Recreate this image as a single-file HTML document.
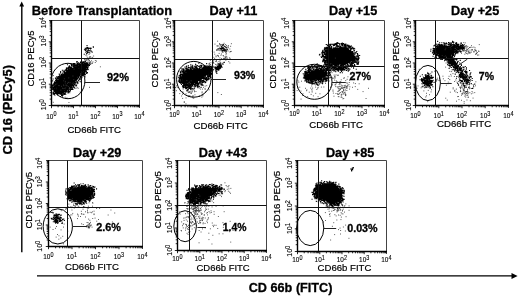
<!DOCTYPE html><html><head><meta charset="utf-8"><title>Figure</title><style>html,body{margin:0;padding:0;background:#fff}svg{display:block;filter:blur(0.3px)}</style></head><body><svg width="520" height="296" viewBox="0 0 520 296" font-family='&quot;Liberation Sans&quot;, Arial, Helvetica, sans-serif'>
<rect width="520" height="296" fill="#fff"/>
<path d="M21.8 252.3V5" stroke="#000" stroke-width="1.4" fill="none"/>
<polygon points="21.7,1.5 19.3,6.4 24.1,6.4" fill="#000"/>
<path d="M37 275.9H512" stroke="#000" stroke-width="1.4" fill="none"/>
<polygon points="517.6,276 511.5,272.9 511.5,279.1" fill="#000"/>
<text transform="translate(12 154.6) rotate(-90)" font-size="13" font-weight="bold" textLength="89.6" lengthAdjust="spacingAndGlyphs" stroke="#000" stroke-width=".3">CD 16 (PECy5)</text>
<text x="248.7" y="291.5" font-size="13" font-weight="bold" textLength="83.8" lengthAdjust="spacingAndGlyphs" stroke="#000" stroke-width=".3">CD 66b (FITC)</text>
<polygon points="55.4,89.2 54.6,88.4 54.6,87.2 55.5,86 55.5,84.8 55.9,83.6 55.7,82.2 56.6,81.1 57,79.7 59.1,79.3 59.2,76.8 61.2,76 62.4,74.5 64,73.6 65.4,72.6 66.3,71.3 67.3,70.2 68.6,69.8 69.6,69 70.4,68 71.9,68.1 73.2,67.8 74,66.3 75.6,66.3 77.1,66.3 78.4,65.4 79.6,64.8 80.9,64.9 82,64.9 82.9,64.1 83.9,63.7 84.8,64.3 85.4,64.7 86.2,64.4 86.6,64.6 86.3,65 86.8,65.2 87,66 86.1,66.8 85.5,67.7 85.6,68.9 85,70 84.8,71.1 83.2,71.2 82.7,72.2 81.8,72.9 80.6,73.3 80.1,74.9 79.3,76 77.8,76.7 77.7,78.5 76.6,79.6 75.7,80.8 74.7,82 74.1,83.5 72.3,84 72.1,85.7 71.1,86.8 69.2,87.2 68.8,89.1 67.5,89.9 66.8,91.2 65.4,91.5 64.5,92.2 63.6,92.7 62.5,92.3 61.4,93.1 60.4,92.7 59.3,92.8 58.5,92.2 57.5,92.7 57,92.2 56.7,91.6 56,91.5 55.5,91.3 54.9,90.9 56.3,89.7" fill="#000"/>
<path d="M91 60.8h.9M86.5 56h.9M87.8 59.3h.9M85 52.3h.9M88.1 59.3h.9M88 52.6h.9M85.4 58.6h.9M85.9 49h.9M86.9 57.8h.9M88.5 60.5h.9M84.1 59.7h.9M89.3 62.2h.9M86.2 54.2h.9M91.8 63.5h.9M90.7 63.7h.9M86 53.7h.9M85.4 55.2h.9M93.2 56h.9M88.6 57.9h.9M88.5 58.6h.9M85.9 49.3h.9M86.7 60.1h.9M89.1 57.1h.9M88.6 54.4h.9M84.9 61.3h.9M90.2 56.8h.9M87.8 62h.9M84.6 59.9h.9M89.5 56.9h.9M86.6 62.1h.9M74 88.2h.9M63.4 85.7h.9M54.5 95.6h.9M63.1 94.2h.9M72.5 76h.9M65.6 84.9h.9M81.7 91h.9M69.6 82.8h.9M69.1 91.7h.9M70.7 88.4h.9M60.4 90.2h.9M66.5 85.6h.9M62.1 88.2h.9M53.1 75.6h.9M73.4 79.6h.9M63.9 78.8h.9M66.5 97.9h.9M55.6 88.2h.9M62.7 88.6h.9M73.8 87.2h.9M68.3 82.4h.9M63.3 80.8h.9M79.8 92h.9M67 83.4h.9M64.7 97.2h.9M76.7 87.4h.9M53.5 86.7h.9M71.9 84.5h.9M58.5 85.5h.9M61.1 86.3h.9M62 96.7h.9M68.5 102.5h.9M68.3 77.9h.9M69.9 87.8h.9M69.2 91h.9M78.8 79.7h.9M81.1 81.6h.9M73.2 82.8h.9M73.6 69.1h.9M64.5 90.6h.9M58.6 85.7h.9M72.3 85.4h.9M67.8 86.6h.9M74.4 87.8h.9M52.8 102.3h.9M89.1 87.3h.9M57.2 91.9h.9M67.8 82.4h.9M75.5 88.5h.9M56.3 83.9h.9M63 85h.9M56 80.3h.9M51.9 89.3h.9M68.3 91.3h.9M69.9 89.3h.9M64.9 81.4h.9M77.7 88.3h.9M78.7 68.3h.9M67.4 92.7h.9M65.7 85.8h.9M65.3 88h.9M63.9 94.3h.9M78 83.1h.9M69.4 92.8h.9M64.8 83h.9M65.7 89.9h.9M71.9 83.3h.9M64.3 88.3h.9M96 61.1h.9M89.6 62.2h.9M89.7 64h.9M90.6 57.9h.9M92.5 61.9h.9M99.9 66.8h.9M89.9 61.9h.9M85.5 62.6h.9M89.6 62.1h.9M86.8 59.1h.9M89.9 64.5h.9M91.7 62.8h.9M88.7 62.5h.9M89.6 63.9h.9M86 64.1h.9M92.2 57.4h.9M89.4 63.3h.9M94.9 60.6h.9M94.8 62.5h.9M89 60.3h.9" stroke="#3a3a3a" stroke-width=".9" fill="none" opacity="1"/>
<path d="M56.5 91.7h1.1M67 71.8h1.1M68.5 68.3h1.1M76.5 66.3h1.1M86.3 65.8h1.1M69.6 67.3h1.1M85 65h1.1M55.8 90.4h1.1M80.8 63.8h1.1M56.3 91.5h1.1M85.6 66h1.1M79.1 64.3h1.1M55.9 91.9h1.1M85.2 65.3h1.1M68.5 89.3h1.1M76.1 65.9h1.1M54 89.1h1.1M70.8 86.7h1.1M60.3 92.8h1.1M55 86.1h1.1M57.1 80h1.1M53.4 84.2h1.1M84.1 68.7h1.1M84.6 64.5h1.1M54.8 91.2h1.1M69.9 69.4h1.1M64.9 72.9h1.1M62 92h1.1M74.4 65.4h1.1M71.2 86.4h1.1M73 66.4h1.1M84 71.8h1.1M56 82.4h1.1M76.6 78.3h1.1M56.9 91.9h1.1M74.2 81.9h1.1M59.7 92.9h1.1M67.6 90h1.1M83.8 71.5h1.1M56 92h1.1M86.7 65.1h1.1M60.1 76h1.1M83.5 70h1.1M78.7 75.9h1.1M63.8 73.2h1.1M60.5 76.3h1.1M75.3 78.6h1.1M86.1 64.3h1.1M85.7 66.2h1.1M66.8 89.1h1.1M75.7 80.8h1.1M59.1 92.6h1.1M61.7 74.7h1.1M69.6 88.5h1.1M84.3 68.3h1.1M53.9 87.4h1.1M54.6 83.6h1.1M81.6 65.2h1.1M78.4 77.5h1.1M61.7 75.5h1.1M85.1 69.9h1.1M55.6 90.1h1.1M59.4 77.7h1.1M60.8 76.5h1.1M55.7 90.9h1.1M67.7 68.2h1.1M58.9 93.3h1.1M80.5 63.7h1.1M69.5 88.1h1.1M54.7 84.1h1.1M79.6 75.7h1.1M59.5 93.9h1.1M78.8 65.2h1.1M79.2 75.5h1.1M67 70.4h1.1M60.9 74.4h1.1M54.7 89.9h1.1M85 67.6h1.1M84.9 70h1.1M55.6 82.4h1.1M67.9 69.4h1.1M80.6 76.2h1.1M81.2 62.9h1.1M66.4 69.1h1.1M54.8 89.5h1.1M54.7 87h1.1M77.6 77.1h1.1M56.6 78.8h1.1M62.3 91.7h1.1M84.7 71.2h1.1M69.3 66.8h1.1M77.8 77.5h1.1M61.8 76.3h1.1M77.5 64.7h1.1M85.3 66.2h1.1M75.9 76.4h1.1M58.9 76.1h1.1M80.4 64.2h1.1M55.5 81h1.1M59.3 77.4h1.1M67.8 70.3h1.1M76.2 65.9h1.1M58.1 92.8h1.1M82.7 64.2h1.1M55.4 78.8h1.1M56.4 93.1h1.1M82.7 70.1h1.1M57.5 81.2h1.1M56.3 82h1.1M55.8 82.6h1.1M57.8 91.8h1.1M83 72.3h1.1M74.7 79.7h1.1M55.1 91.2h1.1M83.4 63.6h1.1M58.3 92.8h1.1M84.2 63.5h1.1M74.2 82.5h1.1M64.9 92.1h1.1M54 83.9h1.1M72 85.6h1.1M65 90.9h1.1M55.8 90.5h1.1M74.3 80.3h1.1M85.8 64.9h1.1M60.4 76.4h1.1M68.7 89.3h1.1M85.8 65.4h1.1M65.5 91.5h1.1M55.1 85.9h1.1M78.5 63.4h1.1M65.9 90.4h1.1M81.4 73.7h1.1M72 84.1h1.1M82.5 72.7h1.1M65.6 90.1h1.1M64.3 93h1.1M70.5 87.7h1.1M75.8 80.2h1.1M71.2 68h1.1M54.8 82.2h1.1M67.4 90.9h1.1M79.9 62.5h1.1M70.1 68.1h1.1M55.2 89.7h1.1M58.9 77.4h1.1M53.8 87.8h1.1M83.5 64.1h1.1M74.2 66.7h1.1M86.1 66.5h1.1M82 73h1.1M73.5 65.6h1.1M84.2 69.7h1.1M81.3 74.2h1.1M75.3 80h1.1M80.6 73.6h1.1M54.1 87.1h1.1M69.2 69h1.1M65.6 92.1h1.1M78.5 74.4h1.1M73.1 66h1.1M79.4 64.2h1.1M57 92.1h1.1M71.6 84.7h1.1M79.9 64.9h1.1M74.3 67.3h1.1M58 78.9h1.1M65.8 89.5h1.1M78.3 75.6h1.1M85.2 63.1h1.1M74.5 81.7h1.1M83.2 72.1h1.1M84.8 69.4h1.1M76.7 79.2h1.1M69.5 89.1h1.1M86.4 67.6h1.1M83.8 63.5h1.1M70.6 68.2h1.1M75.3 67h1.1M56.3 91h1.1M65.6 71.9h1.1M57.1 81.5h1.1M79.5 74.3h1.1M77 64.6h1.1M56 80.5h1.1M84.2 71.1h1.1M71.4 87.2h1.1M54.9 87.9h1.1M86.5 66.3h1.1M60.3 76.4h1.1M82.6 72.6h1.1M66.5 91.3h1.1M65.9 90.7h1.1M67.8 90.6h1.1M72.6 65.9h1.1M77.8 77.5h1.1M77.7 76.5h1.1M58.3 93h1.1M73.3 80.9h1.1M69.6 87.7h1.1M55.6 81.3h1.1M75.6 65.8h1.1M82.1 65.3h1.1M78 76.7h1.1M61.4 94.1h1.1M80.1 64.6h1.1M86.7 67.8h1.1M70.4 87.3h1.1M64 72.5h1.1M82.7 61.9h1.1M66.2 70.5h1.1M60.9 75.6h1.1M74.1 82.2h1.1M59.9 92.7h1.1M60.8 75.6h1.1M74.8 82.8h1.1M74.3 83.2h1.1M71 87.3h1.1M73.5 82.9h1.1M82.3 71.5h1.1M57.1 80.7h1.1M67.8 90h1.1M65.5 71h1.1M87.1 64.3h1.1M55 92.1h1.1M83.1 72.2h1.1M72.8 67h1.1M53.5 85.2h1.1M70.7 68.4h1.1M83.1 70.3h1.1M61.6 93.1h1.1M65.2 91.9h1.1M67.4 71.2h1.1M74.2 84.6h1.1M77.2 78.6h1.1M65.1 90.3h1.1M85.4 66.2h1.1M85.3 67.2h1.1M84.6 64.7h1.1M59.6 92.8h1.1M84.4 69h1.1M57.1 80.2h1.1M86.9 67.1h1.1M59.9 93.6h1.1M63.1 93.4h1.1M81.4 63.6h1.1M59.6 93.1h1.1M55 80.2h1.1M69.9 87h1.1M79.4 75.3h1.1M55.2 89.6h1.1M86.2 64.8h1.1M83.7 64.2h1.1M85.7 63.8h1.1M70.5 67.7h1.1M61.5 92.6h1.1M64.3 91.7h1.1M59.5 77.5h1.1M69.6 87.6h1.1M78.8 74.7h1.1M63.3 71.3h1.1M83.9 63.6h1.1M72 66h1.1M84.9 68.4h1.1M58.7 77.5h1.1M86.3 66.7h1.1M57.8 78.4h1.1M59.4 78.2h1.1M61.8 93.1h1.1M85.8 67.8h1.1M72.6 66h1.1M61 93.3h1.1M77.8 65.3h1.1M63.4 74.1h1.1M56.9 92.7h1.1M54.5 89h1.1M56.7 91.1h1.1M54.2 83.6h1.1M65.1 91.9h1.1M85.6 65.7h1.1M57.8 78.5h1.1M55.1 90.6h1.1M84.4 64.2h1.1M54.3 87h1.1M71.3 84.9h1.1M54.7 89.2h1.1M60.7 77h1.1M85.3 69.3h1.1M55.9 92.1h1.1M56.6 77.6h1.1M68.1 90.2h1.1M84.8 64.2h1.1M54.6 85h1.1M65.7 72.4h1.1M60.3 93.2h1.1M73.1 83.8h1.1M58.5 93.8h1.1M85.5 70.5h1.1M59.2 77.2h1.1M73.5 66.6h1.1M75.2 65.5h1.1M70.7 67h1.1M55.3 83.1h1.1M61.1 92.5h1.1M56.2 81.6h1.1M68.1 89.5h1.1M72 84.1h1.1M85.6 65h1.1M77.8 75.5h1.1M84.5 64.1h1.1M84 69.1h1.1M71.5 85.6h1.1M86.5 64.2h1.1M57.3 90.2h1.1M62.7 91.6h1.1M55.5 83.1h1.1M57.7 93.3h1.1M61.6 75.4h1.1M67.3 70.2h1.1M80.6 63.5h1.1M65.1 91.4h1.1M85.5 67.9h1.1M69.3 87.5h1.1M55.2 83.3h1.1M71.2 87h1.1M53.9 84.1h1.1M70.9 68h1.1M66.1 68.9h1.1M62.9 92.8h1.1M82.3 64.3h1.1M68.3 89.1h1.1M71.4 85.7h1.1M73.7 82.6h1.1M80.7 74.1h1.1M60.6 94.1h1.1M54.6 86.4h1.1M75 79.5h1.1M54.1 86.6h1.1M78.8 75.4h1.1M85.7 65.6h1.1M54.7 90.5h1.1M60 94.2h1.1M54.5 84.4h1.1M56.9 93.3h1.1M63.5 74h1.1M81.2 64.2h1.1M84.1 70.1h1.1M58.3 92.2h1.1M79.2 64.1h1.1M57.2 91.3h1.1M73.2 65.6h1.1M84.1 63.9h1.1M56.7 94.3h1.1M70 87h1.1M75.6 80.7h1.1M81.4 62.7h1.1M53.9 89.9h1.1M59.3 75.8h1.1M76.6 65.2h1.1M83 72.9h1.1M59.7 93.1h1.1M54.2 82.3h1.1M54.2 84.1h1.1M75.8 79.3h1.1M68.9 67.4h1.1M65 91.6h1.1M83.2 71.8h1.1M57.8 90.9h1.1M86.7 64h1.1M85.8 64.6h1.1M66.1 89.2h1.1M58.5 78.7h1.1M65.9 70.1h1.1M57.6 91.6h1.1M58.2 77.5h1.1M60.8 92.3h1.1M74.2 82.4h1.1M56.9 89.5h1.1M71.2 67.9h1.1M80.4 72.9h1.1M54.1 86.3h1.1M75.3 79.5h1.1M54.4 85h1.1M81.4 63.8h1.1M77 65.8h1.1M65.2 72.7h1.1M84.3 69.9h1.1M74.4 66.9h1.1M54.1 81.9h1.1M72.5 84.4h1.1M64.1 72.8h1.1M77.8 64.2h1.1M75.5 65h1.1M73.9 82.3h1.1M72.7 85.4h1.1M86.2 66.5h1.1M52.1 80.9h1.1M86.7 63h1.1M76 85.7h1.1M53.3 91.7h1.1M55.2 93.1h1.1M60.1 72.5h1.1M68.6 67.3h1.1M88 67h1.1M68.8 65.8h1.1M60.1 71.6h1.1M66.5 68h1.1M54 93.6h1.1M75.1 85h1.1M88.3 65.4h1.1M85.8 72.9h1.1M76 61.9h1.1M85.7 71.4h1.1M60.1 72.9h1.1M52.6 84.7h1.1M83.1 74.1h1.1M84.1 72.9h1.1M83.4 61.8h1.1M88.8 63.8h1.1M57.2 77.7h1.1M61.8 95.7h1.1M88.9 65.4h1.1M84.2 62h1.1M68.6 91.6h1.1M83.7 74.1h1.1M62.3 70.3h1.1M86.7 68.1h1.1M82.3 76h1.1M57.4 95.2h1.1M86.1 69.4h1.1M56.8 93.9h1.1M78.7 64.1h1.1M55.5 93.2h1.1M55.6 93.5h1.1M67.6 91.8h1.1M62.3 94.7h1.1M88.4 64.3h1.1M55.4 93.6h1.1M87.3 69.7h1.1M84.4 76.9h1.1M83.5 62.9h1.1M84.9 74.8h1.1M83.4 62.2h1.1M84.2 73.2h1.1M52 85.1h1.1M53.4 83.9h1.1M67.6 92.9h1.1M61.6 94.2h1.1M68.4 66.6h1.1M53 88.7h1.1M52 86.2h1.1M68.1 91.9h1.1M87.8 65.7h1.1M70.8 64.9h1.1M72.7 85.7h1.1M87 68.8h1.1M86.1 62.8h1.1M52.6 79h1.1M81.5 63.3h1.1M69.9 91h1.1M80.3 79.6h1.1M86.8 65.5h1.1M62 73.7h1.1M79.9 78.3h1.1M52.3 89.4h1.1M54.2 91.4h1.1M82.8 75.1h1.1M73.9 84.9h1.1M87.6 69.2h1.1M79 63.7h1.1M61.2 94.6h1.1M85.2 63.5h1.1M73.6 87.4h1.1M68.8 91.7h1.1M68.6 68.4h1.1M52.7 87.7h1.1M53.6 91.5h1.1M52.1 87.7h1.1M65.4 91.5h1.1M81.8 75.6h1.1M52.6 89.3h1.1M66.6 68.2h1.1M63.7 71.2h1.1M54 82.7h1.1M83.2 73.7h1.1M56.2 76.9h1.1M76.9 63.5h1.1M81.8 63.2h1.1M53.8 87.1h1.1M77.8 62.9h1.1M80.7 76.3h1.1M86.2 73.4h1.1M85.3 71.7h1.1M58.4 93.3h1.1M64.4 70.3h1.1M81.8 62.4h1.1M77.8 80.5h1.1M63.9 71.7h1.1M73.9 64h1.1M84.3 74.2h1.1M74.6 83.5h1.1M52.4 89.3h1.1M83.5 62.4h1.1M82.9 61.7h1.1M75.7 64.2h1.1M74.5 63.7h1.1M62.4 95.2h1.1M82.6 62.6h1.1M81.8 74.8h1.1M52.9 86h1.1M69.7 90h1.1M86.9 72.6h1.1M81 62.7h1.1M79.7 76.5h1.1M71.8 89.1h1.1M72.5 89.2h1.1M61 95.5h1.1M52.7 94.1h1.1M71.2 89h1.1M80.3 61.8h1.1M70.4 89.3h1.1M79.8 81.8h1.1M76.7 63.4h1.1M87.1 64.3h1.1M53.4 88.7h1.1M65.9 68h1.1M57.9 76.5h1.1M58.3 93.7h1.1M56.1 93.2h1.1M71.7 87.3h1.1M71.2 64.4h1.1M53.8 94.7h1.1M68 67.6h1.1M64.4 94.2h1.1M71.3 89.1h1.1M56.9 93.3h1.1M72.8 86.1h1.1M57.5 78.2h1.1M53.2 89.1h1.1M53.3 92.4h1.1M65.2 69.9h1.1M64.3 93.4h1.1M84.8 61.4h1.1M60.1 96.5h1.1M76.9 81.9h1.1M53.3 83.4h1.1M87 63.1h1.1M78.3 81h1.1M87.7 69.3h1.1M58.7 74.1h1.1M71 89.5h1.1M76.6 83.7h1.1M53.9 83.3h1.1M63.7 71.2h1.1M77 82.6h1.1M56.1 77h1.1M53.5 85.7h1.1M81.1 61.4h1.1M68.8 65.8h1.1M80.1 62.5h1.1M73.1 86.9h1.1M66.6 67.8h1.1M75.7 82.1h1.1M83.5 75h1.1M84.7 63.3h1.1M54.9 78.1h1.1M73.5 64.8h1.1M81.2 64.2h1.1M64.8 93.7h1.1M52.3 89.5h1.1M71.3 64.9h1.1M71.7 88.1h1.1M53.5 87.5h1.1M84.3 74.5h1.1M69.3 67.1h1.1M87.1 64.4h1.1M52.6 87.6h1.1M68.3 69.2h1.1M65.2 94.2h1.1M53.1 93.4h1.1M57.7 78.4h1.1M58.1 93.8h1.1M52.4 92.9h1.1M78.3 77.7h1.1M65.8 69h1.1M78.7 79.5h1.1M72.9 63.6h1.1M76.9 61.8h1.1M82.2 74.1h1.1M59.4 74.8h1.1M74 63.6h1.1M54.8 93.2h1.1M82.1 63h1.1M80.4 77.4h1.1M55.9 79.5h1.1M73.2 85.3h1.1M83.1 61.9h1.1M81.1 75.2h1.1M61.8 70.2h1.1M67 68.2h1.1M56.6 76.7h1.1M57 94.3h1.1M87 67.8h1.1M70.6 64.1h1.1M66.9 64.8h1.1M71 65.6h1.1M68.1 67.5h1.1M76.7 81.9h1.1M85.8 71.4h1.1M59.9 93.9h1.1M63.6 94.4h1.1M72.6 64.1h1.1M75.5 64.5h1.1M81.8 63.9h1.1M63.9 93.4h1.1M75.4 86h1.1M87.3 64h1.1M67.7 90.9h1.1M80.1 77.2h1.1M81.3 77.6h1.1M73.1 87.2h1.1M62.4 72h1.1M78.9 78.8h1.1M62.6 72.2h1.1M55.2 80.5h1.1M72 89.4h1.1M75.7 85h1.1M66.4 69.1h1.1M58.2 92.5h1.1M68.2 92.1h1.1M56.9 94h1.1M85.7 60h1.1M53.7 90.5h1.1M58.8 76.1h1.1M87 52.6h1.1M86.6 51.7h1.1M92.9 47.1h1.1M92.7 46.9h1.1M86.7 50.7h1.1M88.5 48.4h1.1M90.5 51.2h1.1M85.1 50.6h1.1M86.5 47.5h1.1M90.7 48.2h1.1M86.2 48h1.1M86.8 48.5h1.1M84.8 49.9h1.1M86.1 51.7h1.1M89.3 53h1.1M85.9 48.3h1.1M84.8 49.2h1.1M86.3 53.4h1.1M91.6 52.1h1.1M88.1 50.8h1.1M86.5 45.6h1.1M88.1 48.3h1.1M88.7 50.6h1.1M88 49.1h1.1M83.7 54.3h1.1M88.4 50.5h1.1M87.2 50.9h1.1M89.6 48.1h1.1M84.7 48.2h1.1M90 48.9h1.1M86.6 49h1.1M83.9 49.8h1.1M90.6 51h1.1M86.6 50.8h1.1M88.5 52.3h1.1M87.3 47.6h1.1M90.1 50.7h1.1M90.1 50.8h1.1" stroke="#000" stroke-width="1.1" fill="none" opacity="1"/>
<path d="M51.5 20.5H139.5V105.5" stroke="#444" stroke-width="1" fill="none"/>
<path d="M51.5 20V105.5H140" stroke="#000" stroke-width="1.4" fill="none"/>
<path d="M81.5 20.5V105.5M51.5 58.5H139.5" stroke="#111" stroke-width="1" fill="none"/>
<path d="M51.5 105.5v2.7M51.5 105.5h-2.7M58.1 105.5v1.8M51.5 99.1h-1.8M62 105.5v1.8M51.5 95.4h-1.8M64.7 105.5v1.8M51.5 92.7h-1.8M66.9 105.5v1.8M51.5 90.6h-1.8M68.6 105.5v1.8M51.5 89h-1.8M70.1 105.5v1.8M51.5 87.5h-1.8M71.4 105.5v1.8M51.5 86.3h-1.8M72.5 105.5v1.8M51.5 85.2h-1.8M73.5 105.5v2.7M51.5 84.2h-2.7M80.1 105.5v1.8M51.5 77.9h-1.8M84 105.5v1.8M51.5 74.1h-1.8M86.7 105.5v1.8M51.5 71.5h-1.8M88.9 105.5v1.8M51.5 69.4h-1.8M90.6 105.5v1.8M51.5 67.7h-1.8M92.1 105.5v1.8M51.5 66.3h-1.8M93.4 105.5v1.8M51.5 65.1h-1.8M94.5 105.5v1.8M51.5 64h-1.8M95.5 105.5v2.7M51.5 63h-2.7M102.1 105.5v1.8M51.5 56.6h-1.8M106 105.5v1.8M51.5 52.9h-1.8M108.7 105.5v1.8M51.5 50.2h-1.8M110.9 105.5v1.8M51.5 48.1h-1.8M112.6 105.5v1.8M51.5 46.5h-1.8M114.1 105.5v1.8M51.5 45h-1.8M115.4 105.5v1.8M51.5 43.8h-1.8M116.5 105.5v1.8M51.5 42.7h-1.8M117.5 105.5v2.7M51.5 41.8h-2.7M124.1 105.5v1.8M51.5 35.4h-1.8M128 105.5v1.8M51.5 31.6h-1.8M130.7 105.5v1.8M51.5 29h-1.8M132.9 105.5v1.8M51.5 26.9h-1.8M134.6 105.5v1.8M51.5 25.2h-1.8M136.1 105.5v1.8M51.5 23.8h-1.8M137.4 105.5v1.8M51.5 22.6h-1.8M138.5 105.5v1.8M51.5 21.5h-1.8M139.5 105.5v2.4M51.5 20.5h-2.4" stroke="#000" stroke-width="0.85" fill="none"/>
<text x="46.3" y="118.6" font-size="8.1" textLength="10.2" lengthAdjust="spacingAndGlyphs" fill="#000" stroke="#000" stroke-width=".12">10<tspan dy="-2.3" font-size="6.9">0</tspan></text>
<text transform="translate(46.4 110.2) rotate(-90)" font-size="8.1" textLength="11" lengthAdjust="spacingAndGlyphs" fill="#000" stroke="#000" stroke-width=".12">10<tspan dy="-2.3" font-size="6.9">0</tspan></text>
<text x="68.3" y="118.6" font-size="8.1" textLength="10.2" lengthAdjust="spacingAndGlyphs" fill="#000" stroke="#000" stroke-width=".12">10<tspan dy="-2.3" font-size="6.9">1</tspan></text>
<text transform="translate(46.4 89) rotate(-90)" font-size="8.1" textLength="11" lengthAdjust="spacingAndGlyphs" fill="#000" stroke="#000" stroke-width=".12">10<tspan dy="-2.3" font-size="6.9">1</tspan></text>
<text x="90.3" y="118.6" font-size="8.1" textLength="10.2" lengthAdjust="spacingAndGlyphs" fill="#000" stroke="#000" stroke-width=".12">10<tspan dy="-2.3" font-size="6.9">2</tspan></text>
<text transform="translate(46.4 67.7) rotate(-90)" font-size="8.1" textLength="11" lengthAdjust="spacingAndGlyphs" fill="#000" stroke="#000" stroke-width=".12">10<tspan dy="-2.3" font-size="6.9">2</tspan></text>
<text x="112.3" y="118.6" font-size="8.1" textLength="10.2" lengthAdjust="spacingAndGlyphs" fill="#000" stroke="#000" stroke-width=".12">10<tspan dy="-2.3" font-size="6.9">3</tspan></text>
<text transform="translate(46.4 46.4) rotate(-90)" font-size="8.1" textLength="11" lengthAdjust="spacingAndGlyphs" fill="#000" stroke="#000" stroke-width=".12">10<tspan dy="-2.3" font-size="6.9">3</tspan></text>
<text x="134.3" y="118.6" font-size="8.1" textLength="10.2" lengthAdjust="spacingAndGlyphs" fill="#000" stroke="#000" stroke-width=".12">10<tspan dy="-2.3" font-size="6.9">4</tspan></text>
<text transform="translate(46.4 28.2) rotate(-90)" font-size="8.1" textLength="11" lengthAdjust="spacingAndGlyphs" fill="#000" stroke="#000" stroke-width=".12">10<tspan dy="-2.3" font-size="6.9">4</tspan></text>
<text x="67.4" y="133" font-size="9.8" textLength="53.6" lengthAdjust="spacingAndGlyphs" fill="#000" stroke="#000" stroke-width=".2">CD66b FITC</text>
<text transform="translate(34 86.6) rotate(-90)" font-size="9.8" textLength="56" lengthAdjust="spacingAndGlyphs" fill="#000" stroke="#000" stroke-width=".2">CD16 PECy5</text>
<text x="31.8" y="14.9" font-size="12.3" font-weight="bold" textLength="140.2" lengthAdjust="spacingAndGlyphs" fill="#000" stroke="#000" stroke-width=".3">Before Transplantation</text>
<ellipse cx="68" cy="81" rx="16.9" ry="17.7" fill="none" stroke="#000" stroke-width="1"/>
<path d="M84.8 82.5H100" stroke="#222" stroke-width="1"/>
<text x="107" y="81.1" font-size="11" font-weight="bold" textLength="22" lengthAdjust="spacingAndGlyphs" fill="#000" stroke="#000" stroke-width=".3">92%</text>
<polygon points="182.5,77.2 181.8,76.1 182.5,75.3 183,74.5 183.5,73.7 183.9,72.8 184.6,72.1 186.1,72.5 186.7,71.3 187.8,70.5 189.2,69.6 190.8,68.9 192.8,69.7 194.2,67.9 196,68.6 197.7,68.2 199.4,68.5 201.2,68.5 202.9,67.4 204.5,68.3 205.8,68.3 207.1,67.9 208.1,67.8 208.2,69.6 209,69.3 209.4,69.6 210.4,69.4 210.9,69.8 209.8,70.6 210,71.1 210.1,71.9 209.9,72.8 208.8,73.5 208.8,74.8 207.5,75.4 206,75.6 205.8,76.8 205.4,78.3 204.4,79.5 202.3,79.1 201.2,80.2 200.4,81.7 198.3,81 197.9,83.4 196.5,84.4 194.2,83.2 193.4,85.6 191.8,85.6 190.6,86.7 189.4,86.3 188.4,86 187.4,86.1 186.3,86.2 185.6,85.5 184.8,85 184.7,83.9 183.5,84.1 183.2,83.2 181.9,82.7 182.4,81.3 182.2,80.2 182.3,79.1 181.6,78.1" fill="#000"/>
<path d="M227.9 47.7h.9M220.3 50.1h.9M222.6 46.1h.9M216.5 45.9h.9M219.3 48.6h.9M221.5 50.2h.9M224.6 50.3h.9M223.2 49.6h.9M225.4 56.7h.9M214.5 44.1h.9M223.6 43.3h.9M221.7 50.4h.9M218.3 48.6h.9M223.1 44.5h.9M218.7 53.4h.9M224.6 47h.9M221.9 44.4h.9M224.3 50.4h.9M218.6 50.1h.9M226.3 56.7h.9M224.9 44.5h.9M230.2 46.3h.9M222.1 47.9h.9M220.8 47.2h.9M223.1 48.7h.9M221.1 46.4h.9M219.2 43.5h.9M222.8 47.5h.9M221.9 50.9h.9M219.5 50.7h.9M221.4 46.6h.9M218.4 49.7h.9M222.9 50.2h.9M217.5 46.4h.9M229.4 49h.9M222.6 49h.9M224.8 57.8h.9M217.7 48.5h.9M224.3 46.4h.9M222.1 48.3h.9M226.7 47.8h.9M225.4 52.8h.9M217.2 41.2h.9M227.6 46.4h.9M216.2 50.3h.9M227.6 51h.9M222.3 48.9h.9M217.4 50.1h.9M226 45.4h.9M222.5 49.9h.9M219.2 44.7h.9M220.3 44.5h.9M224.1 50.6h.9M217.5 45.5h.9M219.3 47.2h.9M229.5 52h.9M220 45.2h.9M223.7 50.9h.9M223.1 55.9h.9M226.4 48.9h.9M225.5 52.3h.9M212.1 49.4h.9M221.3 44.7h.9M227.9 45.6h.9M219.4 48.3h.9M230.9 43.7h.9M223.5 49.1h.9M217.6 48.8h.9M224.5 50.6h.9M230 51.5h.9M228.3 61.6h.9M222.8 62.6h.9M217.9 55.7h.9M212.6 57.3h.9M225.4 60.2h.9M225 57.8h.9M214.1 58.3h.9M219.5 57.9h.9M227.2 58.2h.9M217.9 56.6h.9M223.6 58.9h.9M211.8 51.2h.9M217 55.4h.9M225.3 51.7h.9M215.6 56.8h.9M214.3 54.2h.9M214.6 59.3h.9M219.7 62.2h.9M213.7 52.1h.9M221.1 54h.9M224.5 58.5h.9M229.4 63h.9M219.6 60.3h.9M229.8 58.9h.9M224.5 56.9h.9M220.5 55.3h.9M224.3 58.7h.9M229.3 59.1h.9M229.2 57.8h.9M225.5 54.8h.9M221.2 50.6h.9M225.9 53.7h.9M222.7 55.6h.9M222.5 52.4h.9M223 58.4h.9M230.8 51.4h.9M215.6 55.9h.9M221.2 58.5h.9M216.1 60.4h.9M226 58.1h.9M202.8 85.2h.9M186.4 80.6h.9M184.7 87.3h.9M201.7 91.9h.9M183.8 101.6h.9M190.4 89.8h.9M176 85.9h.9M202 89.1h.9M198.3 86.3h.9M184.9 86.3h.9M175.9 90.7h.9M194.1 91.7h.9M194.2 86.9h.9M202.4 95.8h.9M208.6 89.8h.9M193.9 90.8h.9M189.8 87.6h.9M189.6 92.1h.9M189 92.3h.9M179.3 93.6h.9M183.6 86.1h.9M190.9 93.4h.9M176.8 87.4h.9M179.8 90.7h.9M202.8 94h.9M185.6 97.9h.9M199 88h.9M201.7 84.7h.9M191.8 91h.9M199.3 96.4h.9M190.1 88.6h.9M183.8 102.5h.9M190.7 80.8h.9M192.4 97.8h.9M192.8 96.1h.9M192.4 95.9h.9M188.2 86.1h.9M201.4 97.1h.9M190 96.2h.9M188 96.6h.9M200.2 89.1h.9M182.7 89.1h.9M191.7 96.8h.9M205.2 92h.9M192.4 88.5h.9M204.7 86.1h.9M189.5 91.6h.9M187.2 83.5h.9M190.4 93.2h.9M186.8 91.1h.9M188.6 82.5h.9M187.9 92.6h.9M199.1 96.3h.9M195.5 91.5h.9M190 83.6h.9M185.1 87.2h.9M220.9 94.5h.9M190.1 83.7h.9M204.6 88.4h.9M181.2 96h.9M185.2 88.8h.9M203 87.3h.9M182 94.3h.9M182.2 98.4h.9M191.4 92.3h.9M185.3 83.6h.9M189.2 82.1h.9M193.3 89h.9M199.7 81.2h.9M193.5 89.8h.9M194.5 94.8h.9M203.9 76.9h.9M204.7 89.4h.9M188.7 91.9h.9M175.1 87.5h.9M182.8 92.2h.9M201.6 92.8h.9M187.6 95.5h.9M185.5 103.9h.9M187.8 91.9h.9M206.3 85.7h.9M192.4 85.1h.9M188.5 84h.9M185.6 93.8h.9M182 92h.9M217.4 92.6h.9M191.6 91.2h.9M193.3 98.3h.9M189.1 95.8h.9M201.6 95.4h.9M211.6 66.4h.9M212.7 66.2h.9M209.7 62.8h.9M211.7 69.5h.9M213.9 67h.9M210 64.5h.9M211.7 62.7h.9M219.8 62.9h.9M213.1 62.7h.9M209.1 63.9h.9M209.9 60.3h.9M213.4 63.3h.9M216.2 61.6h.9M213.4 67.4h.9M216.3 65.1h.9M214.6 67.4h.9M210.3 69.2h.9M216.8 64.4h.9M212.3 68.3h.9M219.4 64.1h.9M211.9 64.8h.9M213.2 60.8h.9M212 63.4h.9M212.9 66.8h.9M215.1 64.4h.9M213.1 62.2h.9M217.3 63.2h.9M215 61.3h.9M218.5 61.5h.9M213.9 59.6h.9" stroke="#3a3a3a" stroke-width=".9" fill="none" opacity="1"/>
<path d="M209.7 74.8h1.1M199.1 68.8h1.1M204.7 67.9h1.1M180.9 79.3h1.1M210.4 71h1.1M186.4 86.7h1.1M197.7 84.4h1.1M195.9 84h1.1M183.4 70.2h1.1M200.2 82.7h1.1M190 85.6h1.1M182.7 82h1.1M206.6 79.8h1.1M181.9 74.2h1.1M181.5 82.6h1.1M209.6 69h1.1M182.7 80.4h1.1M203.5 81h1.1M209.1 67.8h1.1M186.7 70.8h1.1M182.7 73.1h1.1M182 77.9h1.1M208.5 76h1.1M197.2 84.8h1.1M207.3 67.8h1.1M191.4 86.2h1.1M196.3 68.3h1.1M180.9 80.7h1.1M186.8 70.7h1.1M206.4 78.4h1.1M183.8 72.3h1.1M182.6 83.5h1.1M195 85.7h1.1M207.7 69.5h1.1M207.3 75.9h1.1M182.3 82.2h1.1M198.9 68.5h1.1M207.8 72.7h1.1M194.5 67.4h1.1M189.6 85.3h1.1M210.6 71h1.1M200.4 67.4h1.1M200.9 81.2h1.1M208.3 71.9h1.1M190.6 69.3h1.1M207.2 76.6h1.1M206.2 78.1h1.1M209.8 73.7h1.1M195.5 83.4h1.1M181.7 81.7h1.1M182.3 74.1h1.1M210 70.4h1.1M181 78.3h1.1M182.4 85.9h1.1M181.1 82.5h1.1M184.8 71.9h1.1M204.3 68.6h1.1M193.3 68.4h1.1M204.1 68.9h1.1M190.9 70.2h1.1M181 80.4h1.1M190.1 68.2h1.1M209.8 74.2h1.1M206.2 77.2h1.1M202.7 81.3h1.1M183.1 70.8h1.1M191.9 69h1.1M199 83h1.1M209.5 72h1.1M183.9 84.7h1.1M187.8 71.1h1.1M181.9 82.8h1.1M206.5 68.5h1.1M182.8 72.9h1.1M207.6 76.4h1.1M197.1 68.3h1.1M179.9 76h1.1M210 69.8h1.1M188.6 70.4h1.1M180.8 77.2h1.1M203.1 67.7h1.1M198.8 82.8h1.1M188.4 69h1.1M209.4 71h1.1M204.3 81.3h1.1M209.7 70.3h1.1M195.2 68.1h1.1M186.6 70.3h1.1M209.2 72.3h1.1M183.7 74.3h1.1M182 83h1.1M184.7 84.1h1.1M196.4 82.2h1.1M205.2 78.5h1.1M185.3 71.8h1.1M206.4 69.6h1.1M186.1 69.8h1.1M183.4 84.4h1.1M190.1 69.8h1.1M185.3 72.3h1.1M203.5 68.8h1.1M209 69.4h1.1M208 67.9h1.1M183.7 73.6h1.1M206.1 68.1h1.1M188.2 85.8h1.1M209.3 74.1h1.1M183.1 83.9h1.1M196.8 83.9h1.1M200.9 66.3h1.1M187 69.2h1.1M187.5 85.2h1.1M193.3 84.5h1.1M181.5 82.1h1.1M185.2 86.3h1.1M195.7 69.2h1.1M209.7 71.9h1.1M180.5 80.8h1.1M181.6 79.7h1.1M206.8 67.1h1.1M205.4 69.3h1.1M196 82.9h1.1M201.9 81.7h1.1M208.9 75.2h1.1M183.9 71.9h1.1M207.8 68.3h1.1M208.5 69.1h1.1M205 79.4h1.1M185.4 85h1.1M180 77.3h1.1M180.4 78.1h1.1M209 72.9h1.1M207.5 75.9h1.1M209.9 73.4h1.1M209.4 70.4h1.1M202.6 81.2h1.1M209.3 69.1h1.1M190.2 85.9h1.1M182.5 71.4h1.1M184.1 84.1h1.1M203.6 68.3h1.1M187.2 87.3h1.1M207.8 73.7h1.1M184.1 85.5h1.1M182.8 72.4h1.1M207.6 68.9h1.1M193.3 69.3h1.1M183.2 72.7h1.1M183.1 73.2h1.1M202.1 82.5h1.1M208.5 73.8h1.1M182.1 75.2h1.1M205.7 69.3h1.1M181.2 80.1h1.1M196.5 85.2h1.1M209.6 72.4h1.1M208.3 74.7h1.1M199.2 68.8h1.1M186.1 70.3h1.1M179.9 76.4h1.1M205.1 66h1.1M185.1 85.6h1.1M203.8 67.4h1.1M185.1 86.6h1.1M181.3 79h1.1M185.7 70.2h1.1M210.7 69h1.1M189.4 85.4h1.1M200.7 67.3h1.1M182.2 71.5h1.1M207.6 66.9h1.1M197 83.4h1.1M181 74.8h1.1M208.4 74.4h1.1M182.5 85.5h1.1M200.7 80.9h1.1M183.2 84.5h1.1M185.9 71h1.1M199.4 82.4h1.1M188.9 86.6h1.1M187.4 69.5h1.1M189.2 87.3h1.1M182.8 85.7h1.1M185 86.4h1.1M181.3 79.7h1.1M209.3 69.8h1.1M187 69.3h1.1M199.2 67.5h1.1M184.3 84.6h1.1M207 76h1.1M180.5 78.3h1.1M196.8 83.6h1.1M181.1 74.8h1.1M189.8 84.8h1.1M180.5 75.1h1.1M210.5 69.8h1.1M197.8 83.6h1.1M203.4 79h1.1M208.5 69.5h1.1M202.4 80.9h1.1M194.8 84.4h1.1M204.7 78.5h1.1M204.9 68.3h1.1M193.5 84.1h1.1M190.8 86.3h1.1M204.8 67.4h1.1M189.2 87.1h1.1M196.2 68.1h1.1M180.5 79.2h1.1M202.2 68.3h1.1M204.7 79.2h1.1M189 88.2h1.1M186.3 71.6h1.1M180.9 79.4h1.1M208.5 67.5h1.1M205.6 67.4h1.1M203.8 78.8h1.1M199.7 81.3h1.1M184.1 83.1h1.1M205.4 77.4h1.1M208.7 70.8h1.1M183.5 85.4h1.1M181.9 74.5h1.1M181.6 76.9h1.1M209.7 69.8h1.1M204.1 81.3h1.1M198.3 82.7h1.1M184.5 85.4h1.1M196.3 67.4h1.1M180.8 80.4h1.1M208.5 74.3h1.1M208.2 70h1.1M199.6 83.6h1.1M210 72.3h1.1M183.6 83.4h1.1M186 87.7h1.1M181.8 80h1.1M183.1 82.4h1.1M184.3 86.8h1.1M195.3 66.8h1.1M194 85.1h1.1M183.3 84h1.1M187.8 70h1.1M184.9 71h1.1M187.9 86.8h1.1M181.8 74.3h1.1M187.8 86.7h1.1M182 75.6h1.1M181.4 83.6h1.1M181.5 72.3h1.1M182.3 75.5h1.1M183.8 72.5h1.1M187.4 87.9h1.1M195.7 66.9h1.1M188.5 86.1h1.1M202.6 67.2h1.1M191.9 85.6h1.1M180 78.8h1.1M194 69.4h1.1M187.9 85.7h1.1M195.2 68h1.1M183 71.3h1.1M201.6 80.5h1.1M192.6 67.9h1.1M184.1 72.5h1.1M198.1 84.1h1.1M205 66.7h1.1M206.3 78.9h1.1M188.2 85.9h1.1M208.9 70.8h1.1M187.2 85.3h1.1M209.8 69.6h1.1M185.2 87.4h1.1M192.1 85h1.1M191.3 86.7h1.1M209.3 72.2h1.1M187.6 86.3h1.1M195 83.9h1.1M181.8 76.7h1.1M179.6 77.5h1.1M193.4 86.7h1.1M183.2 72.2h1.1M202.7 80.2h1.1M190.2 69.4h1.1M179.3 79.1h1.1M204.7 78.5h1.1M196.9 68.7h1.1M205.9 78.3h1.1M201.9 68.3h1.1M184 84.9h1.1M184 84.9h1.1M181.9 86.1h1.1M190.3 86.3h1.1M187.4 87.7h1.1M207.7 77.7h1.1M205.5 66.5h1.1M183.8 72.3h1.1M182.3 74.3h1.1M199.5 81.5h1.1M183 84.2h1.1M202.2 81.9h1.1M181.3 82.5h1.1M186.9 71.4h1.1M179.8 74.8h1.1M182.9 86.5h1.1M180.5 76.3h1.1M181.8 81.3h1.1M190 68.9h1.1M198.7 69.1h1.1M206.6 69h1.1M202.8 80.4h1.1M195.7 85.8h1.1M209.8 68.4h1.1M210.5 69.8h1.1M184.8 84.2h1.1M199.2 82.4h1.1M186.8 87.1h1.1M186.7 87.5h1.1M195.3 67.4h1.1M190.7 69.4h1.1M203 80.7h1.1M203.8 66.9h1.1M208.9 73.4h1.1M182.7 78.6h1.1M189.8 86h1.1M207.2 75.4h1.1M201.4 82.3h1.1M209.2 72.9h1.1M193.9 84.2h1.1M208.2 76.1h1.1M191.4 68.6h1.1M209 75.8h1.1M208.8 75.7h1.1M194.5 85.5h1.1M188.6 86.8h1.1M183.7 85.2h1.1M183 82.2h1.1M204.1 81.2h1.1M185.6 88.3h1.1M204.6 82.7h1.1M187.9 65.8h1.1M207.7 79.7h1.1M211.1 68.7h1.1M196.8 65.6h1.1M179.7 75.4h1.1M190.2 88.8h1.1M190.1 67.8h1.1M191.7 65.2h1.1M179.7 76.3h1.1M198.7 66.4h1.1M198.8 86.2h1.1M208.5 64h1.1M200.5 65.3h1.1M210 76h1.1M203 82.3h1.1M186.6 89.8h1.1M187.9 67.3h1.1M208 67h1.1M180.5 73.9h1.1M205.8 80h1.1M187.7 89.4h1.1M211.4 69.5h1.1M210.8 67.1h1.1M211.5 69.9h1.1M198.3 63.2h1.1M179.1 80.1h1.1M180.3 79.2h1.1M202.6 81.8h1.1M182.8 70.9h1.1M179.5 75.5h1.1M191.7 67.4h1.1M183.7 87.1h1.1M188.3 87h1.1M210.9 73.5h1.1M212 71.8h1.1M178.5 81.8h1.1M186.2 66.1h1.1M184.3 70h1.1M195.3 85.9h1.1M178.4 80.9h1.1M210.4 68.4h1.1M202.2 85.2h1.1M180.8 74.6h1.1M204.9 82.4h1.1M186.3 90.8h1.1M210.2 72.3h1.1M205.6 66.1h1.1M179.3 81.1h1.1M190 89.1h1.1M185.5 87.6h1.1M190.2 87.6h1.1M209.2 75.8h1.1M209.2 68h1.1M209.2 67.1h1.1M186.6 68.1h1.1M210.2 68.1h1.1M197.2 86.6h1.1M211.8 72.2h1.1M182.5 87.8h1.1M190.4 67.4h1.1M211.9 67.3h1.1M195 64.3h1.1M179.9 72.5h1.1M201.6 83.8h1.1M208.5 78.7h1.1M190.8 89h1.1M182.9 85.8h1.1M180.9 84.5h1.1M181.3 70.6h1.1M185.8 68.6h1.1M209.1 65.7h1.1M204.4 66h1.1M194.1 66.3h1.1M190.3 66.7h1.1M207.2 66.2h1.1M204 81.8h1.1M178.2 81.3h1.1M203.5 66h1.1M179.3 81.9h1.1M206.1 63.6h1.1M181.6 69.8h1.1M179.7 71.2h1.1M208.8 76.1h1.1M190.5 87.8h1.1M207.1 79.2h1.1M180.5 81.7h1.1M187.4 90.1h1.1M184.5 67.1h1.1M205.3 82h1.1M211.3 71.2h1.1M205.7 79.8h1.1M187.7 88.1h1.1M180 78.8h1.1M182.6 87.1h1.1M183.1 87.5h1.1M208.6 66.7h1.1M185.9 87.6h1.1M180.5 74.4h1.1M208 78h1.1M191.7 88.9h1.1M200.1 65.9h1.1M196.9 86.7h1.1M178.7 78.1h1.1M208.9 67.9h1.1M182.9 87.8h1.1M178.9 78.6h1.1M178.4 81.7h1.1M194.7 86.7h1.1M180 74.4h1.1M208 77.9h1.1M201.1 83.9h1.1M206.3 80.8h1.1M212.3 70.5h1.1M181.3 71.9h1.1M195.6 66.3h1.1M178.4 80h1.1M210.5 74.1h1.1M178.8 78.5h1.1M182.2 71.7h1.1M188.7 67.6h1.1M197.5 85.4h1.1M190.4 88.1h1.1M200.6 84.9h1.1M207.8 78.7h1.1M181.3 68.7h1.1M210 66.2h1.1M201.5 84.3h1.1M206.7 79.6h1.1M209.4 76.5h1.1M183 69.9h1.1M208.5 67.3h1.1M207.4 65.8h1.1M178.6 75.8h1.1M207.7 66.9h1.1M209.4 67h1.1M199.6 84h1.1M197.5 87.7h1.1M209.3 76.1h1.1M190.2 64.9h1.1M179.4 76.3h1.1M205.8 66.1h1.1M202.5 65.8h1.1M197.2 85.8h1.1M210.6 66.4h1.1M178.2 77.4h1.1M207.5 66.1h1.1M192.3 66.1h1.1M189.1 88.5h1.1M205.1 82.1h1.1M184.9 88.1h1.1M185.9 66.9h1.1M179 82.5h1.1M201 65.3h1.1M180.1 82.8h1.1M179.7 74.2h1.1M211.4 72.2h1.1M201.7 82.5h1.1M208.8 78.9h1.1M209.8 75.5h1.1M206 79.5h1.1M179.9 74h1.1M211.1 74.8h1.1M196.9 85.6h1.1M179.7 75.1h1.1M191.4 66.8h1.1M181.6 69.1h1.1M210.3 77.4h1.1M187.3 87.4h1.1M211.4 68.3h1.1M192.3 88.9h1.1M198.6 86.4h1.1M204.4 66h1.1M184.4 87.1h1.1M192 67.3h1.1M211.3 70.3h1.1M208.1 78h1.1M197.9 66.2h1.1M183.9 87.2h1.1M183.4 70.9h1.1M180 72.3h1.1M208.3 66.6h1.1M201.6 85.2h1.1M183 86.5h1.1M195.4 65h1.1M205.3 66.7h1.1M199.2 66h1.1M204 65.9h1.1M212.7 69.5h1.1M209.8 77.3h1.1M188.1 67.7h1.1M194.9 66.7h1.1M194 88.2h1.1M201.6 85.3h1.1M182.8 68.8h1.1M205.8 80.4h1.1M211.9 73.8h1.1M179.4 78.1h1.1M200.5 87.4h1.1M179.9 83.1h1.1M185.9 88.5h1.1M179.4 80.7h1.1M208.8 76.6h1.1M196.8 86.9h1.1M184.6 68.7h1.1M197.3 86.9h1.1M187.6 88.7h1.1M185 68.7h1.1M218 68.7h1.1M215.6 72.3h1.1M219.5 65.8h1.1M219.3 65.6h1.1M218 68.8h1.1M216.8 66.5h1.1M218.9 66.8h1.1M215.7 68.3h1.1M218.5 64.9h1.1M218.2 64.6h1.1M218.4 64.3h1.1M220.5 66h1.1M215.6 71.4h1.1M219.2 66.2h1.1M218.3 68.8h1.1M220.2 65h1.1M219.7 64.8h1.1M218.8 64.8h1.1M218.7 67.9h1.1M223.7 62.4h1.1M219.2 68.2h1.1M215.8 68.6h1.1M219.7 65.1h1.1M214.6 68.9h1.1M222.5 64.3h1.1M220.6 65.7h1.1M221 65h1.1M220 65.1h1.1M218.8 66.3h1.1M215.7 69.4h1.1M218.1 69.1h1.1M218.7 65.6h1.1M218.6 68.2h1.1M219.1 66.6h1.1M216.3 67.7h1.1M215.7 67.6h1.1M218.1 66h1.1M219.5 65.7h1.1M217.2 66.2h1.1M217.1 69.5h1.1M216.3 71.1h1.1M222.2 63.7h1.1M214.9 68.1h1.1M214.9 67.1h1.1M217.7 69.2h1.1M221 66.5h1.1M216.6 68.3h1.1M219.6 66.5h1.1M218.5 66.4h1.1M215.8 68.9h1.1M219.3 67.6h1.1M215.7 69.1h1.1M218.7 68.1h1.1M220.9 67h1.1M217.7 67.5h1.1M218.2 70.3h1.1M216.4 67h1.1M218.7 68.2h1.1M218.8 66.5h1.1M216.3 73.4h1.1M215.1 70.7h1.1M218.4 65.7h1.1M219.3 68.6h1.1M217 66.1h1.1M218.9 67.1h1.1M217.3 67h1.1M218.5 69.1h1.1M218.3 66.9h1.1M220 66.6h1.1M218.7 66.5h1.1M217.3 66.4h1.1M214.6 67.6h1.1M220 68.1h1.1M216.4 69.6h1.1M216.1 67.7h1.1M218.2 66.7h1.1M219.2 67.7h1.1M218.8 64h1.1M221.5 67.2h1.1M218.8 66.1h1.1M217.3 67.6h1.1M219.2 68.2h1.1M217.9 67.8h1.1M220.3 63.2h1.1M219.7 67h1.1M217.4 68.8h1.1M217.6 69.7h1.1M219.6 64.2h1.1M215.8 68.1h1.1M219.3 67h1.1M218.1 66.6h1.1M218.3 63.6h1.1M216.2 68.5h1.1M219.5 66.8h1.1M217.9 66.3h1.1M225.3 49.9h1.1M221.8 48.5h1.1M225.8 47.7h1.1M223.7 49.1h1.1M223.5 49.8h1.1M221.7 51.7h1.1M224.3 50.9h1.1M220.7 49.5h1.1M224.1 49h1.1M225.3 47.1h1.1M221.2 47.8h1.1M220.8 46.3h1.1M220.9 48.4h1.1M222.1 50.5h1.1M223 50.7h1.1M224.2 50.6h1.1M226.7 49.6h1.1M225.8 51.1h1.1M223.2 48.5h1.1M222.2 45.6h1.1M219.8 48.6h1.1M224.3 49.2h1.1M224.1 46.3h1.1M222.1 47.9h1.1M222.8 44.9h1.1M222.4 48h1.1M216.5 49.8h1.1M222.6 47.8h1.1" stroke="#000" stroke-width="1.1" fill="none" opacity="1"/>
<path d="M174.5 20.5H263.5V105.5" stroke="#444" stroke-width="1" fill="none"/>
<path d="M174.5 20V105.5H264" stroke="#000" stroke-width="1.4" fill="none"/>
<path d="M212.5 20.5V105.5M174.5 59.5H263.5" stroke="#111" stroke-width="1" fill="none"/>
<path d="M174.5 105.5v2.7M174.5 105.5h-2.7M181.2 105.5v1.8M174.5 99.1h-1.8M185.1 105.5v1.8M174.5 95.4h-1.8M187.9 105.5v1.8M174.5 92.7h-1.8M190.1 105.5v1.8M174.5 90.6h-1.8M191.8 105.5v1.8M174.5 89h-1.8M193.3 105.5v1.8M174.5 87.5h-1.8M194.6 105.5v1.8M174.5 86.3h-1.8M195.7 105.5v1.8M174.5 85.2h-1.8M196.8 105.5v2.7M174.5 84.2h-2.7M203.4 105.5v1.8M174.5 77.9h-1.8M207.4 105.5v1.8M174.5 74.1h-1.8M210.1 105.5v1.8M174.5 71.5h-1.8M212.3 105.5v1.8M174.5 69.4h-1.8M214.1 105.5v1.8M174.5 67.7h-1.8M215.6 105.5v1.8M174.5 66.3h-1.8M216.8 105.5v1.8M174.5 65.1h-1.8M218 105.5v1.8M174.5 64h-1.8M219 105.5v2.7M174.5 63h-2.7M225.7 105.5v1.8M174.5 56.6h-1.8M229.6 105.5v1.8M174.5 52.9h-1.8M232.4 105.5v1.8M174.5 50.2h-1.8M234.6 105.5v1.8M174.5 48.1h-1.8M236.3 105.5v1.8M174.5 46.5h-1.8M237.8 105.5v1.8M174.5 45h-1.8M239.1 105.5v1.8M174.5 43.8h-1.8M240.2 105.5v1.8M174.5 42.7h-1.8M241.2 105.5v2.7M174.5 41.8h-2.7M247.9 105.5v1.8M174.5 35.4h-1.8M251.9 105.5v1.8M174.5 31.6h-1.8M254.6 105.5v1.8M174.5 29h-1.8M256.8 105.5v1.8M174.5 26.9h-1.8M258.6 105.5v1.8M174.5 25.2h-1.8M260.1 105.5v1.8M174.5 23.8h-1.8M261.3 105.5v1.8M174.5 22.6h-1.8M262.5 105.5v1.8M174.5 21.5h-1.8M263.5 105.5v2.4M174.5 20.5h-2.4" stroke="#000" stroke-width="0.85" fill="none"/>
<text x="169.3" y="117.3" font-size="8.1" textLength="10.2" lengthAdjust="spacingAndGlyphs" fill="#000" stroke="#000" stroke-width=".12">10<tspan dy="-2.3" font-size="6.9">0</tspan></text>
<text transform="translate(171 110.7) rotate(-90)" font-size="8.1" textLength="11" lengthAdjust="spacingAndGlyphs" fill="#000" stroke="#000" stroke-width=".12">10<tspan dy="-2.3" font-size="6.9">0</tspan></text>
<text x="191.6" y="117.3" font-size="8.1" textLength="10.2" lengthAdjust="spacingAndGlyphs" fill="#000" stroke="#000" stroke-width=".12">10<tspan dy="-2.3" font-size="6.9">1</tspan></text>
<text transform="translate(171 89.5) rotate(-90)" font-size="8.1" textLength="11" lengthAdjust="spacingAndGlyphs" fill="#000" stroke="#000" stroke-width=".12">10<tspan dy="-2.3" font-size="6.9">1</tspan></text>
<text x="213.8" y="117.3" font-size="8.1" textLength="10.2" lengthAdjust="spacingAndGlyphs" fill="#000" stroke="#000" stroke-width=".12">10<tspan dy="-2.3" font-size="6.9">2</tspan></text>
<text transform="translate(171 68.2) rotate(-90)" font-size="8.1" textLength="11" lengthAdjust="spacingAndGlyphs" fill="#000" stroke="#000" stroke-width=".12">10<tspan dy="-2.3" font-size="6.9">2</tspan></text>
<text x="236.1" y="117.3" font-size="8.1" textLength="10.2" lengthAdjust="spacingAndGlyphs" fill="#000" stroke="#000" stroke-width=".12">10<tspan dy="-2.3" font-size="6.9">3</tspan></text>
<text transform="translate(171 46.9) rotate(-90)" font-size="8.1" textLength="11" lengthAdjust="spacingAndGlyphs" fill="#000" stroke="#000" stroke-width=".12">10<tspan dy="-2.3" font-size="6.9">3</tspan></text>
<text x="258.3" y="117.3" font-size="8.1" textLength="10.2" lengthAdjust="spacingAndGlyphs" fill="#000" stroke="#000" stroke-width=".12">10<tspan dy="-2.3" font-size="6.9">4</tspan></text>
<text transform="translate(171 28.7) rotate(-90)" font-size="8.1" textLength="11" lengthAdjust="spacingAndGlyphs" fill="#000" stroke="#000" stroke-width=".12">10<tspan dy="-2.3" font-size="6.9">4</tspan></text>
<text x="193.5" y="129.3" font-size="9.8" textLength="54.1" lengthAdjust="spacingAndGlyphs" fill="#000" stroke="#000" stroke-width=".2">CD66b FITC</text>
<text transform="translate(157.5 87.4) rotate(-90)" font-size="9.8" textLength="56.4" lengthAdjust="spacingAndGlyphs" fill="#000" stroke="#000" stroke-width=".2">CD16 PECy5</text>
<text x="209.5" y="15.1" font-size="12.1" font-weight="bold" textLength="47.8" lengthAdjust="spacingAndGlyphs" fill="#000" stroke="#000" stroke-width=".3">Day +11</text>
<ellipse cx="193.8" cy="79.3" rx="17.2" ry="17.9" fill="none" stroke="#000" stroke-width="1"/>
<path d="M211 79.5H226" stroke="#222" stroke-width="1"/>
<text x="234" y="79.4" font-size="11" font-weight="bold" textLength="21.3" lengthAdjust="spacingAndGlyphs" fill="#000" stroke="#000" stroke-width=".3">93%</text>
<polygon points="325.2,53.8 325.4,53 326.2,52.4 327.1,52 327.1,51.1 326.8,49.6 328.6,50.3 329.1,49.5 330,49 331,47.9 332.7,48.5 333.9,47.4 335.6,47.7 337,47.3 338.5,47.7 340,46.8 341.6,47.5 343.1,47.8 344.9,47.3 346.3,48.1 348.1,47.7 348.9,49.2 349.9,50.2 351.1,51.2 353.2,51.6 353.7,53.4 354,55.2 354.9,56.2 354.9,57.3 355.7,58 355.2,58.7 355.2,59.2 355.5,59.8 355.7,60.5 355,60.9 354.2,61.4 353,61.8 351,61.3 349.6,63 347.6,63.6 345.6,64.5 343.7,65.5 341.7,65.3 339.8,64.3 338.1,65.4 336.3,65.3 334.6,65.8 333.1,65.3 332,64.2 330.9,64.5 330.2,64.4 330.2,63.3 329,63.5 328.6,62.7 327.5,62.2 327.6,61 327.3,59.9 326.7,59.1 326.3,58.2 325.5,57.4 326.3,56.2 326.8,55.3 324.3,54.6" fill="#000"/>
<polygon points="307.4,75.3 308.2,74.8 307.7,73.9 309.2,73.8 308.9,72.9 309.5,72.4 310,72.1 310.6,71.9 310.5,70.1 312,70.5 313.2,70.2 314.6,70.4 315.6,68.7 316.9,68.5 318.2,69 319.4,69.6 320.8,68.7 322.2,69.1 323.3,70 325,68.6 325.6,69.6 325.6,70.5 325.7,70.5 326.6,70.5 326.9,71.1 326.7,72 326.7,72.8 326.1,73.6 327.2,74.7 325.8,75.1 325.8,75.9 325.6,76.6 324.9,77.1 324.8,78 324.5,78.8 322.8,77.6 322.4,79 321.4,80.1 319.9,80.6 318.1,80.1 316.7,80.9 315.2,80.8 314.1,80.8 313.3,80.3 312.2,80.9 311.2,80.6 310.3,80.3 309.8,79.3 309.2,78.7 308.4,78.6 307.1,78.9 308.3,77.5 308.1,77.2 307.1,77 308.5,76.3 309.2,76" fill="#000"/>
<path d="M331.7 77.4h.9M337.2 75.3h.9M334.2 80.1h.9M329.6 66.1h.9M337.4 64.9h.9M326.9 70h.9M324.1 71.4h.9M328.8 81h.9M325.1 83.4h.9M331.9 78.6h.9M332.8 82.6h.9M331.6 72.7h.9M330.4 71.9h.9M328.5 65.9h.9M336.4 82.1h.9M324.8 78.3h.9M335.6 74.9h.9M333.7 67h.9M332.4 69h.9M334.4 78h.9M326.4 75.1h.9M336.6 81.7h.9M334.7 76.2h.9M337.1 70.9h.9M324.4 68h.9M333.7 75.1h.9M332.1 84.9h.9M323.4 87h.9M331.3 70.7h.9M332.9 78.2h.9M329.5 70.7h.9M334.2 76.6h.9M334.9 58.1h.9M330.8 71.3h.9M331.2 64.2h.9M335.7 83.8h.9M328.7 72.7h.9M334.6 77.8h.9M337.9 75.2h.9M332.5 67h.9M344.5 94h.9M346.4 90.5h.9M343 89.1h.9M344.3 87.1h.9M346.5 88.6h.9M344.4 85.8h.9M341.6 87.8h.9M335.5 93.5h.9M338.7 84.5h.9M339 83.4h.9M345.1 95.6h.9M347.4 85.1h.9M342.2 88.3h.9M346.1 86.5h.9M332.5 90h.9M343.2 90.2h.9M337.4 87.8h.9M345.9 82.9h.9M347.2 83.1h.9M346.6 87.6h.9M345.3 95.5h.9M346.7 79.3h.9M349.4 86.8h.9M340.1 89.4h.9M348.5 84.7h.9M340.9 88.3h.9M336.8 86.8h.9M344.7 90.8h.9M345.3 94.7h.9M343.6 85.8h.9M339.7 88.6h.9M344.8 89.2h.9M341.4 88h.9M352.1 87.3h.9M343.8 77.7h.9M344 87.6h.9M340.3 82.4h.9M344.8 85.3h.9M349 89.1h.9M339.5 89.7h.9M340.9 85.2h.9M334.7 85.1h.9M342 85.9h.9M348.8 82.5h.9M337.5 94.1h.9M340.7 94.9h.9M339.3 86.3h.9M341.1 94.3h.9M339.1 90.6h.9M340.8 82.3h.9M337.8 91.2h.9M343 90.1h.9M346.1 87.8h.9M345.3 80.6h.9M334.8 84.4h.9M347.5 76.8h.9M345.1 87h.9M346.7 85.8h.9M338.7 82.1h.9M339.8 81.5h.9M344.9 93h.9M349.2 80.3h.9M338.4 90.3h.9M343.3 87.6h.9M344 92.6h.9M340.8 79.8h.9M343.6 87.6h.9M340.2 92.6h.9M347.3 86.3h.9M335.8 80.8h.9M343.4 78.4h.9M340.2 83.9h.9M341.9 91.6h.9M338.6 93.9h.9M330.2 87.3h.9M342 92.7h.9M342.6 94.3h.9M340.6 97.2h.9M333.5 96.2h.9M341.2 96h.9M332.6 91.2h.9M338.2 86.8h.9M341.6 91.6h.9M343 93.1h.9M337.1 93.9h.9M343.3 98.5h.9M345.2 94.4h.9M342.5 98.8h.9M337.5 91.6h.9M339.3 88.9h.9M337.8 96.6h.9M338 88.7h.9M341.3 87h.9M343.2 91h.9M337.8 94.5h.9M341.5 97.5h.9M339 93.2h.9M338.5 96.7h.9M332.9 93.1h.9M339.7 86.7h.9M305.1 88.3h.9M300.6 99.1h.9M312.2 88.1h.9M297.3 87.9h.9M302.5 93.7h.9M307.2 96.7h.9M320.8 83.3h.9M317.9 82.9h.9M310.7 94.4h.9M315.3 93.3h.9M311.7 92h.9M335.3 86.6h.9M300.5 91.1h.9M297.6 80.9h.9M298.4 82.2h.9M302.3 95.4h.9M310.8 81.7h.9M320.9 87.1h.9M311.6 90.9h.9M311.4 89.4h.9M312.2 82.5h.9M314.9 84.9h.9M306.2 90.7h.9M318.3 85.7h.9M312.9 95.9h.9M315.2 87.1h.9M317.6 96.7h.9M317.8 87.7h.9M319.5 93.8h.9M306.4 89.9h.9M317 88.1h.9M301 81.2h.9M296.7 90.6h.9M310.3 88.1h.9M316.4 89.5h.9M316.9 85.1h.9M316 83.2h.9M319.8 83h.9M299.3 87.2h.9M308.8 92.2h.9M311.3 86h.9M306.8 82.3h.9M315.7 83.6h.9M317.7 82h.9M315.5 79.7h.9M354.8 86.6h.9M353.2 82.9h.9M354.9 83.6h.9M368.1 88.3h.9M362.6 91.6h.9M365.6 98.5h.9M357.3 89.4h.9M358.7 83.8h.9" stroke="#3a3a3a" stroke-width=".9" fill="none" opacity="1"/>
<path d="M327 57.5h1.1M327.3 63.4h1.1M350.8 48.6h1.1M347.2 48.1h1.1M324.5 53.8h1.1M328.1 50.3h1.1M336.6 45.1h1.1M330.3 67h1.1M349.8 64.8h1.1M326.6 53.8h1.1M344.4 46.1h1.1M326.2 61.9h1.1M356.2 61h1.1M337.6 65.4h1.1M325.4 51.6h1.1M345.5 48h1.1M354.7 61h1.1M345.8 65.8h1.1M355.5 58h1.1M334.6 66.6h1.1M325.4 52.3h1.1M328.6 47.2h1.1M327.3 65.6h1.1M326.6 49.8h1.1M330 67.2h1.1M330.9 47.7h1.1M327.3 49.1h1.1M354.6 56.4h1.1M347.8 65.4h1.1M337.6 45.8h1.1M326.3 62.4h1.1M347.3 64.2h1.1M355.6 59.2h1.1M326.3 62h1.1M332 67.4h1.1M354.3 59.4h1.1M327.3 47.4h1.1M324 52.5h1.1M326.7 51h1.1M356.5 56.5h1.1M337.3 46.8h1.1M344.2 47.9h1.1M329.5 66.7h1.1M326.9 64.8h1.1M344.9 45.8h1.1M347.4 65h1.1M327.4 63.8h1.1M353.6 62.8h1.1M326.2 50.1h1.1M341.4 47.6h1.1M357.1 58.7h1.1M350 50.8h1.1M354.4 56.4h1.1M338.2 64.4h1.1M327.9 64.1h1.1M351.9 51.6h1.1M342.5 66h1.1M350.2 61.8h1.1M334.3 66h1.1M354.1 59.7h1.1M349.4 65.7h1.1M333.2 66.3h1.1M330.9 47.8h1.1M327.7 47.8h1.1M332.5 67h1.1M356 58.3h1.1M336 67.7h1.1M353.3 61.1h1.1M334 65.9h1.1M329.9 48.9h1.1M354.5 57.2h1.1M328.2 49.2h1.1M354.2 54.4h1.1M335.1 47.7h1.1M330.8 46.4h1.1M343.7 45.9h1.1M327.9 65.6h1.1M324.6 58.9h1.1M353.7 56.1h1.1M326.9 61.1h1.1M324.6 56.5h1.1M333.4 67.2h1.1M342.9 48.2h1.1M356.4 59.1h1.1M354 58.1h1.1M327.8 63.3h1.1M349.6 50.6h1.1M329.4 64h1.1M350.2 63.9h1.1M324.2 54.5h1.1M325.7 55.5h1.1M349.2 62.9h1.1M337.9 46.8h1.1M328.6 60.3h1.1M353.4 51h1.1M356.8 60.7h1.1M343.5 47.3h1.1M329.6 48.6h1.1M326.3 49.5h1.1M327.6 48.5h1.1M326.2 52.5h1.1M327.6 60.9h1.1M325.6 55.3h1.1M335.2 67.2h1.1M347.2 48.2h1.1M341.7 66.1h1.1M338 66.4h1.1M327.1 59.8h1.1M330.4 66h1.1M336.9 46.1h1.1M345.2 63.5h1.1M329.2 64.3h1.1M341.6 47.6h1.1M353.9 59.7h1.1M341.3 64.9h1.1M335.4 47h1.1M325.6 57.6h1.1M350 49.3h1.1M355.2 58.2h1.1M350.6 65.6h1.1M325.1 60.9h1.1M339.7 46.2h1.1M326.7 61.6h1.1M341.7 47.3h1.1M330.6 65h1.1M327.2 62.8h1.1M340.4 65.6h1.1M351 51.7h1.1M323.5 56.5h1.1M326.5 58.8h1.1M357.4 59.6h1.1M345.2 47.4h1.1M323.7 59.8h1.1M325.1 51h1.1M327.7 50.5h1.1M344.6 64.4h1.1M338 66.1h1.1M334.1 66.6h1.1M327.9 47.8h1.1M347.9 49.7h1.1M350.5 49.8h1.1M329.4 48.5h1.1M351.9 63.1h1.1M323.9 59h1.1M339.6 65.6h1.1M355.3 61.8h1.1M340.4 65.2h1.1M324.9 55.7h1.1M333 49h1.1M326.2 57.4h1.1M325.9 50.2h1.1M324.4 56.7h1.1M329.7 49.5h1.1M326.2 60.6h1.1M349 63h1.1M321.9 54.8h1.1M332.8 45.2h1.1M337.1 64.9h1.1M326.9 57.9h1.1M341.2 67.4h1.1M341.5 66.2h1.1M331.3 47.2h1.1M346 47.3h1.1M342.3 67.2h1.1M346.8 62.8h1.1M327 51.3h1.1M326.3 51h1.1M324.6 51.4h1.1M348.9 63.3h1.1M343.6 64.3h1.1M331.3 49h1.1M348.3 47.7h1.1M347.7 65.5h1.1M326.4 60.1h1.1M342.8 49.1h1.1M337.8 46.2h1.1M355.2 61h1.1M342.3 44.8h1.1M337.7 66.2h1.1M342 45.6h1.1M335.8 46.1h1.1M324 57.1h1.1M324.4 51.8h1.1M356.2 56.5h1.1M329.3 49h1.1M324.4 50h1.1M328 64.2h1.1M339.5 47.1h1.1M325.5 56.6h1.1M349.5 65h1.1M352.2 62.1h1.1M352.4 53.9h1.1M326.5 49.8h1.1M329.6 65.8h1.1M351.1 63.3h1.1M330.2 65.4h1.1M349 47.9h1.1M355.2 59h1.1M331.2 47h1.1M351 52.6h1.1M334.8 65.6h1.1M329.4 49.7h1.1M328.2 61.4h1.1M327.6 62.7h1.1M355.5 61.6h1.1M324.4 56.5h1.1M352.9 63.2h1.1M327.8 49h1.1M324.5 57.5h1.1M331.1 65.7h1.1M323.7 53.4h1.1M353.2 56.8h1.1M328.6 62.1h1.1M325.4 60.5h1.1M325.3 58.7h1.1M324.2 54.4h1.1M327.2 63.6h1.1M342.8 63.2h1.1M354.1 60.4h1.1M324.7 50.1h1.1M326.6 59.8h1.1M355.6 60.9h1.1M353.6 59.1h1.1M352.4 63.4h1.1M350.1 50.5h1.1M326 51.5h1.1M357.6 59.5h1.1M325.1 50h1.1M325.3 51.7h1.1M326.3 50.4h1.1M325.5 52.3h1.1M349.6 48.3h1.1M356.6 59.5h1.1M330.9 64.5h1.1M351.6 62.7h1.1M325.6 60.6h1.1M325.5 50h1.1M350.8 62.4h1.1M331.6 66.4h1.1M324.2 57.7h1.1M330.7 48.6h1.1M325.9 59.1h1.1M336.3 45.7h1.1M328.6 49.1h1.1M355.6 57.9h1.1M327.8 47.1h1.1M330.7 65.4h1.1M346.4 48.6h1.1M355.2 58.9h1.1M326.5 60h1.1M326.6 60.1h1.1M327.9 64h1.1M333 66.4h1.1M351.5 52.4h1.1M353.6 61.3h1.1M356.1 59.3h1.1M326.9 62.5h1.1M325.3 52h1.1M347.6 49.9h1.1M335.4 67.1h1.1M353.6 62.1h1.1M343.2 65.2h1.1M344.8 65.9h1.1M335.9 65.5h1.1M327 50.5h1.1M337.3 65.7h1.1M340.5 47.5h1.1M324.9 54.5h1.1M325.5 56.3h1.1M333.9 67h1.1M345.6 48.6h1.1M339.1 46h1.1M326 58.8h1.1M355.4 61.6h1.1M326.6 51.8h1.1M328.9 48.4h1.1M339.5 46.8h1.1M325.8 55.5h1.1M337.8 46.4h1.1M355.4 58.5h1.1M323.7 54.2h1.1M357.4 60.2h1.1M335.4 67.3h1.1M347 64.6h1.1M337.2 46.9h1.1M329.2 66h1.1M351.6 63h1.1M325.7 58.1h1.1M326.8 48.5h1.1M326.4 51.6h1.1M351.7 61.5h1.1M340.4 46.3h1.1M354.9 58.8h1.1M344.4 48.8h1.1M354.4 58.5h1.1M356.7 60.7h1.1M330.1 66.1h1.1M329.5 65.2h1.1M349.7 51.2h1.1M324.3 60.5h1.1M335.9 66.3h1.1M327 61.3h1.1M328.4 65.3h1.1M328.8 47.2h1.1M339.7 47.1h1.1M331.6 65.2h1.1M344.5 46.9h1.1M357.3 58.7h1.1M350.5 63.3h1.1M345.4 47h1.1M333.6 45.4h1.1M324.4 52.2h1.1M324.2 53.7h1.1M331.8 64.3h1.1M350.5 64.4h1.1M340 47.4h1.1M337.6 67.5h1.1M325.2 50.2h1.1M326.4 48.7h1.1M327.3 62.4h1.1M353.4 62.3h1.1M356.1 58h1.1M355 58.5h1.1M328.3 63.9h1.1M355.6 59.3h1.1M324.5 51.8h1.1M325.8 58.2h1.1M330 64.9h1.1M324.7 51.9h1.1M338.1 46.7h1.1M333.3 47.8h1.1M339.8 64.9h1.1M325.5 48.5h1.1M335.5 65.9h1.1M346.6 64.4h1.1M325.1 57.5h1.1M326.4 62.5h1.1M355 62.3h1.1M356.3 59.1h1.1M326.8 51.1h1.1M325.4 52.1h1.1M355.3 58.6h1.1M356.2 59.4h1.1M324.5 57.2h1.1M328.1 48.3h1.1M323.5 53h1.1M326.4 50.5h1.1M328.3 64.4h1.1M345.2 48.1h1.1M346.7 63.7h1.1M326.7 63h1.1M329.3 47.8h1.1M340.2 66.2h1.1M325.4 60.8h1.1M326.6 54.9h1.1M347.5 48.6h1.1M354.9 58.7h1.1M329.1 62.9h1.1M333.7 49.4h1.1M330.3 47.9h1.1M349.1 50.2h1.1M349.9 50.8h1.1M326.7 49.1h1.1M342.8 47h1.1M353.5 53.1h1.1M329.5 66.7h1.1M350.6 62.2h1.1M345.2 46.9h1.1M343 66.2h1.1M334.6 66.6h1.1M322 55.8h1.1M357.8 64.1h1.1M354.1 48.9h1.1M346.8 45.6h1.1M324.3 48.6h1.1M358 55.9h1.1M324 63.9h1.1M321.8 56.8h1.1M333.4 45.4h1.1M357.6 57.1h1.1M348.6 45.6h1.1M324.5 49.4h1.1M329.2 44.8h1.1M324.2 48h1.1M337.9 70.2h1.1M357.9 56.1h1.1M324.9 61.9h1.1M323.5 52.1h1.1M335.9 44.2h1.1M332.7 69.9h1.1M354 65.9h1.1M356.2 51.5h1.1M323.1 52h1.1M346.3 66.1h1.1M339.7 68.8h1.1M339.2 44.6h1.1M329.9 44.8h1.1M356.6 64.4h1.1M346.9 45.1h1.1M320.6 56.2h1.1M356.2 62.9h1.1M355.3 53.1h1.1M357.6 57.1h1.1M323 52.7h1.1M330.6 67.7h1.1M323.6 61.3h1.1M322.3 51.1h1.1M355.4 62.5h1.1M335.4 44.4h1.1M323.2 56.1h1.1M335 43.8h1.1M325.9 48.3h1.1M353.7 50.9h1.1M325.7 65.5h1.1M325.5 63.3h1.1M326.6 66.9h1.1M322.7 57h1.1M350.5 65.4h1.1M320.9 57.5h1.1M323.5 59.2h1.1M333.5 44.1h1.1M324.7 62.6h1.1M334.2 45.2h1.1M324.5 60.7h1.1M345.1 45.3h1.1M321.7 54.1h1.1M352.5 65.5h1.1M358.4 57.8h1.1M326.6 64.9h1.1M349.7 46.6h1.1M358.2 61.9h1.1M335.9 68.6h1.1M322.4 50.4h1.1M322.7 58.9h1.1M341.5 67.6h1.1M342 43.7h1.1M347.3 66.4h1.1M340.8 43.6h1.1M352.6 49h1.1M337.8 43.4h1.1M357.2 62h1.1M357.7 58h1.1M339.2 43.6h1.1M333.7 44.6h1.1M344.1 44.4h1.1M357.1 56.7h1.1M353.9 64.6h1.1M350.9 66.9h1.1M353.3 48.3h1.1M347.6 46.7h1.1M350.6 46.5h1.1M326.5 66.9h1.1M329.5 45.3h1.1M331.7 44.3h1.1M323.9 62.4h1.1M348.5 45.9h1.1M357.9 59.8h1.1M343.6 67.5h1.1M325.2 63.3h1.1M322 51.1h1.1M351.6 64.2h1.1M347.9 46.2h1.1M324.1 49.4h1.1M343.6 67h1.1M322.5 50.2h1.1M348.4 66.3h1.1M332 44.3h1.1M337.9 68.2h1.1M352.8 49.1h1.1M332.4 68.9h1.1M330.7 44.2h1.1M324.7 64.5h1.1M351.6 48.3h1.1M357.9 58.6h1.1M322.2 60.7h1.1M354.6 62.3h1.1M322.4 52.8h1.1M335.8 68.3h1.1M323.8 49h1.1M326 63h1.1M338 68.2h1.1M343.5 45h1.1M334.3 68.2h1.1M352.4 48.3h1.1M341.7 44.9h1.1M345.3 44h1.1M324.4 50.1h1.1M332.9 45.6h1.1M350.4 47.1h1.1M341 44.1h1.1M339.3 68.1h1.1M345.5 44.8h1.1M342.5 44.7h1.1M356.9 53.6h1.1M358 59.9h1.1M326.3 47.5h1.1M356.7 55.5h1.1M336.1 43.6h1.1M322.2 61.6h1.1M318.9 54.9h1.1M350.4 65.1h1.1M328.4 46.2h1.1M349.1 46.6h1.1M329.8 45.8h1.1M353.3 50.8h1.1M356.6 63.4h1.1M327.4 46.8h1.1M323.2 60h1.1M327.7 67h1.1M343 43.5h1.1M334.6 44.3h1.1M356.3 56h1.1M326.8 45.1h1.1M323.2 65h1.1M348.1 45.2h1.1M325.4 65.2h1.1M343.9 67.4h1.1M350 65.6h1.1M357.8 63.1h1.1M347.7 65.9h1.1M321.3 53h1.1M328.4 46.3h1.1M354.4 65.2h1.1M352.1 47.4h1.1M333.4 70h1.1M324.4 47.5h1.1M334.5 69.5h1.1M348 46.4h1.1M335.4 43.5h1.1M336.3 45.1h1.1M324.4 49.7h1.1M328.4 44.3h1.1M353 48.4h1.1M328.9 66.8h1.1M336.5 42.6h1.1M327.5 65h1.1M322.9 56.6h1.1M350 65.1h1.1M341.3 68.6h1.1M333.1 44.7h1.1M346.3 45.9h1.1M358.4 58.5h1.1M327.1 66.9h1.1M322.7 57.3h1.1M351.7 65.2h1.1M323.2 60.9h1.1M322.1 51.1h1.1M322.3 52.1h1.1M336.6 43.7h1.1M350.6 45.8h1.1M341.7 43h1.1M329.1 46.1h1.1M322.7 59.6h1.1M325.3 63.7h1.1M346.2 68h1.1M354.5 52.7h1.1M333 45.2h1.1M326.1 64.5h1.1M325 64.5h1.1M355 52.8h1.1M353.8 50.5h1.1M335.8 44.8h1.1M322.3 55.4h1.1M341.3 45.3h1.1M357 63.5h1.1M329.9 44.3h1.1M321.4 52.5h1.1M319.4 54.2h1.1M355.6 52.2h1.1M359.1 55.5h1.1M341.7 67.1h1.1M350.3 47.5h1.1M357.1 54.4h1.1M325.7 44.5h1.1M343.1 69.5h1.1M324.6 48.9h1.1M324.9 48.4h1.1M337.1 68.9h1.1M321.7 53.6h1.1M352.1 65.7h1.1M325.8 47.3h1.1M321.8 52h1.1M345 67.1h1.1M357.3 54.2h1.1M337.1 42.9h1.1M325.2 66.1h1.1M327.3 65.7h1.1M344.4 44.6h1.1M328.9 67.7h1.1M322.8 55h1.1M327.4 45.5h1.1M343.7 44.7h1.1M323.9 49.9h1.1M334.7 43.7h1.1M342 68.6h1.1M349.4 66.3h1.1M338.3 68.2h1.1M306.1 74.2h1.1M325.9 70.2h1.1M316.9 67.7h1.1M306.1 76.4h1.1M308.2 72.6h1.1M312.8 81.4h1.1M306.9 75.9h1.1M307.3 70.5h1.1M324.3 79h1.1M326.7 73h1.1M323.6 78.8h1.1M315.9 82.9h1.1M318.8 67.9h1.1M307.5 77.3h1.1M311.3 80.1h1.1M322.7 69.2h1.1M307.8 80.4h1.1M310.5 82.4h1.1M306.6 72.9h1.1M315.6 82.8h1.1M306.2 77.8h1.1M308.2 70.3h1.1M307.9 75.9h1.1M305.5 73.4h1.1M310.9 83.3h1.1M306.6 72.2h1.1M327.6 70.9h1.1M307.9 70.9h1.1M326.5 68.4h1.1M320 81.6h1.1M320.8 69.2h1.1M306.5 74.5h1.1M305.8 77.5h1.1M313.5 83.4h1.1M315.5 69.4h1.1M325.5 76.8h1.1M305.7 79.8h1.1M308.2 77.8h1.1M325.6 75.3h1.1M319.9 68.8h1.1M326.4 72.6h1.1M307.8 79h1.1M325.5 74.3h1.1M306 78h1.1M308.7 72.7h1.1M328.6 74.2h1.1M313.3 69h1.1M325.4 70.2h1.1M307.5 78.2h1.1M325.5 74.9h1.1M308 74.8h1.1M310.8 79.7h1.1M323.6 78.2h1.1M307.1 79.1h1.1M319 81.6h1.1M322.5 80.1h1.1M326 69.9h1.1M314.1 70.2h1.1M325.4 71.7h1.1M306.8 75.4h1.1M327.3 70.3h1.1M310.3 79.5h1.1M325.8 70.4h1.1M311.7 81.7h1.1M305.3 74.2h1.1M322.7 68.9h1.1M328.7 71h1.1M318.8 68.2h1.1M320.7 82h1.1M309.3 79.6h1.1M314.2 81.3h1.1M325.8 68.2h1.1M324.3 78.3h1.1M310.4 70.7h1.1M328 70.5h1.1M323.3 81h1.1M309.1 70.3h1.1M305 75.8h1.1M325.6 73.4h1.1M325.2 79.9h1.1M320.1 79.8h1.1M307.3 72.6h1.1M321.5 67.6h1.1M314.7 70.2h1.1M319.9 82.1h1.1M324 67.8h1.1M323.9 78.2h1.1M307 75.2h1.1M313.6 67.7h1.1M314 70.1h1.1M305.9 75.6h1.1M320.8 68.8h1.1M325.5 70h1.1M307.1 74.4h1.1M317.9 80.7h1.1M322.4 68h1.1M308 69.9h1.1M308.4 80.7h1.1M307.4 74.6h1.1M320.2 68.3h1.1M306.9 74.3h1.1M314.6 80.4h1.1M307.3 75.2h1.1M306.9 75.7h1.1M320.5 68.7h1.1M308.3 70.2h1.1M320.9 67.9h1.1M317.3 66.4h1.1M325.3 69.6h1.1M326.8 67.7h1.1M325.7 69.7h1.1M307.2 74.4h1.1M323.6 79.7h1.1M307 75.2h1.1M323.9 76.7h1.1M307.9 77.2h1.1M324.8 79.6h1.1M307.7 76.1h1.1M307.1 74h1.1M325.5 71.4h1.1M311 81.1h1.1M306.4 77.6h1.1M322.5 69.9h1.1M313 69.5h1.1M308.2 71.2h1.1M326.2 69.9h1.1M320.2 80.7h1.1M318.4 80.9h1.1M321.5 67.9h1.1M320.5 69.8h1.1M315.7 69.1h1.1M321.2 79.9h1.1M325.4 68.2h1.1M325.3 78.5h1.1M308 71.1h1.1M306.9 76.1h1.1M320.7 80.6h1.1M310.2 81.1h1.1M307.5 74.1h1.1M325.3 68.5h1.1M309.9 78.8h1.1M325.6 77.8h1.1M324.8 77.9h1.1M325.9 73.4h1.1M307.3 72.7h1.1M326.4 74.9h1.1M322.5 79.2h1.1M326.1 75.5h1.1M319.6 81.6h1.1M325.3 71.5h1.1M306.7 73.8h1.1M304.5 74.8h1.1M305.5 77.2h1.1M309.7 69h1.1M323.1 68.7h1.1M317.6 69.5h1.1M326.5 69.8h1.1M305.9 77.4h1.1M322.4 81.1h1.1M307.4 77.3h1.1M306.8 78.5h1.1M321.8 80.3h1.1M309.2 78.8h1.1M308.1 78.5h1.1M307.7 74.4h1.1M311.8 79.8h1.1M305.8 77.6h1.1M323.1 78.5h1.1M313.2 68.7h1.1M318.5 68h1.1M327.4 73.7h1.1M311.9 67.3h1.1M318.7 68h1.1M305.8 74.3h1.1M318.9 68.4h1.1M307.6 77.4h1.1M325.2 76.3h1.1M322.7 69.9h1.1M305.9 78.6h1.1M305.2 76.8h1.1M311.9 81.5h1.1M306.3 73.4h1.1M307.2 75.1h1.1M326.4 75.4h1.1M326.1 72.8h1.1M306.7 76.3h1.1M308.7 78.7h1.1M307.3 74h1.1M317.9 80.1h1.1M307.7 77.1h1.1M308.7 71.9h1.1M313.3 83h1.1M323.2 68.9h1.1M318.9 68.4h1.1M308 71.9h1.1M308.1 76.7h1.1M325.4 71.4h1.1M312.8 79.9h1.1M309 69.2h1.1M318.1 68.8h1.1M307.5 71.1h1.1M306.9 77.4h1.1M322.2 77.7h1.1M315.9 66.2h1.1M312.8 69.9h1.1M308 80h1.1M311.7 68.3h1.1M308.2 79h1.1M309.2 79.4h1.1M320.9 79.1h1.1M314.2 83h1.1M327.4 76.1h1.1M315.9 66.5h1.1M321.8 66.4h1.1M307.6 71.4h1.1M311.7 70.9h1.1M316 69.1h1.1M327.4 69.1h1.1M306.4 74.9h1.1M309.7 70.9h1.1M308.5 76.6h1.1M327 75.5h1.1M309.8 80.6h1.1M325.2 78.6h1.1M316.6 82.1h1.1M315.4 80.7h1.1M320.4 79.8h1.1M326.5 70.2h1.1M306.3 78.4h1.1M325.8 70.8h1.1M325.5 70h1.1M314.9 82.2h1.1M325.9 69.5h1.1M326 69h1.1M305.3 76h1.1M308.9 72.8h1.1M316.8 68.2h1.1M306.8 79.7h1.1M309.2 71.6h1.1M309.9 69.1h1.1M308.3 74.1h1.1M308 72.6h1.1M323.4 79.2h1.1M316 67.6h1.1M316.3 82.2h1.1M309.4 77.8h1.1M325.4 70.3h1.1M314.5 80.3h1.1M309.9 78.6h1.1M309.6 72.6h1.1M314.9 81h1.1M322 80h1.1M310.4 70.1h1.1M308.2 78.3h1.1M322 67.5h1.1M307.6 78.1h1.1M325.1 75.3h1.1M327.3 76.7h1.1M326.9 78.5h1.1M308 78.3h1.1M308.3 72.2h1.1M326 66.8h1.1M307.8 82h1.1M304.3 73.5h1.1M325.6 65.9h1.1M308.3 67.3h1.1M308 69.8h1.1M318 66h1.1M303.9 75.2h1.1M305.1 73.9h1.1M304.3 71.5h1.1M306.5 76.9h1.1M305.3 72.7h1.1M303.7 75.1h1.1M329.6 77.6h1.1M304.7 79.2h1.1M323 81.2h1.1M329.2 75.2h1.1M316.6 65.4h1.1M328.6 70.7h1.1M312 64.9h1.1M323.2 65.6h1.1M311.5 84.1h1.1M327.4 77.8h1.1M327.8 76.5h1.1M308.6 69.9h1.1M315.6 66.8h1.1M312.2 83.2h1.1M308.6 82.7h1.1M324.7 66h1.1M326.4 79.3h1.1M311.1 83h1.1M330.5 68.6h1.1M305.3 69.4h1.1M322 81.5h1.1M319.1 65.7h1.1M329.2 69h1.1M309 82h1.1M305.7 71.3h1.1M311.7 82.2h1.1M314.6 83h1.1M322.8 81.1h1.1M302.7 73.8h1.1M327.8 79.3h1.1M303.6 74.9h1.1M303.8 75.4h1.1M305.4 78.2h1.1M321.9 83.8h1.1M304.9 71.9h1.1M322.6 66.7h1.1M305.5 80.8h1.1M311.2 65.6h1.1M319.9 65.7h1.1M330 70.5h1.1M329.3 70.1h1.1M304 78.3h1.1M304.7 77.6h1.1M309.6 67.6h1.1M306 71.2h1.1M306.1 82.3h1.1M318.2 65.6h1.1M313.6 83.9h1.1M307.3 70.5h1.1M311.3 68.9h1.1M313 67h1.1M304 75.6h1.1M325.6 80h1.1M304.8 71.9h1.1M316.6 63.9h1.1M328.6 75.7h1.1M303.5 77.1h1.1M317.9 66.7h1.1M304.8 78.4h1.1M317 84.1h1.1M322.8 66.4h1.1M328.1 77.7h1.1M305.7 79.8h1.1M327.8 67.5h1.1M321 65.8h1.1M328.1 78.8h1.1M304.3 74.9h1.1M317.3 84.3h1.1M315.6 66.4h1.1M319 84h1.1M305.5 72.6h1.1M307.4 68.7h1.1M325.3 80.5h1.1M317.1 66.6h1.1M306.3 81h1.1M312.6 66.7h1.1M312.2 83.7h1.1M325.8 80h1.1M303.6 77.8h1.1M305.6 77.4h1.1M309.6 83.4h1.1M328.2 72.8h1.1M328.9 70.8h1.1M304.2 72.8h1.1M321.5 82h1.1M327.4 67.6h1.1M314.9 66.8h1.1M320.1 65.7h1.1M327.7 67.1h1.1M329.7 72.7h1.1M328.4 70.5h1.1M305.1 75.3h1.1M328.9 70.2h1.1M304.3 75.9h1.1M322.2 82.9h1.1M327.7 78h1.1M309.4 82.9h1.1M317.3 85h1.1M317.5 85.1h1.1M304.7 74.2h1.1M327.5 78h1.1M326.3 78.4h1.1M325.7 81.1h1.1M325.4 80.5h1.1M310.1 66.8h1.1M307.8 82.7h1.1M305.7 78.6h1.1M329.1 70.2h1.1M304.3 77.4h1.1M329.4 69.6h1.1M305.4 71.3h1.1M307.5 81.2h1.1M305.4 71.1h1.1M308 69.5h1.1M329.2 75.6h1.1M302.9 78h1.1M326.5 80.6h1.1M318.2 82.3h1.1M308.9 68.1h1.1M306.1 81.5h1.1M306.3 81.3h1.1M305.8 79.6h1.1M314.9 67.1h1.1M328.3 68h1.1M310.3 67.4h1.1M305.3 78.8h1.1M313.6 66h1.1M316 84.3h1.1M304.4 80.9h1.1M324.7 81.7h1.1M322.2 66.2h1.1M307.3 68.4h1.1M314.2 65.6h1.1M328.8 73.3h1.1M322.4 66.2h1.1M327.6 78.1h1.1M304.5 76h1.1M307.4 67.4h1.1M329.2 75.4h1.1M323.4 66.4h1.1M303.7 75.7h1.1M328.8 72.5h1.1M304.4 76.2h1.1M314.9 66.1h1.1M307.8 68.2h1.1M316.6 65.2h1.1M303.9 77.4h1.1M328.3 68.4h1.1M335.4 70h1.1M341.5 68.6h1.1M330.1 69h1.1M334.7 68.1h1.1M341.5 65.2h1.1M338.8 69.3h1.1M341 69.4h1.1M338.5 69.6h1.1M338 71.1h1.1M347.5 70h1.1M344.3 69.4h1.1M339.9 67.9h1.1M341.8 72.7h1.1M337.8 67h1.1M337.9 68.3h1.1M341 68.1h1.1M339.7 70.2h1.1M355.7 69.3h1.1M340 69.5h1.1M341.2 66.4h1.1M353 68.1h1.1M332.1 70.2h1.1M339.2 68.1h1.1M347.1 67.1h1.1M340 69.1h1.1M338.2 68h1.1M332.8 68.8h1.1M338.7 69.3h1.1M333.7 67.5h1.1M345.7 68.7h1.1M342.4 70.6h1.1M336.6 68.5h1.1M346.4 68.5h1.1M331.6 68h1.1M332.7 69.3h1.1M343.6 69.5h1.1M340.5 67.6h1.1M330.8 69h1.1M333.5 71.1h1.1M337 66.6h1.1M334.2 70.2h1.1M340 70h1.1M337.8 66.8h1.1M341.9 66.6h1.1M338.1 68.1h1.1M340.9 70.7h1.1M335.6 67.9h1.1M341.1 68.9h1.1M340.9 69h1.1M343.3 68.7h1.1M340.9 71.5h1.1M335.9 69.2h1.1M338.1 67.2h1.1M347.3 69.2h1.1M336.7 69.7h1.1M339 67.3h1.1M349.3 69.1h1.1M342.9 68h1.1M343.2 67h1.1M332.5 67.6h1.1M332.4 69.9h1.1M340.4 68.6h1.1M352.9 66.6h1.1M326.3 69.8h1.1M327.1 68.4h1.1M342.3 64.8h1.1M340.2 67.3h1.1M331.8 65.6h1.1M344.6 67.9h1.1M339.7 72.6h1.1M335.2 71.6h1.1M337.9 69.2h1.1M334.8 67.6h1.1M340.5 67.2h1.1M333.7 67.8h1.1M330.7 69.1h1.1M333.5 70.5h1.1M340.9 68.9h1.1M346 70.5h1.1M334.1 68.6h1.1M331.5 65.9h1.1M340.4 69.2h1.1M345.9 70.2h1.1M335.8 69.6h1.1M348.6 70.3h1.1M333.1 67.5h1.1M348.1 68.4h1.1M343.1 68.9h1.1M327 69.3h1.1M342 69.6h1.1M336.9 70.2h1.1M337.2 68.3h1.1M333.5 67.4h1.1M338.5 68.2h1.1M334 68.5h1.1M339.3 68.2h1.1M345.6 67.5h1.1M347.7 70h1.1M345.9 70.2h1.1M344.3 70.2h1.1M341.4 69.9h1.1M337.1 69.6h1.1M330.9 68.2h1.1M345.2 68.3h1.1M335.5 69.2h1.1M339.7 66.3h1.1M329.2 69.2h1.1M341.4 66.1h1.1M347.7 71.3h1.1M337.8 69.7h1.1" stroke="#000" stroke-width="1.1" fill="none" opacity="1"/>
<path d="M294.5 20.5H384.5V105.5" stroke="#444" stroke-width="1" fill="none"/>
<path d="M294.5 20V105.5H385" stroke="#000" stroke-width="1.4" fill="none"/>
<path d="M328.5 20.5V105.5M294.5 66.5H384.5" stroke="#111" stroke-width="1" fill="none"/>
<path d="M294.5 105.5v2.7M294.5 105.5h-2.7M301.3 105.5v1.8M294.5 99.1h-1.8M305.2 105.5v1.8M294.5 95.4h-1.8M308 105.5v1.8M294.5 92.7h-1.8M310.2 105.5v1.8M294.5 90.6h-1.8M312 105.5v1.8M294.5 89h-1.8M313.5 105.5v1.8M294.5 87.5h-1.8M314.8 105.5v1.8M294.5 86.3h-1.8M316 105.5v1.8M294.5 85.2h-1.8M317 105.5v2.7M294.5 84.2h-2.7M323.8 105.5v1.8M294.5 77.9h-1.8M327.7 105.5v1.8M294.5 74.1h-1.8M330.5 105.5v1.8M294.5 71.5h-1.8M332.7 105.5v1.8M294.5 69.4h-1.8M334.5 105.5v1.8M294.5 67.7h-1.8M336 105.5v1.8M294.5 66.3h-1.8M337.3 105.5v1.8M294.5 65.1h-1.8M338.5 105.5v1.8M294.5 64h-1.8M339.5 105.5v2.7M294.5 63h-2.7M346.3 105.5v1.8M294.5 56.6h-1.8M350.2 105.5v1.8M294.5 52.9h-1.8M353 105.5v1.8M294.5 50.2h-1.8M355.2 105.5v1.8M294.5 48.1h-1.8M357 105.5v1.8M294.5 46.5h-1.8M358.5 105.5v1.8M294.5 45h-1.8M359.8 105.5v1.8M294.5 43.8h-1.8M361 105.5v1.8M294.5 42.7h-1.8M362 105.5v2.7M294.5 41.8h-2.7M368.8 105.5v1.8M294.5 35.4h-1.8M372.7 105.5v1.8M294.5 31.6h-1.8M375.5 105.5v1.8M294.5 29h-1.8M377.7 105.5v1.8M294.5 26.9h-1.8M379.5 105.5v1.8M294.5 25.2h-1.8M381 105.5v1.8M294.5 23.8h-1.8M382.3 105.5v1.8M294.5 22.6h-1.8M383.5 105.5v1.8M294.5 21.5h-1.8M384.5 105.5v2.4M294.5 20.5h-2.4" stroke="#000" stroke-width="0.85" fill="none"/>
<text x="289.3" y="116.2" font-size="8.1" textLength="10.2" lengthAdjust="spacingAndGlyphs" fill="#000" stroke="#000" stroke-width=".12">10<tspan dy="-2.3" font-size="6.9">0</tspan></text>
<text transform="translate(288.5 110.7) rotate(-90)" font-size="8.1" textLength="11" lengthAdjust="spacingAndGlyphs" fill="#000" stroke="#000" stroke-width=".12">10<tspan dy="-2.3" font-size="6.9">0</tspan></text>
<text x="311.8" y="116.2" font-size="8.1" textLength="10.2" lengthAdjust="spacingAndGlyphs" fill="#000" stroke="#000" stroke-width=".12">10<tspan dy="-2.3" font-size="6.9">1</tspan></text>
<text transform="translate(288.5 89.5) rotate(-90)" font-size="8.1" textLength="11" lengthAdjust="spacingAndGlyphs" fill="#000" stroke="#000" stroke-width=".12">10<tspan dy="-2.3" font-size="6.9">1</tspan></text>
<text x="334.3" y="116.2" font-size="8.1" textLength="10.2" lengthAdjust="spacingAndGlyphs" fill="#000" stroke="#000" stroke-width=".12">10<tspan dy="-2.3" font-size="6.9">2</tspan></text>
<text transform="translate(288.5 68.2) rotate(-90)" font-size="8.1" textLength="11" lengthAdjust="spacingAndGlyphs" fill="#000" stroke="#000" stroke-width=".12">10<tspan dy="-2.3" font-size="6.9">2</tspan></text>
<text x="356.8" y="116.2" font-size="8.1" textLength="10.2" lengthAdjust="spacingAndGlyphs" fill="#000" stroke="#000" stroke-width=".12">10<tspan dy="-2.3" font-size="6.9">3</tspan></text>
<text transform="translate(288.5 46.9) rotate(-90)" font-size="8.1" textLength="11" lengthAdjust="spacingAndGlyphs" fill="#000" stroke="#000" stroke-width=".12">10<tspan dy="-2.3" font-size="6.9">3</tspan></text>
<text x="379.3" y="116.2" font-size="8.1" textLength="10.2" lengthAdjust="spacingAndGlyphs" fill="#000" stroke="#000" stroke-width=".12">10<tspan dy="-2.3" font-size="6.9">4</tspan></text>
<text transform="translate(288.5 28.7) rotate(-90)" font-size="8.1" textLength="11" lengthAdjust="spacingAndGlyphs" fill="#000" stroke="#000" stroke-width=".12">10<tspan dy="-2.3" font-size="6.9">4</tspan></text>
<text x="309.3" y="127.8" font-size="9.8" textLength="53.7" lengthAdjust="spacingAndGlyphs" fill="#000" stroke="#000" stroke-width=".2">CD66b FITC</text>
<text transform="translate(275.8 88.5) rotate(-90)" font-size="9.8" textLength="56.6" lengthAdjust="spacingAndGlyphs" fill="#000" stroke="#000" stroke-width=".2">CD16 PECy5</text>
<text x="329" y="15.2" font-size="12.1" font-weight="bold" textLength="48.2" lengthAdjust="spacingAndGlyphs" fill="#000" stroke="#000" stroke-width=".3">Day +15</text>
<ellipse cx="314.4" cy="81.8" rx="17.6" ry="17.5" fill="none" stroke="#000" stroke-width="1"/>
<path d="M332 82.5H345.8" stroke="#222" stroke-width="1"/>
<text x="349.5" y="79.5" font-size="11" font-weight="bold" textLength="21.5" lengthAdjust="spacingAndGlyphs" fill="#000" stroke="#000" stroke-width=".3">27%</text>
<polygon points="435,51.5 434.8,50.9 435.3,50.3 435,48.9 436,48 437.3,47.6 438.5,47.1 439.3,46 440.8,45.7 442.5,45.6 444.5,45.5 446.5,45.9 448.5,45.7 450.4,45.3 452,45.8 453.3,45.5 454.6,44.3 455.6,45.3 456.6,45.2 457.4,46.1 458.5,45.5 459.1,46.3 460,46.3 460.8,46.5 461.3,47.2 462.2,46.9 461.5,48.2 461.7,47.9 462.1,47.6 461.9,47.5 461.5,48 461,49.2 459.4,48.5 458.4,49.3 457.1,49.5 456.1,50 454.9,50.3 454.8,51.9 454.3,53 453,53.3 452.7,54.6 451.1,54.9 451.2,56.3 451.3,57.6 452.1,58.7 454.4,58.8 454.8,59.8 454.1,61.4 453.3,62.5 453.8,62.3 454.1,62.1 453.9,61.6 453.7,62.1 453.4,61.1 452.8,61.4 452.1,61.5 452,60.7 450.4,62 449.9,61.2 449.5,60.3 448.9,59.4 448.1,58.6 447.6,57.4 446.5,56.8 445.6,55.6 444.2,56.9 443.1,56.3 442.1,55.4 441.1,55.9 440.2,56.4 439.8,55.2 438.8,55.2 438.3,53.9 436.9,53.9 435.9,53.3 436.1,51.8 435.2,51.8" fill="#000"/>
<polygon points="425.1,80.2 425.5,79.8 426.3,79.6 426.3,79.1 426.8,78.9 426.6,78.3 427.2,78.3 425.9,76.9 426.7,77.1 427.4,77.4 427.6,77.1 427.7,76.4 428.1,76.7 428.2,76 428.4,76.6 428.8,75.4 428.8,76.4 428.5,77.4 428.7,77.6 429.1,77.6 430.4,77 429.6,77.9 430.4,77.9 429.2,78.7 430.4,78.8 429.5,79.5 429.9,79.9 430.2,80.4 429.3,80.7 431.4,81.5 429.3,81.4 429.5,82 430.5,82.9 429.9,83.1 428.1,82.2 429.3,83.4 429.3,83.9 428.5,82.9 428.5,83.5 428.1,83.2 427.9,83.2 427.5,84.6 427.3,84.1 427.5,83.1 427.5,82.8 426.6,83.6 426.5,83.1 426.5,82.6 426,82.5 426.6,81.8 426.2,81.8 426.2,81.6 425,81.6 425.6,81.2 426.2,80.9 426.1,80.6" fill="#000"/>
<path d="M464.1 44.5h.9M475.4 50.4h.9M474.3 49.7h.9M478.8 44.6h.9M461 53.3h.9M466.7 49.4h.9M474.9 50.1h.9M469.5 50.1h.9M467.3 49.9h.9M465.9 53.5h.9M471.9 49.6h.9M462.3 46.9h.9M467.8 51.1h.9M459.9 49.4h.9M470.9 52.1h.9M470.2 47.3h.9M465.4 50.7h.9M456.1 49.7h.9M465.3 46.1h.9M476.9 52.5h.9M461.7 48.7h.9M467.3 54h.9M452.4 52.6h.9M457.8 49.2h.9M465.7 45.8h.9M471.8 50.1h.9M471.6 47.4h.9M461.5 46.2h.9M478.3 55h.9M445.4 48.2h.9M454.8 46.8h.9M473.4 47.1h.9M474.4 51.2h.9M477.1 55.1h.9M458.9 50.2h.9M455.2 48.5h.9M454.7 48.5h.9M457.8 52.4h.9M468 52.3h.9M462.3 49.4h.9M463.3 42.6h.9M469.4 52.1h.9M463.6 49.7h.9M466.5 49.4h.9M475.2 54.3h.9M460.5 46.3h.9M465.8 50.4h.9M459.6 49h.9M471.1 45.7h.9M456.9 47.6h.9M458.5 48.8h.9M469.4 53.3h.9M450.5 49h.9M478.2 51.1h.9M469.3 52.3h.9M464.8 42.9h.9M462.8 47.7h.9M469.2 47.5h.9M467.9 51.3h.9M457.4 53.6h.9M465.9 51.7h.9M458.7 51.5h.9M461.2 51.4h.9M464.4 54.2h.9M466.3 46.1h.9M462.9 50.5h.9M464.9 46.8h.9M462.5 47.5h.9M462.7 51.2h.9M476 53.5h.9M475.5 50.5h.9M458.5 51.8h.9M449.8 47.2h.9M471.1 49.9h.9M478.5 51.4h.9M463.7 49.4h.9M467.6 53.3h.9M465.2 52.7h.9M468 48.6h.9M461.9 48.4h.9M465.6 48h.9M463.6 50.8h.9M463.4 50.2h.9M466.5 51.1h.9M456.1 44.8h.9M473.3 51.4h.9M466.5 47.8h.9M467.4 46.6h.9M460.5 48.9h.9M451.3 46.5h.9M464.5 50.8h.9M462 50.4h.9M448.3 47h.9M473.5 52.2h.9M476.1 51.9h.9M463.4 49h.9M469.2 47.6h.9M475.6 53.9h.9M469.5 52.8h.9M444.7 49.7h.9M474.6 47.8h.9M452.7 44.7h.9M462 49.6h.9M476.2 53.6h.9M459.5 48.8h.9M469.2 78.5h.9M475 85.8h.9M464.1 87h.9M458 81.4h.9M472.7 84.5h.9M467.6 91.9h.9M471.6 91.5h.9M462.9 89.4h.9M463.9 90.7h.9M470.9 93.8h.9M462.5 86.2h.9M465.2 83.4h.9M465.4 87.6h.9M468.7 87.9h.9M469.2 83.7h.9M462.6 88.3h.9M468.9 88.7h.9M464.7 92.5h.9M465.1 82.2h.9M466.1 93.5h.9M468.9 86.1h.9M465.2 79.8h.9M467.3 92.7h.9M462.8 89.8h.9M460.4 87.7h.9M461.5 81.2h.9M466.5 91.5h.9M465.9 81.7h.9M466.2 81.5h.9M460.7 86.7h.9M462.8 92h.9M465.7 87.2h.9M468.1 87.6h.9M467.4 82.3h.9M464.4 91.8h.9M463 85.2h.9M460.1 90.2h.9M463.7 101.6h.9M469.7 88.2h.9M464.8 81.7h.9M463.5 79.6h.9M466.5 82h.9M475.4 81.8h.9M463.9 88.4h.9M462 93.9h.9M459.4 87.1h.9M458.2 85.5h.9M467 90.2h.9M466.7 82.7h.9M463.3 85.8h.9M466.9 91.7h.9M467.6 93.3h.9M462.7 85.1h.9M466.5 85.1h.9M468.6 84.5h.9M460.1 88.5h.9M465 94.9h.9M465.8 87.4h.9M459 81h.9M474.3 92.6h.9M469.4 92.7h.9M472.4 93h.9M460.3 91.4h.9M465.3 85.2h.9M469.8 81.7h.9M463.8 89.9h.9M473.1 85.6h.9M461.6 87.7h.9M465.4 93.8h.9M464.2 77.7h.9M452.7 87.8h.9M454 91.1h.9M457.9 96.5h.9M461 81.7h.9M463.1 84.8h.9M457.3 96.6h.9M467.4 94h.9M459.9 91.6h.9M465.3 91.9h.9M469.9 100.7h.9M467.3 95.4h.9M460 91.2h.9M461.2 85.4h.9M464.1 93.7h.9M465.8 87.1h.9M455.5 92h.9M455.9 89.1h.9M458.5 99.6h.9M467.1 89.3h.9M462.6 92.9h.9M461 100.3h.9M454.2 81.5h.9M454.4 90.3h.9M463.4 84.8h.9M456 101.2h.9M466.4 95.3h.9M457.1 92.6h.9M462.4 93.9h.9M465.3 97.1h.9M464.4 96.1h.9M461.4 93.7h.9M472.6 98.1h.9M461.1 95.2h.9M463.7 103.3h.9M459.8 87.5h.9M466.8 91.4h.9M467.8 97.1h.9M467.7 97.4h.9M463.1 90.5h.9M466.5 100h.9M456.6 82.2h.9M462.2 70.4h.9M447.9 78.5h.9M458.6 67.2h.9M449.3 79.6h.9M452.5 73.6h.9M455.4 80h.9M446.8 100.1h.9M447.6 83.7h.9M462.6 75.1h.9M442.9 78.8h.9M453.9 76.5h.9M459.6 75.8h.9M460.8 76.8h.9M448.6 76.3h.9M442.5 76.2h.9M457.9 85.4h.9M445.9 85.2h.9M449.8 92.2h.9M444.5 80.7h.9M439.6 80.3h.9M445.3 98.2h.9M447.8 63.1h.9M436.8 78.2h.9M459.9 80.7h.9M447.8 82.1h.9M461.4 70.4h.9M457.9 72.7h.9M445.6 63h.9M449.4 71.4h.9M446.3 58.8h.9M449.4 83.3h.9M450.3 74.4h.9M452.4 66.8h.9M452.7 88.9h.9M450.8 76h.9M445.2 67.1h.9M438.4 80.3h.9M451.2 71.6h.9M448.1 58.4h.9M427.9 74.3h.9M435.3 71.6h.9M418.8 69.3h.9M425.3 97h.9M431.1 89.8h.9M429 94.7h.9M432.1 81.4h.9M426.3 77.9h.9M434.2 71.2h.9M427.6 86.8h.9M427.1 72.4h.9M429.6 77.4h.9M426.1 93.3h.9M426 95.8h.9M425.2 81.9h.9M423.4 90.9h.9M423.9 85.1h.9M420.7 87.8h.9M430.3 73.4h.9M429.1 86.2h.9M417.6 85.9h.9M425.3 87.1h.9M427.7 87h.9M422.4 85h.9M429.6 88.4h.9M424.5 77.8h.9M427.6 86.8h.9M422.7 76.8h.9M428.5 84.9h.9M428.3 80.4h.9M439.1 78.3h.9M435.4 79.3h.9M428.3 79.5h.9M427.8 90.4h.9M427.9 78.2h.9M428.8 87h.9M416.6 88.3h.9M427.3 101.7h.9M430.6 91.9h.9M427.6 76.6h.9" stroke="#3a3a3a" stroke-width=".9" fill="none" opacity="1"/>
<path d="M453.4 52.3h1.1M452.7 61.7h1.1M461.5 48h1.1M437 46.2h1.1M433.3 50.8h1.1M440.1 46.5h1.1M453.7 52.1h1.1M461.3 48.1h1.1M438.2 55.7h1.1M451.2 62.1h1.1M460.4 47.5h1.1M455.9 50.3h1.1M442 45.9h1.1M436.8 48.2h1.1M451.6 44.5h1.1M439.7 55.3h1.1M461.6 46.7h1.1M461 48.7h1.1M451.1 58.8h1.1M439.1 45.5h1.1M457.9 49.6h1.1M461.3 48.9h1.1M435.2 48.2h1.1M442.3 56h1.1M453.3 52.9h1.1M452 55.1h1.1M439.3 47.3h1.1M443.7 57h1.1M433.5 50.1h1.1M443.3 56.2h1.1M432.8 52.3h1.1M451.5 62.7h1.1M444.7 55.8h1.1M440.1 45.7h1.1M450.6 57.5h1.1M457.4 44.8h1.1M454.8 45.3h1.1M450.6 43.3h1.1M452.5 63.3h1.1M452.3 55.1h1.1M459.7 48.7h1.1M454.5 45.8h1.1M461.7 47.3h1.1M452.6 45.1h1.1M445 56.7h1.1M451.7 56.4h1.1M439.6 55.9h1.1M455.5 50.6h1.1M459.4 47.3h1.1M451 53.6h1.1M446.7 58.9h1.1M453.3 61.8h1.1M451 62h1.1M446.7 55.9h1.1M454.3 62.3h1.1M441.8 45.6h1.1M435 51.8h1.1M455 51.8h1.1M453.3 61.6h1.1M456.2 46.3h1.1M454.6 45.6h1.1M436 54.3h1.1M452.9 44.1h1.1M439.1 57.2h1.1M434.7 51.5h1.1M461.8 47h1.1M435.3 53h1.1M433.3 53.8h1.1M450.1 59.5h1.1M441.2 57.8h1.1M456.8 45.9h1.1M447.5 57.9h1.1M451.8 61.5h1.1M439.6 46.1h1.1M458.5 48.4h1.1M457.3 45.6h1.1M435.3 50.3h1.1M453.7 62.6h1.1M453.7 62h1.1M459.9 46.1h1.1M450 61.3h1.1M457.7 45.9h1.1M435.4 53.4h1.1M433.7 51.1h1.1M435.4 49.2h1.1M440.4 46h1.1M444.8 56.8h1.1M438.2 55.9h1.1M433.4 51.8h1.1M458.4 46.8h1.1M434.2 48.8h1.1M453.2 46.3h1.1M433.8 52.6h1.1M454.4 51.5h1.1M437.2 54.3h1.1M453.8 61.5h1.1M460.4 48.1h1.1M452.6 62.3h1.1M434 52.7h1.1M448.9 59h1.1M456.7 45h1.1M461.8 46.9h1.1M433.6 50.3h1.1M434.7 52.5h1.1M461 47.2h1.1M452 62.3h1.1M446.8 56.8h1.1M450.1 44.5h1.1M434.6 51.8h1.1M451.1 62h1.1M461.5 48.1h1.1M452.6 61.8h1.1M443.9 45.1h1.1M452.9 62.8h1.1M458.1 44.5h1.1M460.8 47h1.1M460.6 45.6h1.1M461 48.7h1.1M440.4 56.1h1.1M451.9 54.6h1.1M452.8 62.2h1.1M461.5 47.6h1.1M455 59.1h1.1M443.5 57.1h1.1M460.5 47.2h1.1M437 46.1h1.1M434.9 52.7h1.1M441.6 44.6h1.1M450.6 62.1h1.1M441.4 56.9h1.1M436.6 47.8h1.1M437.2 55h1.1M453.9 63.1h1.1M434.4 51h1.1M453.1 53.1h1.1M458.7 47.4h1.1M440.6 57.1h1.1M451.1 63.2h1.1M441.6 56.1h1.1M452.9 61.9h1.1M444.3 57.1h1.1M450 45.8h1.1M459 49.2h1.1M453.1 62.8h1.1M439.6 44.8h1.1M454 58.6h1.1M452.8 53h1.1M447.6 46.7h1.1M455.5 46.6h1.1M450.5 61.1h1.1M441 58.1h1.1M440.4 56.5h1.1M449.8 59.8h1.1M440.7 56.9h1.1M457.5 44.4h1.1M452.4 61.1h1.1M450.4 61h1.1M453.9 58.7h1.1M452 52.1h1.1M434.8 51.4h1.1M452.6 62.2h1.1M451.1 45.5h1.1M438.5 46.1h1.1M455.9 59.6h1.1M461.5 48.2h1.1M457 49.8h1.1M439.8 55.2h1.1M433.3 51h1.1M441.3 56.3h1.1M449.1 43.9h1.1M433.7 52.7h1.1M454.7 59.2h1.1M441.8 57.1h1.1M443.9 45.4h1.1M447.6 46h1.1M453.5 60.9h1.1M456.6 46.7h1.1M434.1 50.7h1.1M449.3 44.9h1.1M443.9 57.1h1.1M453.5 62.5h1.1M458.4 47.2h1.1M440 55.9h1.1M447.3 59.6h1.1M434.8 49.7h1.1M452.9 62.1h1.1M453.6 63.1h1.1M461 47h1.1M451.5 57.4h1.1M456.9 45.4h1.1M437 55.1h1.1M440.5 56.8h1.1M450.4 61.9h1.1M444.8 44.9h1.1M449.7 44.6h1.1M453.9 62.2h1.1M460.1 47.1h1.1M443.5 44.5h1.1M434.1 51.2h1.1M454.4 62.8h1.1M448 44.5h1.1M452.6 53.7h1.1M437.7 55.5h1.1M456.3 51.7h1.1M433.9 51.3h1.1M434.5 51.7h1.1M452.7 52.3h1.1M443.4 45.7h1.1M442.6 57.5h1.1M438.5 55.5h1.1M452.2 53h1.1M435.2 48.7h1.1M455.9 51h1.1M435.8 50.8h1.1M434.4 49.7h1.1M441.7 56h1.1M445.9 58.1h1.1M461.7 48.7h1.1M446.7 56.5h1.1M454.6 51.4h1.1M442.2 56.4h1.1M439 45h1.1M439.6 55.8h1.1M453 61.8h1.1M439.9 46.5h1.1M436.6 46h1.1M439.6 56.8h1.1M457.2 48.8h1.1M451 62.1h1.1M454.4 45.6h1.1M453.5 52h1.1M435.1 52.5h1.1M455.7 44.9h1.1M437.7 54.2h1.1M449 59h1.1M451.4 57.7h1.1M450.2 57.6h1.1M457.9 49.3h1.1M441.3 44.6h1.1M434.5 52.9h1.1M435.2 49.4h1.1M439.3 55.6h1.1M436.1 55.9h1.1M451.5 57.2h1.1M453.1 54.2h1.1M434.4 49.6h1.1M446.6 58.8h1.1M456.8 45.5h1.1M460.5 47h1.1M452 62.6h1.1M460.6 48.3h1.1M447.6 56.9h1.1M460.9 47.5h1.1M445.6 56.7h1.1M434.9 54h1.1M436 54.4h1.1M452.9 60.5h1.1M453.7 46h1.1M450.7 61h1.1M439.3 56.7h1.1M453.3 59h1.1M460.2 48.4h1.1M436.7 46.5h1.1M453.6 52.8h1.1M437.5 46.3h1.1M435.5 47.9h1.1M457.6 45.1h1.1M455.1 50.3h1.1M453 52.4h1.1M451.2 55.7h1.1M450.4 62.6h1.1M453.5 62.4h1.1M453.1 63.6h1.1M456 52.4h1.1M462.3 48.1h1.1M445.8 45.7h1.1M454.3 62.3h1.1M439.6 55.8h1.1M434.1 50.6h1.1M448.4 46.4h1.1M439.1 46.8h1.1M435.8 54.2h1.1M452.6 61.1h1.1M460.6 47.3h1.1M460.9 48h1.1M449.1 60h1.1M444.4 45.1h1.1M457 46.9h1.1M453.1 61.7h1.1M449.6 60.5h1.1M453.1 53.3h1.1M459.4 48h1.1M433.7 53.1h1.1M440.8 45.7h1.1M453.8 62.7h1.1M451.9 56.4h1.1M453.4 58.8h1.1M436.9 47.6h1.1M454.4 45.8h1.1M449.9 60.9h1.1M461.2 47.6h1.1M451.3 44.9h1.1M444.2 43.5h1.1M440.5 55.4h1.1M448.4 59.4h1.1M456.3 46.4h1.1M451.4 62.9h1.1M438.2 46.9h1.1M448.6 60.8h1.1M452.5 61.9h1.1M450.5 56.2h1.1M458.5 46.2h1.1M452.3 62.6h1.1M451.4 58.7h1.1M435.1 47.7h1.1M439.2 55.9h1.1M451.8 61.2h1.1M457.8 49h1.1M433.9 51.2h1.1M433.6 52.9h1.1M451.4 62.1h1.1M453.3 61.4h1.1M453.7 46.6h1.1M453.6 62.7h1.1M452.5 62.9h1.1M434.5 50h1.1M445 57.5h1.1M440.5 59.2h1.1M452.8 63.5h1.1M441.3 59.2h1.1M432.6 48.5h1.1M432.8 48.3h1.1M449 62.6h1.1M455 63.8h1.1M438.9 56.7h1.1M437.7 44.8h1.1M447.6 62.1h1.1M439 56.9h1.1M445.9 43.1h1.1M447.2 62.1h1.1M430.2 51.1h1.1M432.7 49.9h1.1M453.3 42.3h1.1M444.7 60h1.1M441.4 58.3h1.1M452.4 58h1.1M463.5 48.1h1.1M454.8 62.5h1.1M461.6 46.5h1.1M445.3 43.3h1.1M443.2 42.9h1.1M432.5 56.3h1.1M438.7 44.2h1.1M451.9 58.3h1.1M454.9 43.8h1.1M447 64.3h1.1M435.2 45.3h1.1M456.4 52.9h1.1M452.7 42.4h1.1M451.6 56.7h1.1M446.9 57.9h1.1M460.2 51.2h1.1M462.3 45.6h1.1M432.7 52.1h1.1M451.8 58.5h1.1M462.2 44.5h1.1M448.6 60.5h1.1M432.4 52h1.1M457.2 51.9h1.1M457 62.4h1.1M433.7 48.6h1.1M430.4 49.3h1.1M433.4 45.9h1.1M433.9 53.9h1.1M440.8 58.6h1.1M450 64h1.1M455.6 42.6h1.1M454.1 63.3h1.1M448.2 62.6h1.1M448 42.6h1.1M463.1 48.5h1.1M439.4 56.8h1.1M464 48.2h1.1M450.2 44.2h1.1M463.3 45.9h1.1M433.3 54.4h1.1M436 57.2h1.1M432.5 50.7h1.1M445.8 58.5h1.1M452.9 63.5h1.1M444.8 58.2h1.1M457.6 45.1h1.1M452.6 57.8h1.1M454.7 64.9h1.1M443.7 43.1h1.1M442.4 57.6h1.1M457.1 52.4h1.1M453 55.4h1.1M460.7 45.7h1.1M451.6 63.9h1.1M454.3 62.6h1.1M456.1 43h1.1M455.4 53.2h1.1M444.6 59.2h1.1M461.8 49.1h1.1M435.7 46.5h1.1M456.2 65.2h1.1M455 53.7h1.1M454.4 52.7h1.1M452 41.4h1.1M454.6 63.7h1.1M449.4 42.8h1.1M459.8 45.4h1.1M438.5 44.3h1.1M441.2 44.6h1.1M458.2 44.4h1.1M447.8 60.4h1.1M447.4 44h1.1M452.9 54.5h1.1M439.1 42.8h1.1M452.1 60.9h1.1M444.3 57.3h1.1M447.4 60.2h1.1M455.4 52h1.1M454.9 62.7h1.1M441.7 59.5h1.1M439.9 57.2h1.1M448 61.3h1.1M460 51.2h1.1M452.5 41.8h1.1M445 57.6h1.1M448.7 61.1h1.1M450.1 63.4h1.1M445.1 58.1h1.1M459.3 50.9h1.1M437.1 41.4h1.1M451.9 42.3h1.1M435.8 55.6h1.1M443.7 58.1h1.1M439 45.3h1.1M434.4 57.3h1.1M448.6 60.6h1.1M435.6 44.6h1.1M445.8 60.1h1.1M453.6 55.9h1.1M454.4 61.4h1.1M438.8 58.2h1.1M457.6 61.4h1.1M448.2 60.8h1.1M454.7 63.8h1.1M452.2 63.5h1.1M441.5 58.2h1.1M433 54.4h1.1M456.6 52h1.1M461.5 46.1h1.1M458.3 46h1.1M451.2 62.5h1.1M463.1 45.8h1.1M437.3 45.3h1.1M437.5 44.4h1.1M441.3 42.8h1.1M434 45.2h1.1M451.1 64h1.1M457.3 44.2h1.1M448.1 61.1h1.1M455.6 53.2h1.1M463.7 46.9h1.1M435.5 55.4h1.1M435.4 57.6h1.1M455.3 62.4h1.1M460.5 44h1.1M447.1 60.3h1.1M441.6 59.3h1.1M450.3 63.3h1.1M454 44.7h1.1M452.4 54.9h1.1M456.7 51.4h1.1M463 47.3h1.1M462.5 45.2h1.1M446.1 44h1.1M462 44.8h1.1M450.9 43.1h1.1M460.3 52.1h1.1M460 51.5h1.1M450.3 63.4h1.1M455 64h1.1M454.4 54.9h1.1M431.9 52.9h1.1M441.9 59.1h1.1M451.9 60h1.1M448.3 61.1h1.1M435.5 44h1.1M456.8 44.4h1.1M439.9 59.1h1.1M445.1 59.6h1.1M461.7 47.7h1.1M444.6 58.5h1.1M455.8 43.7h1.1M439.8 45.1h1.1M435.5 46.5h1.1M462.4 47.4h1.1M441.8 57.7h1.1M460.9 43h1.1M456.6 50.7h1.1M454 56.7h1.1M456.1 43.8h1.1M452.9 55.4h1.1M460.4 43.1h1.1M446.3 59.6h1.1M447.9 59.5h1.1M454.9 62.9h1.1M444.4 59.3h1.1M449.7 62.2h1.1M438.3 56.9h1.1M440 58.9h1.1M462 48.7h1.1M454.6 55h1.1M458.2 51.1h1.1M459.7 51h1.1M440.5 44.8h1.1M444 60.7h1.1M460.5 44.3h1.1M452.9 64.8h1.1M439.9 58.2h1.1M460.9 45.5h1.1M442.3 58.6h1.1M425 81.5h1.1M425.8 84.3h1.1M426 84h1.1M426.5 76h1.1M430.2 81.5h1.1M429.3 78.7h1.1M427.3 84.7h1.1M428.2 77h1.1M427.9 76.9h1.1M426.9 78.8h1.1M427.8 77.6h1.1M428.3 75.1h1.1M426 77.3h1.1M429.1 78.5h1.1M426.4 82.2h1.1M425.2 83.5h1.1M427 84.5h1.1M427.9 84.7h1.1M423.8 77.9h1.1M429.2 79.7h1.1M423.2 79.8h1.1M424.3 78.6h1.1M429.6 78.1h1.1M423.6 80.7h1.1M425.9 83.6h1.1M427.6 83.4h1.1M429.3 83.8h1.1M425.6 83.5h1.1M424.5 81h1.1M427.5 85.3h1.1M427.3 77.6h1.1M429.1 81.2h1.1M424 82.7h1.1M427.2 83.6h1.1M427.6 83.4h1.1M428 83.6h1.1M426.1 85.1h1.1M427.5 84.2h1.1M428.4 85.1h1.1M424.5 83.7h1.1M425.2 82.6h1.1M427.2 83.7h1.1M426.4 83h1.1M425.7 80.3h1.1M423.9 83.6h1.1M430 82.6h1.1M427 83.8h1.1M426.7 79.7h1.1M427.5 83.4h1.1M428.7 76.5h1.1M425 83.6h1.1M424.7 82.2h1.1M428.5 82h1.1M428 84.3h1.1M428.3 82.8h1.1M426.8 75.5h1.1M426.1 77.9h1.1M428.1 83.7h1.1M430.2 82.4h1.1M430.7 80.6h1.1M430.6 80.3h1.1M429.8 83.2h1.1M430.6 82.9h1.1M428.5 76h1.1M425.3 78.5h1.1M426.7 77.6h1.1M430.1 81.3h1.1M424.9 77.9h1.1M423.6 81.3h1.1M426.6 78.8h1.1M426.9 76.5h1.1M425.8 81.3h1.1M426.4 84.3h1.1M428.6 78.2h1.1M427 83.3h1.1M429.6 77.1h1.1M427.4 84.2h1.1M427.6 84.3h1.1M427.3 84.4h1.1M426.4 76.6h1.1M430 80.6h1.1M430.1 82.6h1.1M430.6 81.5h1.1M428 76.4h1.1M429.6 80.5h1.1M428.4 78.2h1.1M425.7 82.9h1.1M426.3 84h1.1M425.3 82.6h1.1M428.8 82.9h1.1M425.1 82.4h1.1M425.3 76.4h1.1M428.8 79h1.1M426.4 79h1.1M425.9 84.1h1.1M424.9 80.7h1.1M426.7 75.3h1.1M428 76.9h1.1M427.5 78.3h1.1M426.2 83h1.1M425 77.4h1.1M424.5 79.4h1.1M425 77.1h1.1M427.6 84.3h1.1M429.1 83.7h1.1M428.9 83.7h1.1M427.6 82.8h1.1M429.6 77.7h1.1M424.8 80.5h1.1M425.9 82.6h1.1M425 77.4h1.1M429.3 81.5h1.1M428.7 83.3h1.1M425.7 82.6h1.1M430.6 78.2h1.1M427.7 75.5h1.1M427.8 77.8h1.1M426.3 76.8h1.1M430.4 81.7h1.1M424.4 79.9h1.1M424.2 81.8h1.1M426.8 83h1.1M425.1 82.4h1.1M424.3 78.2h1.1M428 77.8h1.1M430.3 77.2h1.1M430.3 83.4h1.1M423.8 81.4h1.1M425.2 77.4h1.1M425.2 77.4h1.1M427 78.9h1.1M429.5 77.1h1.1M431 75.8h1.1M429.1 86.1h1.1M425.1 76.4h1.1M422.5 86.7h1.1M429.8 87.6h1.1M425.6 85.2h1.1M427.8 73.3h1.1M426.9 85.8h1.1M423.8 85.8h1.1M424.2 82.1h1.1M421.6 86.7h1.1M424.7 75.1h1.1M427.2 85.5h1.1M427.2 73.5h1.1M421.4 81.1h1.1M423.2 77.5h1.1M423.5 81.6h1.1M430.4 75.2h1.1M422.1 79.4h1.1M426.4 75.4h1.1M425.3 74.7h1.1M425.4 86.9h1.1M422.6 78.8h1.1M431 77.3h1.1M430 85h1.1M419.5 79.8h1.1M425.5 86.9h1.1M421.8 81.8h1.1M432.6 80.2h1.1M426.1 87.2h1.1M424.4 84.8h1.1M424.9 74.9h1.1M429.3 85.1h1.1M421.7 79.4h1.1M421.4 83.8h1.1M424.2 87.8h1.1M431.4 82.5h1.1M424.4 78.1h1.1M424 83.2h1.1M421.1 78.5h1.1M430.9 75.9h1.1M422.3 82.6h1.1M431 84.8h1.1M428.2 85.5h1.1M423.4 82.6h1.1M435.7 81h1.1M432.7 77.4h1.1M419.7 76.2h1.1M436.4 79.7h1.1M431.5 80.7h1.1M430.4 84.1h1.1M431.4 72h1.1M424.5 78.1h1.1M431.4 80.6h1.1M431.3 78.5h1.1M423 80.2h1.1M421.8 74.7h1.1M430.5 83.3h1.1M431.6 77.4h1.1M429.7 87.2h1.1M431.6 81.5h1.1M431.3 85.4h1.1M432.1 77.9h1.1M432.3 86.7h1.1M423.2 79h1.1M428.9 83h1.1M420.9 79.5h1.1M424.1 85.7h1.1M422.9 83.5h1.1M423.8 83.7h1.1M428.1 85.6h1.1M428.5 74.1h1.1M429.2 85.9h1.1M422 80.9h1.1M424.5 84.3h1.1M428.8 85h1.1M422.8 82.8h1.1M421.8 79.6h1.1M433.5 82.4h1.1M430.7 78.2h1.1M420.9 80.6h1.1M431.7 84.5h1.1M458.8 69.1h1.1M447.6 65.1h1.1M453.7 70.1h1.1M448.3 58.2h1.1M450.3 63.9h1.1M452.8 59.8h1.1M456.2 68h1.1M456 60h1.1M456.6 63.6h1.1M457.6 68.5h1.1M451.3 64.3h1.1M456 70.3h1.1M449.2 64h1.1M457.1 72h1.1M452.1 61.1h1.1M450.7 61h1.1M457.1 65.9h1.1M459.2 70.6h1.1M451.8 55.9h1.1M459.4 67.7h1.1M455.9 72.2h1.1M455.4 67.1h1.1M451.1 59.3h1.1M449.8 62.9h1.1M455.6 67.7h1.1M447.1 57.3h1.1M458.9 68.8h1.1M462.4 70.1h1.1M450.1 60.6h1.1M450.3 61.4h1.1M456.9 68.1h1.1M449.3 65.5h1.1M456.8 67.9h1.1M452.4 64.3h1.1M450.4 65.8h1.1M452.5 66.5h1.1M460.6 64.4h1.1M456.7 67.6h1.1M456.2 63.5h1.1M460.7 69.2h1.1M458 72.8h1.1M454.2 71.2h1.1M448.9 61.1h1.1M456.6 59h1.1M454.7 63.9h1.1M456.9 66.8h1.1M460 69.5h1.1M449.4 66h1.1M457.9 70.9h1.1M449.2 62.3h1.1M455.5 66.8h1.1M451.4 65.4h1.1M453.9 64.2h1.1M461.2 67.7h1.1M453.2 64.1h1.1M456.2 64.6h1.1M463.3 69.2h1.1M459.1 63h1.1M450.9 59.4h1.1M451.3 61h1.1M449.5 66.8h1.1M456.5 65.2h1.1M456.8 65.2h1.1M448.8 59h1.1M449.1 62.7h1.1M452.5 58.5h1.1M454.9 64.9h1.1M453.5 69h1.1M450.8 67.5h1.1M457.7 65.9h1.1M457.1 61.8h1.1M455.1 65.5h1.1M460 70.4h1.1M455.2 70.2h1.1M451.1 65h1.1M453.3 64.3h1.1M460 68.2h1.1M453.8 65.9h1.1M453.8 61.4h1.1M457.9 65.5h1.1M450.3 60.7h1.1M451.7 69.7h1.1M449.5 66.7h1.1M453 69.3h1.1M465.2 70.8h1.1M454.3 67.5h1.1M452.4 60.3h1.1M447.8 60.1h1.1M453.4 67.5h1.1M452.3 65.7h1.1M451.2 59.4h1.1M454.5 61.7h1.1M453.2 66.7h1.1M448.3 63.5h1.1M455.4 63.5h1.1M457.8 65.7h1.1M452.3 62.6h1.1M460.1 69.4h1.1M449.7 63.9h1.1M448.7 63.2h1.1M456.7 70.9h1.1M454.2 62.8h1.1M453.7 61.3h1.1M451.9 61.5h1.1M455.7 67.3h1.1M450.7 64.5h1.1M452 64.4h1.1M448.9 58.2h1.1M448.6 61.3h1.1M451.6 65.3h1.1M449.8 60h1.1M454.6 61.9h1.1M457.2 70.2h1.1M453 67.5h1.1M456.8 70.6h1.1M452.9 60h1.1M455.6 68.4h1.1M452.7 64h1.1M457.4 67.8h1.1M450.8 61.1h1.1M455.8 64.9h1.1M458.9 67.8h1.1M454.5 66.7h1.1M455.3 66.5h1.1M453.1 64.6h1.1M448.3 54.7h1.1M451 62.7h1.1M448.8 65.4h1.1M459.5 67h1.1M454.6 66.1h1.1M450.9 61.7h1.1M457.1 69.4h1.1M454.4 68.2h1.1M449.9 58.5h1.1M457.3 71.8h1.1M454.5 68.1h1.1M464.6 75.3h1.1M456.8 70.5h1.1M446.7 61.8h1.1M455.7 72.2h1.1M455.5 66h1.1M451.4 65.5h1.1M455.4 66.7h1.1M458 66.6h1.1M448.6 68.4h1.1M449.1 64h1.1M455 69.3h1.1M456 66.5h1.1M449.7 61.6h1.1M459.5 69.7h1.1M474.2 84.1h1.1M462 75.1h1.1M465.1 77.3h1.1M466.4 81.5h1.1M462.5 77.3h1.1M462.8 83.1h1.1M462.7 79.5h1.1M458.9 79h1.1M465.6 76.7h1.1M457.6 68.7h1.1M467.7 81.2h1.1M465.6 80.1h1.1M461.5 80.5h1.1M462.7 78.9h1.1M461 72.7h1.1M463.2 78h1.1M460 73.6h1.1M459 75.9h1.1M459.6 72.2h1.1M464.1 75h1.1M463.3 83.1h1.1M464.5 79.3h1.1M461 73h1.1M461.4 73.1h1.1M463.1 83.5h1.1M462.5 76.2h1.1M466.3 80.9h1.1M470.7 83.6h1.1M469.2 80.6h1.1M460.5 72.4h1.1M460.9 65.4h1.1M464.3 85.9h1.1M460.7 70.6h1.1M460 70.5h1.1M462.6 74.4h1.1M455.9 78.2h1.1M462.1 81.1h1.1M460.8 74.4h1.1M459.9 73.6h1.1M471.7 78.5h1.1M464.1 71.5h1.1M465.6 91.6h1.1M457.3 71.8h1.1M465.8 76.6h1.1M471.6 80.5h1.1M467.2 75.8h1.1M459 69.8h1.1M464.1 76.8h1.1M462.7 83.6h1.1M462.8 73.3h1.1M459.7 69.6h1.1M462.1 77.5h1.1M459.8 66.6h1.1M465.8 79h1.1M466.8 80h1.1M464.5 77.6h1.1M461.3 71.6h1.1M463.1 83.5h1.1M466.2 83.9h1.1M467.5 82.2h1.1M465.8 74h1.1M466.8 78.8h1.1M461.2 74.2h1.1M465.8 83.3h1.1M459.1 76.6h1.1M461.6 71.1h1.1M464.4 75.6h1.1M460.9 81.4h1.1M460.7 77.8h1.1M460 77.7h1.1M465.1 71.1h1.1M463.9 77.5h1.1M462.8 77h1.1M463.2 77.7h1.1M469.7 73.8h1.1M463.3 76.8h1.1M462 73.1h1.1M464.1 87.1h1.1M461 68.9h1.1M463.9 78.3h1.1M466.4 82.6h1.1M463.2 67.4h1.1M458.5 69.6h1.1M459.8 82.7h1.1M471.3 88.5h1.1M461.5 84h1.1M458.1 77h1.1M466.3 72.9h1.1M466 72.8h1.1M463.2 69.9h1.1M464.9 72.8h1.1M467.3 80.5h1.1M465.8 74.3h1.1M465.3 78.4h1.1M463.9 81.4h1.1M460.1 74.7h1.1M463.4 74.9h1.1M466.6 76.8h1.1M460.5 73.7h1.1M462 78.1h1.1M467 79.2h1.1M462.5 77.6h1.1M463.4 67.7h1.1M466.1 77.5h1.1M462.9 76.1h1.1M464.2 76.6h1.1M458.2 72.5h1.1M464.2 77.1h1.1M462.7 76.7h1.1M459.3 75.4h1.1M466.3 71.5h1.1M461.5 76.9h1.1M456.6 69h1.1M464.6 77.9h1.1M459.5 75.7h1.1M468.6 80.7h1.1M462.4 67h1.1M466.4 73h1.1M459.7 80.1h1.1M466.5 77.2h1.1M461.3 75.4h1.1M470.1 79.7h1.1M460.1 75.6h1.1M468.4 77.8h1.1M465.5 75.8h1.1M470.3 72.7h1.1M465.7 71.7h1.1M459.6 74.6h1.1M466.4 72.6h1.1M459.8 80.2h1.1M456.3 76.5h1.1M462.1 71.6h1.1M468.6 78.1h1.1M464.9 77.1h1.1M464 79.7h1.1M469.5 74.9h1.1M468.7 84.1h1.1M464.6 80.5h1.1M463 78.8h1.1M469.9 77h1.1M465.7 81.5h1.1M463.6 77.7h1.1M461.9 81.6h1.1M462.3 76.3h1.1M463.6 85.6h1.1M461.7 76.7h1.1M459.7 60.4h1.1M457 83.2h1.1M461 76.1h1.1M462.5 76.4h1.1M466 79.8h1.1M453.8 65.4h1.1M459.8 68.4h1.1M461.6 76.8h1.1M460.3 70.8h1.1M465.1 79.7h1.1M469 77.5h1.1M464.3 74.2h1.1M460.2 82.9h1.1M459.1 67.9h1.1M465.3 75.7h1.1M467.8 80.2h1.1M468.6 82.5h1.1M465.9 79.1h1.1M466.9 83.9h1.1M460.3 80.6h1.1M462.3 76.7h1.1M459.4 80.5h1.1M473.1 86.8h1.1M468.4 87.3h1.1M469.8 76.6h1.1M470.8 76.9h1.1M464 79.7h1.1M465.9 67.9h1.1M462.5 74.6h1.1M466.4 76.7h1.1M458.9 74.6h1.1M459.8 77.3h1.1M465.8 69.3h1.1M461.3 77.3h1.1M465.6 81.6h1.1M462.3 77.8h1.1M466.7 80.2h1.1M459.8 77.5h1.1M459.3 74.2h1.1M464 77.4h1.1M464.7 66.5h1.1M469 70.5h1.1M460.2 76.4h1.1M462 74.4h1.1M468.4 76.9h1.1M464.8 72h1.1M457.9 84.2h1.1M468.3 79.5h1.1M462.9 77.8h1.1M458.6 75.2h1.1M454.7 74.1h1.1M463.8 80.1h1.1M461.6 76.1h1.1M472.2 88.4h1.1M463.9 81.5h1.1M466.4 83.5h1.1M464.9 71.2h1.1M466.7 75.1h1.1M459 75.9h1.1" stroke="#000" stroke-width="1.1" fill="none" opacity="1"/>
<path d="M457.3 66L467.3 59.2" stroke="#111" stroke-width="0.9" fill="none"/>
<path d="M415.5 20.5H508.5V105.5" stroke="#444" stroke-width="1" fill="none"/>
<path d="M415.5 20V105.5H509" stroke="#000" stroke-width="1.4" fill="none"/>
<path d="M435.5 20.5V105.5M415.5 58.5H508.5" stroke="#111" stroke-width="1" fill="none"/>
<path d="M415.5 105.5v2.7M415.5 105.5h-2.7M422.5 105.5v1.8M415.5 99.1h-1.8M426.6 105.5v1.8M415.5 95.4h-1.8M429.5 105.5v1.8M415.5 92.7h-1.8M431.8 105.5v1.8M415.5 90.6h-1.8M433.6 105.5v1.8M415.5 89h-1.8M435.1 105.5v1.8M415.5 87.5h-1.8M436.5 105.5v1.8M415.5 86.3h-1.8M437.7 105.5v1.8M415.5 85.2h-1.8M438.8 105.5v2.7M415.5 84.2h-2.7M445.7 105.5v1.8M415.5 77.9h-1.8M449.8 105.5v1.8M415.5 74.1h-1.8M452.7 105.5v1.8M415.5 71.5h-1.8M455 105.5v1.8M415.5 69.4h-1.8M456.8 105.5v1.8M415.5 67.7h-1.8M458.4 105.5v1.8M415.5 66.3h-1.8M459.7 105.5v1.8M415.5 65.1h-1.8M460.9 105.5v1.8M415.5 64h-1.8M462 105.5v2.7M415.5 63h-2.7M469 105.5v1.8M415.5 56.6h-1.8M473.1 105.5v1.8M415.5 52.9h-1.8M476 105.5v1.8M415.5 50.2h-1.8M478.3 105.5v1.8M415.5 48.1h-1.8M480.1 105.5v1.8M415.5 46.5h-1.8M481.6 105.5v1.8M415.5 45h-1.8M483 105.5v1.8M415.5 43.8h-1.8M484.2 105.5v1.8M415.5 42.7h-1.8M485.2 105.5v2.7M415.5 41.8h-2.7M492.2 105.5v1.8M415.5 35.4h-1.8M496.3 105.5v1.8M415.5 31.6h-1.8M499.2 105.5v1.8M415.5 29h-1.8M501.5 105.5v1.8M415.5 26.9h-1.8M503.3 105.5v1.8M415.5 25.2h-1.8M504.9 105.5v1.8M415.5 23.8h-1.8M506.2 105.5v1.8M415.5 22.6h-1.8M507.4 105.5v1.8M415.5 21.5h-1.8M508.5 105.5v2.4M415.5 20.5h-2.4" stroke="#000" stroke-width="0.85" fill="none"/>
<text x="410.3" y="117.9" font-size="8.1" textLength="10.2" lengthAdjust="spacingAndGlyphs" fill="#000" stroke="#000" stroke-width=".12">10<tspan dy="-2.3" font-size="6.9">0</tspan></text>
<text transform="translate(411 110.7) rotate(-90)" font-size="8.1" textLength="11" lengthAdjust="spacingAndGlyphs" fill="#000" stroke="#000" stroke-width=".12">10<tspan dy="-2.3" font-size="6.9">0</tspan></text>
<text x="433.6" y="117.9" font-size="8.1" textLength="10.2" lengthAdjust="spacingAndGlyphs" fill="#000" stroke="#000" stroke-width=".12">10<tspan dy="-2.3" font-size="6.9">1</tspan></text>
<text transform="translate(411 89.5) rotate(-90)" font-size="8.1" textLength="11" lengthAdjust="spacingAndGlyphs" fill="#000" stroke="#000" stroke-width=".12">10<tspan dy="-2.3" font-size="6.9">1</tspan></text>
<text x="456.8" y="117.9" font-size="8.1" textLength="10.2" lengthAdjust="spacingAndGlyphs" fill="#000" stroke="#000" stroke-width=".12">10<tspan dy="-2.3" font-size="6.9">2</tspan></text>
<text transform="translate(411 68.2) rotate(-90)" font-size="8.1" textLength="11" lengthAdjust="spacingAndGlyphs" fill="#000" stroke="#000" stroke-width=".12">10<tspan dy="-2.3" font-size="6.9">2</tspan></text>
<text x="480.1" y="117.9" font-size="8.1" textLength="10.2" lengthAdjust="spacingAndGlyphs" fill="#000" stroke="#000" stroke-width=".12">10<tspan dy="-2.3" font-size="6.9">3</tspan></text>
<text transform="translate(411 46.9) rotate(-90)" font-size="8.1" textLength="11" lengthAdjust="spacingAndGlyphs" fill="#000" stroke="#000" stroke-width=".12">10<tspan dy="-2.3" font-size="6.9">3</tspan></text>
<text x="503.3" y="117.9" font-size="8.1" textLength="10.2" lengthAdjust="spacingAndGlyphs" fill="#000" stroke="#000" stroke-width=".12">10<tspan dy="-2.3" font-size="6.9">4</tspan></text>
<text transform="translate(411 28.7) rotate(-90)" font-size="8.1" textLength="11" lengthAdjust="spacingAndGlyphs" fill="#000" stroke="#000" stroke-width=".12">10<tspan dy="-2.3" font-size="6.9">4</tspan></text>
<text x="437" y="126.5" font-size="9.8" textLength="54.2" lengthAdjust="spacingAndGlyphs" fill="#000" stroke="#000" stroke-width=".2">CD66b FITC</text>
<text transform="translate(398.9 88.5) rotate(-90)" font-size="9.8" textLength="57.7" lengthAdjust="spacingAndGlyphs" fill="#000" stroke="#000" stroke-width=".2">CD16 PECy5</text>
<text x="451" y="15.2" font-size="12.1" font-weight="bold" textLength="48.2" lengthAdjust="spacingAndGlyphs" fill="#000" stroke="#000" stroke-width=".3">Day +25</text>
<ellipse cx="427.9" cy="83" rx="12.5" ry="17.6" fill="none" stroke="#000" stroke-width="1"/>
<path d="M440.6 83.5H451.7" stroke="#222" stroke-width="1"/>
<text x="478.8" y="79.8" font-size="11" font-weight="bold" textLength="15.2" lengthAdjust="spacingAndGlyphs" fill="#000" stroke="#000" stroke-width=".3">7%</text>
<polygon points="68.6,192.2 68.1,191.7 68.2,191.1 69.1,191 69.3,189.9 70.8,190.6 71.7,190.3 72.5,189.3 73.5,188.3 75,187.8 76.8,187.9 78.4,187 80.2,187.3 81.9,187.5 83.4,186.7 84.7,187.4 86,188.2 87.4,187.9 88.5,189 89.9,188.3 90.5,189.4 90.7,190.4 92.2,189.7 92.1,190.5 91.9,191.2 92.3,191.8 92.5,192.5 92.1,193.1 92,193.8 92.1,194.7 91,195.1 90.6,196 90.6,197.4 89.1,197.4 88.1,197.9 87.4,198.8 86.6,199.8 85,199.5 83.7,200.3 82.3,200.5 81.2,202 79.8,201.9 78.6,201.5 77.4,201.7 76.6,200.2 75.4,200.1 74,200 72.7,199.8 72.6,198 71.2,198 70.7,197.1 69.9,196.2 69.1,195.4 69.1,194.1 67.5,193.7 68.3,192.6" fill="#000"/>
<path d="M81.2 213.8h.9M66 207.9h.9M88.2 208.2h.9M107.7 215h.9M80.1 216.5h.9M87.4 212.7h.9M67.8 218.4h.9M83.5 214.3h.9M80.9 211.3h.9M87.6 222.7h.9M85.1 217h.9M82.7 214.3h.9M94.6 218.1h.9M77.1 218.6h.9M72.3 213.4h.9M98.1 219.5h.9M92 206.2h.9M73.8 208h.9M70.3 215h.9M71.1 207.6h.9M111.9 222h.9M93.6 213.9h.9M88.2 219.1h.9M93.6 214.6h.9M91.9 211.8h.9M114.3 213h.9M92.3 218.5h.9M91.2 212.7h.9M81.8 204.2h.9M96.3 221.2h.9M89.7 212.3h.9M87.4 212.7h.9M52.6 213.1h.9M82.6 209.2h.9M74.2 200.8h.9M93.6 211.2h.9M60.8 210.7h.9M77.6 214.9h.9M71.5 214.8h.9M85.1 211.8h.9M87 210.1h.9M90 222.4h.9M77.9 216.2h.9M80.9 213.9h.9M69.9 206.9h.9M87.1 211h.9M77 214.1h.9M99.2 208.5h.9M110.5 210h.9M66.2 208.8h.9M87.8 226.4h.9M89.3 226.9h.9M88 227.4h.9M87.8 226.2h.9M89.4 220.3h.9M90.5 225.3h.9M81.2 223.8h.9M85.9 226.9h.9M87.7 227.7h.9M89.2 226.1h.9M82.8 224.5h.9M87.4 226.4h.9M91.6 227.1h.9M88.3 227.8h.9M88.8 227.6h.9M90.7 225h.9M90.1 225.9h.9M86.6 225.6h.9M88.9 227.9h.9M86.6 222.5h.9M63.1 227.1h.9M63.1 243.8h.9M60.6 229.9h.9M55.7 237.1h.9M62.3 236.3h.9M56.1 226.5h.9M52.6 229.5h.9M60.4 238h.9M49.7 227.1h.9M58.5 235.8h.9M55 228.3h.9M57.1 234.5h.9M67.3 231.2h.9M58.4 239.2h.9M63.7 224h.9M61.8 223.3h.9M58.9 217.1h.9M76.1 204h.9M88.6 202.8h.9M77 204.2h.9M75.6 204.6h.9M73.2 205.4h.9M96.2 208.5h.9M73.1 204.1h.9M71.5 206.8h.9M82.8 207.1h.9M84.3 207h.9M82.5 204.4h.9M71.5 210h.9M80.3 201.4h.9M86.3 203.5h.9M73.8 205.7h.9M92.4 203.3h.9M75.4 205.3h.9M83.3 206.6h.9M81.2 204.8h.9M77 204.2h.9M87.9 206.2h.9M68.4 204.1h.9M79 203.5h.9M69.9 200.6h.9M83.1 206.6h.9M65 209.2h.9M84.8 202.4h.9M74.6 203.4h.9M86.9 208.2h.9M76.4 201.9h.9M92.2 202.5h.9M77.8 206.2h.9M76.8 205h.9M74.8 206.5h.9M76.1 201.4h.9M67.9 206.8h.9M80.7 203.3h.9M65.5 207.8h.9M78.5 207h.9M75.3 203.6h.9" stroke="#3a3a3a" stroke-width=".9" fill="none" opacity="1"/>
<path d="M85.5 187.4h1.1M70.3 188.7h1.1M91.7 191.8h1.1M70 189.5h1.1M78.2 201.8h1.1M72.7 199.2h1.1M73.5 188.8h1.1M68.3 192.2h1.1M82.7 187h1.1M80.7 188.1h1.1M88.5 188.6h1.1M87.5 199h1.1M69 198h1.1M78.1 200.7h1.1M84.3 187.3h1.1M84.9 200.4h1.1M76.4 188h1.1M91.6 192.1h1.1M87.8 188.5h1.1M92.3 192.2h1.1M90.7 191.7h1.1M87.8 197h1.1M88.9 188.2h1.1M74.1 199.8h1.1M69.9 198.2h1.1M86.8 189.2h1.1M91.8 191.1h1.1M69 198.4h1.1M70.2 196.3h1.1M87.6 198.1h1.1M67.6 195.4h1.1M66.2 192h1.1M75.5 201.7h1.1M68.3 195.6h1.1M70.9 198.6h1.1M68.9 197.4h1.1M71.4 188.1h1.1M86.4 199.5h1.1M86.4 199.5h1.1M76.8 187.9h1.1M90.2 195.5h1.1M71 197.9h1.1M85.6 199.3h1.1M90.8 190.2h1.1M84.7 188.3h1.1M67.7 195.7h1.1M91.2 193.1h1.1M74.7 200.5h1.1M92 191.3h1.1M83.6 186.3h1.1M89.7 195.8h1.1M69.4 195.6h1.1M68.1 191.7h1.1M71.2 188.6h1.1M69 195.5h1.1M80.7 201.7h1.1M90 196.7h1.1M92.1 193.1h1.1M68.1 190.9h1.1M82.6 187h1.1M72.8 200.1h1.1M90 196.2h1.1M78.4 200.8h1.1M73.6 199.8h1.1M90.7 189h1.1M80.7 187.5h1.1M88.9 188.9h1.1M91 189.7h1.1M72.4 200.1h1.1M90.4 190.1h1.1M76.5 200.9h1.1M87.3 197h1.1M93.3 191.1h1.1M67.3 193.2h1.1M77 201.3h1.1M84.2 187.9h1.1M79.7 187.7h1.1M69.8 188.8h1.1M92.1 195h1.1M71.6 188.7h1.1M81.2 201h1.1M67.8 196.1h1.1M91.6 188.7h1.1M75.4 201.6h1.1M91.7 188.1h1.1M71.6 198.1h1.1M79.7 188.7h1.1M88.9 188.2h1.1M85.3 199.8h1.1M70 189.9h1.1M67 190.1h1.1M90.9 194.5h1.1M93.5 191.2h1.1M91.2 194.3h1.1M92.5 189.9h1.1M92.2 193.4h1.1M89.8 196.5h1.1M77.7 187.6h1.1M83.6 201.1h1.1M69 196.6h1.1M68.8 189.5h1.1M91.4 190.1h1.1M70.6 188.2h1.1M83.4 199.3h1.1M80 201.7h1.1M87.6 198.8h1.1M86.8 188.2h1.1M70.3 197.7h1.1M77.8 187h1.1M73.1 199.9h1.1M68.3 190.9h1.1M71.2 189.9h1.1M72.8 188.8h1.1M79.7 186.7h1.1M92 191.5h1.1M86 199h1.1M74.3 200.8h1.1M90.8 192.9h1.1M82.1 188.6h1.1M69.5 197.5h1.1M70.4 198.5h1.1M78.3 187.9h1.1M67.7 190.2h1.1M90.6 190.5h1.1M86.4 199.2h1.1M80 200.5h1.1M69 187.9h1.1M74.8 187.5h1.1M73 200.1h1.1M89.8 196h1.1M77.4 201.8h1.1M69.8 189.5h1.1M67.9 192.1h1.1M91.3 192.8h1.1M81.3 201.1h1.1M89.5 196.5h1.1M69.2 196.7h1.1M92.1 189.8h1.1M88.6 187.3h1.1M78.2 187.2h1.1M82.8 200.1h1.1M70.4 196.6h1.1M73.6 187.9h1.1M69.3 195.9h1.1M76.1 188.6h1.1M72.3 189.8h1.1M87.5 187.5h1.1M78 187.7h1.1M77.7 186.5h1.1M84.4 186.9h1.1M73.2 189h1.1M90.5 191h1.1M90.2 188.9h1.1M81.6 201.1h1.1M91.1 192.2h1.1M91.1 191.3h1.1M89.7 195.3h1.1M84.4 200.5h1.1M70.4 188.7h1.1M74.2 188.7h1.1M90.8 191.4h1.1M69.2 196h1.1M87 198.4h1.1M91.2 189.5h1.1M67.4 191.1h1.1M71.3 198.2h1.1M73.4 189.3h1.1M75.8 201.1h1.1M91.6 190.9h1.1M91.8 190.7h1.1M82.9 186.4h1.1M74.6 200.3h1.1M70.9 188.7h1.1M81.4 200.6h1.1M78.2 201h1.1M92.3 191.2h1.1M89.4 188.4h1.1M68.9 190.6h1.1M91.7 193.9h1.1M81.6 187.4h1.1M81.9 187.4h1.1M72.1 190.1h1.1M71 198.7h1.1M89.6 196.2h1.1M66.8 193.5h1.1M92.3 192.3h1.1M89.3 188.7h1.1M78.8 201.7h1.1M84.9 188.6h1.1M70.3 198.5h1.1M84.2 187.1h1.1M83.7 188.1h1.1M91 191.8h1.1M71.8 188h1.1M89.3 197.6h1.1M79.4 201.8h1.1M73.6 199.8h1.1M75.6 189.3h1.1M68.2 190.1h1.1M73.7 189.1h1.1M78 201.7h1.1M71.8 199.1h1.1M69.2 190h1.1M91.7 191.1h1.1M91.6 194h1.1M91.5 193.6h1.1M81 202h1.1M88 197h1.1M72.3 189.2h1.1M70 200.3h1.1M90.3 197.6h1.1M91.3 190.8h1.1M72.5 199.7h1.1M68.7 194.4h1.1M72.2 199.6h1.1M91.6 194.7h1.1M87.6 187.8h1.1M91.1 196h1.1M80.9 186.9h1.1M90.9 194h1.1M83.4 200.6h1.1M90.7 190.1h1.1M84.5 201.8h1.1M87.9 197.4h1.1M87.8 186.2h1.1M79 186.1h1.1M68.1 192h1.1M68.4 191.2h1.1M70.8 200.1h1.1M91.7 191.1h1.1M92.4 194.8h1.1M74.5 201.6h1.1M90 191.1h1.1M83.2 199.9h1.1M67.8 191.4h1.1M85.7 188.5h1.1M73.9 201.7h1.1M71.3 187.9h1.1M68.9 198.1h1.1M85.2 187.6h1.1M67.5 194.2h1.1M85.7 186.5h1.1M71.1 197.8h1.1M69.4 189.6h1.1M69.2 196.4h1.1M92.3 190.5h1.1M68.3 194.9h1.1M88.4 198.5h1.1M75.3 201h1.1M91.1 192.6h1.1M80.3 202.1h1.1M67.5 191.8h1.1M86.9 188.2h1.1M73.4 188.5h1.1M83 187.7h1.1M91.2 191.5h1.1M73.2 188.9h1.1M91 194.8h1.1M87.2 199.8h1.1M92.7 190.2h1.1M76.4 187.5h1.1M89.6 188.1h1.1M75.2 199.8h1.1M79 201.6h1.1M67.2 194.5h1.1M91.8 193.5h1.1M76.2 187.9h1.1M73.7 198.9h1.1M69.7 189.7h1.1M67 192.9h1.1M90.5 197.8h1.1M90.9 192.5h1.1M79.9 201.9h1.1M87.7 199.9h1.1M70.2 187.7h1.1M72.7 200.9h1.1M89.9 198.3h1.1M79.3 204.3h1.1M66.6 195h1.1M71.3 187.9h1.1M92.3 195h1.1M90.2 185.6h1.1M92.1 186.3h1.1M93.4 194.8h1.1M68.5 198.4h1.1M84 186h1.1M68 188.7h1.1M93.9 191.6h1.1M68.1 198.5h1.1M67 195.9h1.1M89.8 198.8h1.1M79.2 202.3h1.1M91.4 198.1h1.1M93.4 187.5h1.1M89.4 185.9h1.1M93.4 189.4h1.1M85.8 201.2h1.1M71.2 202.1h1.1M78.5 203.4h1.1M82.1 186.1h1.1M71.8 186.8h1.1M82.9 202.6h1.1M80.3 184h1.1M82.8 203.5h1.1M77.8 185.5h1.1M79.2 185.8h1.1M67.4 188.8h1.1M88.9 187.2h1.1M90.9 198.2h1.1M94.1 193.4h1.1M69 200.1h1.1M88.6 187.2h1.1M72.5 201.6h1.1M67 196.7h1.1M90.7 198.5h1.1M89.4 200h1.1M84.3 185.4h1.1M70.2 187.6h1.1M93.3 190.5h1.1M92.7 189h1.1M68.3 197.3h1.1M69.7 187.9h1.1M87.6 198.9h1.1M93.9 191.7h1.1M91.1 188h1.1M79.6 203.5h1.1M75 184.7h1.1M96 188.9h1.1M65.1 194.3h1.1M85.2 200.7h1.1M76.4 204.1h1.1M84.8 184.8h1.1M69.4 200.9h1.1M72.3 186.3h1.1M90.5 199.1h1.1M86.3 187h1.1M90.2 187.6h1.1M75 203.8h1.1M83.4 202.9h1.1M73 186h1.1M88.9 199.7h1.1M93.4 191.6h1.1M71.2 186h1.1M83.8 204h1.1M82.6 183.8h1.1M93.6 197.5h1.1M71.3 199.3h1.1M74.2 185.9h1.1M77.1 203h1.1M94.1 194.6h1.1M69.4 198.4h1.1M67.9 196.8h1.1M88.5 187.4h1.1M94.4 187h1.1M88.9 201.1h1.1M72.4 187.5h1.1M74.5 200.7h1.1M89.5 198.6h1.1M65.6 188.9h1.1M92.7 196.9h1.1M93.3 189.3h1.1M74.2 200.4h1.1M81 185.6h1.1M82.1 202.2h1.1M77.4 184.5h1.1M80.6 203.4h1.1M77.6 202.9h1.1M92.5 198.1h1.1M90.6 187.3h1.1M93.8 189.3h1.1M76.1 203.8h1.1M84.4 201.7h1.1M91.4 196.6h1.1M67.2 200h1.1M91.8 196.2h1.1M74.3 186.7h1.1M93.2 191.1h1.1M65.5 193.5h1.1M93.7 195.5h1.1M79.5 203.8h1.1M91.2 188.3h1.1M69.4 197.7h1.1M90.6 187.7h1.1M93.7 193.4h1.1M79.5 204.3h1.1M71.2 186.5h1.1M71.3 187.2h1.1M78.8 184.6h1.1M83.4 186.6h1.1M89.7 199.1h1.1M93.7 189.8h1.1M73.6 183h1.1M72.5 186.6h1.1M68.2 196.9h1.1M71 187.7h1.1M82.5 185.5h1.1M67.7 197.5h1.1M85.3 201.6h1.1M69.8 199.8h1.1M88 199.4h1.1M85.1 185h1.1M85 185.6h1.1M75.7 186.5h1.1M76.3 185.6h1.1M81.1 185.7h1.1M65.2 190.3h1.1M65.5 192.7h1.1M93.1 186.6h1.1M84 201.1h1.1M67.5 199.8h1.1M91.8 195.9h1.1M93.1 196.1h1.1M67.8 198.8h1.1M91.5 187.6h1.1M65.6 195h1.1M84.5 201.1h1.1M91.4 188.6h1.1M85.6 202.9h1.1M67.5 196.4h1.1M79.2 202.6h1.1M82.4 185.7h1.1M89.6 200.7h1.1M69.8 199.8h1.1M70.4 200.2h1.1M65 191.7h1.1M89.3 186.3h1.1M67.3 189h1.1M77.8 187h1.1M66.5 198.8h1.1M92.9 191.6h1.1M67.2 189.4h1.1M66.8 193.1h1.1M87.6 184.9h1.1M85.3 201.4h1.1M81.4 204.2h1.1M88.3 200.1h1.1M72.9 186.3h1.1M70.9 186.6h1.1M84.4 201.3h1.1M93.9 189.3h1.1M67.6 188.4h1.1M57.6 216.4h1.1M52.1 219h1.1M55.6 219.9h1.1M55.7 221.5h1.1M57.9 218.7h1.1M55.9 220.7h1.1M55.3 214.9h1.1M53.4 215.7h1.1M54.2 216.2h1.1M54.1 218.4h1.1M56.3 215.5h1.1M53.7 216.2h1.1M54.8 221.6h1.1M57.8 217.7h1.1M56 214.7h1.1M61.4 220.9h1.1M57.5 222.3h1.1M59.4 221.4h1.1M52.6 212.7h1.1M57.4 214.3h1.1M58.7 214.3h1.1M60 217.9h1.1M52.8 221.8h1.1M54.1 221.1h1.1M51.1 218.5h1.1M60 220.9h1.1M61.4 223.5h1.1M55.6 219.4h1.1M55.5 222.7h1.1M55 219.6h1.1M51.6 212.3h1.1M54.3 217.5h1.1M54.2 218.4h1.1M58.7 219.7h1.1M62 219.4h1.1M55.5 217.2h1.1M57.3 215.1h1.1M59.1 214.8h1.1M59.6 217.1h1.1M55.6 218h1.1M57.7 218.5h1.1M60.6 220.4h1.1M57.9 214.6h1.1M61.7 222.9h1.1M54.5 218.2h1.1M57.8 222.3h1.1M58.6 218.1h1.1M56.6 220.6h1.1M60.6 215h1.1M63.2 219.1h1.1M54.4 219.3h1.1M53.5 215.2h1.1M56 217.9h1.1M56.3 216h1.1M59.7 219.5h1.1M60.3 215.5h1.1M55.6 221.7h1.1M57 220.9h1.1M59 219.7h1.1M54.6 217.6h1.1M58.9 221.4h1.1M53.1 219.6h1.1M57.1 217.9h1.1M57.3 221.8h1.1M57 217.1h1.1M55.1 223.1h1.1M55.5 221.8h1.1M55.8 221h1.1M53.1 219.7h1.1M51.4 218.8h1.1M54.2 221h1.1M56.5 215h1.1M56.2 219.8h1.1M56.1 216h1.1M57.5 222.2h1.1M60.6 217.6h1.1M56.4 222h1.1M55.1 216h1.1M58.4 218h1.1M56 216.9h1.1M56.9 218h1.1M56.4 215h1.1M55.1 222.2h1.1M52.8 217.4h1.1M55.4 220.6h1.1M59.2 219.5h1.1M63.8 220.5h1.1M54.5 221.4h1.1M55.6 213.7h1.1M50.7 218.3h1.1M54.8 215.4h1.1M55.9 214.9h1.1M55.6 215.7h1.1M54.1 221.9h1.1M56.2 221h1.1M60.6 218.2h1.1M55.6 215.6h1.1M54.3 217.9h1.1M57.5 220.3h1.1M54.8 220.2h1.1M54.2 215.9h1.1M55.9 219.4h1.1M56.4 219h1.1M57.2 223.5h1.1M57.4 217.5h1.1M50.4 212.5h1.1M54.1 220.7h1.1M59.7 221.2h1.1M53.7 214.7h1.1M57 221.5h1.1M56.5 222.5h1.1M55.5 219.8h1.1M53.2 218.3h1.1M56.7 218.9h1.1M56 218h1.1M54.5 220.5h1.1M57.8 222.3h1.1M59.2 218.6h1.1M51.4 219.2h1.1M59.4 220.1h1.1" stroke="#000" stroke-width="1.1" fill="none" opacity="1"/>
<path d="M86 226.4L90 223M90 223L88.3 227.5" stroke="#333" stroke-width="0.7" fill="none"/>
<path d="M48.5 160.5H142.5V246.5" stroke="#444" stroke-width="1" fill="none"/>
<path d="M48.5 160V246.5H143" stroke="#000" stroke-width="1.4" fill="none"/>
<path d="M67.5 160.5V246.5M48.5 207.5H142.5" stroke="#111" stroke-width="1" fill="none"/>
<path d="M48.5 246.5v2.7M48.5 246.5h-2.7M55.6 246.5v1.8M48.5 240h-1.8M59.7 246.5v1.8M48.5 236.2h-1.8M62.6 246.5v1.8M48.5 233.6h-1.8M64.9 246.5v1.8M48.5 231.5h-1.8M66.8 246.5v1.8M48.5 229.8h-1.8M68.4 246.5v1.8M48.5 228.3h-1.8M69.7 246.5v1.8M48.5 227.1h-1.8M70.9 246.5v1.8M48.5 226h-1.8M72 246.5v2.7M48.5 225h-2.7M79.1 246.5v1.8M48.5 218.5h-1.8M83.2 246.5v1.8M48.5 214.7h-1.8M86.1 246.5v1.8M48.5 212.1h-1.8M88.4 246.5v1.8M48.5 210h-1.8M90.3 246.5v1.8M48.5 208.3h-1.8M91.9 246.5v1.8M48.5 206.8h-1.8M93.2 246.5v1.8M48.5 205.6h-1.8M94.4 246.5v1.8M48.5 204.5h-1.8M95.5 246.5v2.7M48.5 203.5h-2.7M102.6 246.5v1.8M48.5 197h-1.8M106.7 246.5v1.8M48.5 193.2h-1.8M109.6 246.5v1.8M48.5 190.6h-1.8M111.9 246.5v1.8M48.5 188.5h-1.8M113.8 246.5v1.8M48.5 186.8h-1.8M115.4 246.5v1.8M48.5 185.3h-1.8M116.7 246.5v1.8M48.5 184.1h-1.8M117.9 246.5v1.8M48.5 183h-1.8M119 246.5v2.7M48.5 182h-2.7M126.1 246.5v1.8M48.5 175.5h-1.8M130.2 246.5v1.8M48.5 171.7h-1.8M133.1 246.5v1.8M48.5 169.1h-1.8M135.4 246.5v1.8M48.5 167h-1.8M137.3 246.5v1.8M48.5 165.3h-1.8M138.9 246.5v1.8M48.5 163.8h-1.8M140.2 246.5v1.8M48.5 162.6h-1.8M141.4 246.5v1.8M48.5 161.5h-1.8M142.5 246.5v2.4M48.5 160.5h-2.4" stroke="#000" stroke-width="0.85" fill="none"/>
<text x="43.3" y="259.1" font-size="8.1" textLength="10.2" lengthAdjust="spacingAndGlyphs" fill="#000" stroke="#000" stroke-width=".12">10<tspan dy="-2.3" font-size="6.9">0</tspan></text>
<text transform="translate(42.1 251.7) rotate(-90)" font-size="8.1" textLength="11" lengthAdjust="spacingAndGlyphs" fill="#000" stroke="#000" stroke-width=".12">10<tspan dy="-2.3" font-size="6.9">0</tspan></text>
<text x="66.8" y="259.1" font-size="8.1" textLength="10.2" lengthAdjust="spacingAndGlyphs" fill="#000" stroke="#000" stroke-width=".12">10<tspan dy="-2.3" font-size="6.9">1</tspan></text>
<text transform="translate(42.1 230.2) rotate(-90)" font-size="8.1" textLength="11" lengthAdjust="spacingAndGlyphs" fill="#000" stroke="#000" stroke-width=".12">10<tspan dy="-2.3" font-size="6.9">1</tspan></text>
<text x="90.3" y="259.1" font-size="8.1" textLength="10.2" lengthAdjust="spacingAndGlyphs" fill="#000" stroke="#000" stroke-width=".12">10<tspan dy="-2.3" font-size="6.9">2</tspan></text>
<text transform="translate(42.1 208.7) rotate(-90)" font-size="8.1" textLength="11" lengthAdjust="spacingAndGlyphs" fill="#000" stroke="#000" stroke-width=".12">10<tspan dy="-2.3" font-size="6.9">2</tspan></text>
<text x="113.8" y="259.1" font-size="8.1" textLength="10.2" lengthAdjust="spacingAndGlyphs" fill="#000" stroke="#000" stroke-width=".12">10<tspan dy="-2.3" font-size="6.9">3</tspan></text>
<text transform="translate(42.1 187.2) rotate(-90)" font-size="8.1" textLength="11" lengthAdjust="spacingAndGlyphs" fill="#000" stroke="#000" stroke-width=".12">10<tspan dy="-2.3" font-size="6.9">3</tspan></text>
<text x="137.3" y="259.1" font-size="8.1" textLength="10.2" lengthAdjust="spacingAndGlyphs" fill="#000" stroke="#000" stroke-width=".12">10<tspan dy="-2.3" font-size="6.9">4</tspan></text>
<text transform="translate(42.1 168.7) rotate(-90)" font-size="8.1" textLength="11" lengthAdjust="spacingAndGlyphs" fill="#000" stroke="#000" stroke-width=".12">10<tspan dy="-2.3" font-size="6.9">4</tspan></text>
<text x="65" y="269.6" font-size="9.8" textLength="53.8" lengthAdjust="spacingAndGlyphs" fill="#000" stroke="#000" stroke-width=".2">CD66b FITC</text>
<text transform="translate(32.2 228.5) rotate(-90)" font-size="9.8" textLength="56.5" lengthAdjust="spacingAndGlyphs" fill="#000" stroke="#000" stroke-width=".2">CD16 PECy5</text>
<text x="73" y="157.4" font-size="12.1" font-weight="bold" textLength="48.4" lengthAdjust="spacingAndGlyphs" fill="#000" stroke="#000" stroke-width=".3">Day +29</text>
<ellipse cx="57.8" cy="226.4" rx="14.6" ry="17.6" fill="none" stroke="#000" stroke-width="1"/>
<path d="M72.5 226.5H87" stroke="#222" stroke-width="1"/>
<text x="96.3" y="231.1" font-size="11" font-weight="bold" textLength="24.7" lengthAdjust="spacingAndGlyphs" fill="#000" stroke="#000" stroke-width=".3">2.6%</text>
<polygon points="188.9,194.7 189.8,194.2 190.5,193.7 190.6,192.7 191.5,192.2 191.7,191.2 192.6,190.8 192.8,189.3 194.4,189.8 195.2,188.2 196.8,188 198.6,188.8 200.1,187.7 201.6,187.5 203.1,187.5 204.6,187.2 206.1,186.1 207.5,187.3 209,188 210.5,188 211.9,188 213.5,186.9 214.7,188.5 216.4,187.7 217.6,189.4 219,189.2 219.9,189.5 220.2,189.6 220.4,189.1 220.4,189.3 219.4,189.8 217.9,190.2 216.8,191.8 215.2,192.7 213.8,194 212.1,194.2 211.5,195.9 210.2,196.3 208.7,196.4 208.2,198 206.7,197.8 205.8,198.6 204.9,199.3 204,200.1 203.3,201.5 201.7,200.8 200.8,201.5 199.7,201.8 198.7,201.7 197.7,201.2 197,202.1 196.3,201 195.5,202.2 195.1,201.1 194.2,201.8 193.4,201.9 193.3,200.8 192.4,201.1 191.8,200.9 192.2,199.7 192.2,198.9 191.3,198.8 190.5,198.5 190.8,197.7 190.1,197.4 189.7,196.9 189.2,196.6 188.9,196.2 189.2,195.7 189.8,195.4" fill="#000"/>
<path d="M187.3 208.7h.9M193.8 213.1h.9M196.2 197.5h.9M198.5 203.8h.9M188.6 216.5h.9M194 204h.9M199.4 196.1h.9M186.8 206.4h.9M190.4 205.6h.9M193.5 208.9h.9M193 201.1h.9M192.5 209.6h.9M197.7 201.4h.9M193.8 210.6h.9M192.6 209.4h.9M188.7 194.3h.9M196.5 200.7h.9M197.4 210.5h.9M191.5 208.4h.9M200.5 205h.9M193.1 203.7h.9M194.9 207.7h.9M194 215.6h.9M195.2 211.6h.9M194.4 213h.9M204.8 218h.9M194.5 201.8h.9M195.7 199.7h.9M202.6 205.4h.9M204.9 210.6h.9M190.9 199.1h.9M197.6 205.1h.9M194.8 206.5h.9M195.3 210.5h.9M193.8 200.2h.9M193.9 224.3h.9M195.6 210.4h.9M193.5 212.2h.9M197.1 206.5h.9M200.9 210.1h.9M192.7 219h.9M191.8 203.2h.9M194.2 205.4h.9M206.9 198.3h.9M196.3 202.5h.9M184.6 202.6h.9M191.3 207.3h.9M189.2 208.4h.9M195.2 205.8h.9M195.7 201.4h.9M193.1 200.6h.9M191.3 206.9h.9M190.8 204.8h.9M201.6 199.9h.9M193.1 209.7h.9M192.7 211.5h.9M195.1 208.2h.9M192.7 204.8h.9M197.8 205.8h.9M191.6 203h.9M189.3 211.6h.9M196.5 201.2h.9M194.3 214.2h.9M193.2 208.1h.9M189.4 192.1h.9M190.7 219.8h.9M195.3 202.4h.9M193.7 208.8h.9M197.6 203.5h.9M192 201.1h.9M187 212.2h.9M194.6 210.4h.9M195.4 209.2h.9M195.9 207.8h.9M194.8 206.9h.9M187.9 203h.9M196.4 203h.9M184.3 203h.9M198.3 208.4h.9M194.6 207.1h.9M198 209.8h.9M188 202.3h.9M194.7 211.8h.9M187.5 209.1h.9M198.3 194.5h.9M194.5 206.5h.9M189.2 219.1h.9M201.9 206.3h.9M193.1 204.8h.9M189.9 203.2h.9M187.4 208.8h.9M200.8 207.3h.9M194.1 208.4h.9M193.4 208.4h.9M195.8 200.3h.9M193.6 204.4h.9M198.5 210.1h.9M189.8 201.1h.9M195.4 207.7h.9M197.7 211.1h.9M189.6 204.3h.9M195.2 210.6h.9M199.7 200.6h.9M189.2 199.8h.9M198.5 198.5h.9M196.3 210.8h.9M195.1 204.4h.9M196 209.6h.9M195.8 199.5h.9M198.6 211.3h.9M198 204h.9M189.7 208.6h.9M193.4 206.5h.9M188.2 205.3h.9M196.7 202.1h.9M196.7 206.9h.9M192.6 200.8h.9M194.3 220.2h.9M197.9 216.4h.9M197 222h.9M182.8 227.9h.9M185.9 224.5h.9M181.2 221.9h.9M188.8 229.5h.9M188.3 229.6h.9M190.7 222.2h.9M189.1 223.2h.9M178.9 212h.9M185.8 217.3h.9M196.9 214.2h.9M185.1 230.2h.9M189.4 231.6h.9M185 213.7h.9M190.3 225.5h.9M188 232.2h.9M186.9 226.5h.9M189.6 212.6h.9M184.6 217.9h.9M188.3 225.7h.9M186.9 228.8h.9M189.2 225.7h.9M186.2 225.5h.9M185.2 228.1h.9M183.3 218.1h.9M182.1 225.7h.9M189.1 219.1h.9M186.8 203.7h.9M188.3 225.2h.9M188.7 216.6h.9M190.4 226.7h.9M186.4 208.5h.9M182.8 224.2h.9M191.7 214.9h.9M187 221.2h.9M187.7 217h.9M186.1 206.1h.9M186.6 233.3h.9M190.9 223.6h.9M187.9 217.7h.9M185.9 227h.9M191.5 208.9h.9M189.5 219.1h.9M187.5 229.1h.9M186.7 216.7h.9M190.5 222.5h.9M181 230.9h.9M183.6 220.4h.9M191.9 221.9h.9M185.8 219.9h.9M185.2 224.3h.9M192.7 224.8h.9M191.2 218h.9M187.6 234.4h.9M207 214.9h.9M200.2 222.7h.9M206.3 213.1h.9M222.5 233.8h.9M212.5 225.4h.9M213.8 225.2h.9M211.5 244h.9M191.7 229h.9M200.6 232h.9M223.7 211.7h.9M229.2 231.7h.9M196.7 213.6h.9M188 227.5h.9M209.6 212.9h.9M212.4 235.3h.9M202 228.9h.9M196.3 207.5h.9M179.7 214.1h.9M213 226.6h.9M204 214.9h.9M183.3 223.6h.9M199.6 220.2h.9M210.9 212.4h.9M202.6 223.8h.9M232.6 230.5h.9M208.4 233.2h.9M207.8 218.9h.9M226.4 229.7h.9M217.9 216.5h.9M222.9 227.3h.9M210.6 210.8h.9M198.7 230.5h.9M222.5 222.7h.9M187.6 213.7h.9M208.5 239.6h.9M198.6 242.8h.9M207.9 217.7h.9M209.9 228.8h.9M218.7 233.8h.9M180.7 230.5h.9M215.6 225.3h.9M229.7 221.3h.9M234.3 223.6h.9M206.4 221.2h.9M230.3 242.1h.9M200.6 212.7h.9M211.8 223h.9M217.3 228.5h.9M198.5 204.2h.9M209.8 201.6h.9M201.7 201h.9M213.2 202.6h.9M194.4 208h.9M222.7 205.9h.9M211.7 201.1h.9M215.6 206.3h.9M208.4 206.4h.9M198.4 212.1h.9M200.3 209h.9M196.8 208.5h.9M191.1 212.5h.9M207.8 209.1h.9M199.9 204.1h.9M204.7 203.5h.9M213.6 211.7h.9M195.2 213.1h.9M208.6 211.6h.9M195.9 212.1h.9M201.1 214.2h.9M198.9 211h.9M204.5 206.1h.9M196.7 206.7h.9M206.3 206.6h.9M198 206h.9M204.2 205.2h.9M204.3 206.1h.9M204 211.8h.9M213.7 214.3h.9M205.7 209.4h.9M201.1 203.8h.9M199.6 204.7h.9M211.6 206.9h.9M198.3 207.7h.9M200 208.5h.9M205.2 208h.9M207 212.5h.9M205.8 209.3h.9M195.6 210.7h.9M224.1 189.1h.9M225.7 185.5h.9M219.6 190.6h.9M221.1 191.9h.9M229.2 192.2h.9M213.7 187.7h.9M216 189.2h.9M228.4 188.9h.9M224.5 182.8h.9M218.4 189.4h.9M217.4 191.7h.9M230 193.3h.9M220.8 191h.9M228.5 185.5h.9M225 190.7h.9M224.4 191.7h.9M221.3 185.1h.9M219.1 191.3h.9M218.7 195.1h.9M218.9 191.6h.9M230.4 188.4h.9M226.7 186.7h.9M228.2 186.8h.9M220.3 195.2h.9M220.4 190.1h.9M213.6 193.5h.9M220.7 193.1h.9M221 192.3h.9M212.1 192h.9M220.3 191.3h.9M212.7 187.6h.9M221.5 187.6h.9M226.8 189.3h.9M221.1 193.1h.9M221.1 196.6h.9M222.4 189.1h.9M222.2 193.7h.9M227.9 191.2h.9M217.3 189.7h.9M224.1 189.2h.9M191.8 225.7h.9M202.7 203.7h.9M206.9 219.8h.9M196.5 218.7h.9M197.9 210.2h.9M201.7 218.6h.9M201.6 220.5h.9M193.6 224.3h.9M200.6 218.2h.9M196.8 210.4h.9M204.7 227.9h.9M201.9 217.3h.9M192.1 221.6h.9M198.6 217.7h.9M203 217.8h.9M199.1 218.4h.9M192.5 206.5h.9M189.3 222.9h.9M194 223.6h.9M195.1 221.6h.9M194.5 217h.9M188.1 201.2h.9M199.8 210.7h.9M199.4 216.1h.9M193.3 211.1h.9M201.4 219.1h.9M199 221.1h.9M195.1 214.3h.9M199.5 205.9h.9M194.5 204.2h.9M199.5 210.4h.9M190 222h.9M196.2 225.8h.9M190.2 216.1h.9M200.2 220.7h.9M204.6 223.4h.9M207.1 222.7h.9M196.4 210.9h.9M190.8 203.8h.9M201.9 213.8h.9M200.9 213.9h.9M192.7 205.8h.9M202.1 220.6h.9M199 222.8h.9M203.6 215.1h.9M194.2 204.5h.9M192.6 222.3h.9M196.1 203.4h.9M196.3 214.8h.9M200 222.8h.9M197.4 214.3h.9M198.2 223.5h.9M202.4 219.3h.9M195.3 223.6h.9M193.9 227.7h.9M202.8 222.8h.9M193.1 215.7h.9M193.6 217.2h.9M195.3 211.1h.9M195.5 216.6h.9" stroke="#3a3a3a" stroke-width=".9" fill="none" opacity="1"/>
<path d="M202.1 200.3h1.1M194.4 201.1h1.1M195 188.1h1.1M200.2 187h1.1M217.9 189.7h1.1M189.6 197.1h1.1M206.2 188.1h1.1M215.3 186.9h1.1M214.5 192.6h1.1M191.1 190.2h1.1M189.8 199.4h1.1M191.9 199.7h1.1M218.9 188.8h1.1M208.5 198h1.1M197.3 202.1h1.1M192.2 190.8h1.1M199.1 187.1h1.1M191.4 190.8h1.1M216.8 192.3h1.1M190.4 192.1h1.1M196 202.9h1.1M188.3 196.3h1.1M217.1 187.6h1.1M189 192.7h1.1M188.6 194.8h1.1M188.7 196h1.1M196.6 201.5h1.1M194.4 201.1h1.1M195.5 202h1.1M208.3 196.6h1.1M192.9 188.1h1.1M190.6 194.4h1.1M193.4 203h1.1M189.4 197.5h1.1M218.9 190.3h1.1M189.5 191.7h1.1M216.5 189.1h1.1M189.6 196.9h1.1M188.8 194.9h1.1M207.2 186.4h1.1M209.7 188.4h1.1M200.7 202.8h1.1M196.3 202h1.1M214.9 188.2h1.1M217.8 190.9h1.1M189.3 195.3h1.1M188.5 194.7h1.1M201.5 199.1h1.1M193.2 189.4h1.1M220.4 188.7h1.1M208.6 196.9h1.1M218.7 187.4h1.1M197.5 201.3h1.1M201.7 200.8h1.1M209.3 187.7h1.1M209.3 186.8h1.1M189.9 198.8h1.1M193.4 201.8h1.1M205.1 198.1h1.1M189.5 196.9h1.1M190.3 191.8h1.1M215.3 188.8h1.1M215.3 187.5h1.1M195.7 187.4h1.1M210.3 194.7h1.1M193.4 202.3h1.1M205 187.1h1.1M202.6 188h1.1M206.9 187h1.1M189 194.2h1.1M191.9 202.4h1.1M199.8 201.6h1.1M194.1 201.5h1.1M220.3 189.2h1.1M209 187h1.1M207.7 187.7h1.1M206.7 199.1h1.1M206.4 200h1.1M188.7 193h1.1M203.6 201.3h1.1M215.9 188.7h1.1M203 200.3h1.1M190.3 198.6h1.1M189.3 195.2h1.1M211.8 187.1h1.1M215.8 188.1h1.1M218.3 189.5h1.1M200.4 200.9h1.1M213.9 188.1h1.1M199 201.8h1.1M220.6 189.3h1.1M203 199.6h1.1M193.6 188.8h1.1M207.4 197.5h1.1M213.7 188.9h1.1M196.4 188.7h1.1M195.3 188.3h1.1M216.6 189.2h1.1M191.8 201.3h1.1M206.3 197.8h1.1M189.5 198.2h1.1M211.1 195.4h1.1M205.6 187.5h1.1M192.1 189.4h1.1M209.2 195.1h1.1M205.7 198.1h1.1M219 190.2h1.1M196.7 202.8h1.1M211.6 194.7h1.1M204.1 187h1.1M188.9 196.5h1.1M188.5 194.4h1.1M201.8 200.4h1.1M212.6 194.5h1.1M190 199.9h1.1M203.3 187.5h1.1M202.6 200.8h1.1M213.8 186.5h1.1M195.5 187.9h1.1M189.6 195.4h1.1M189.3 199.1h1.1M202.3 199.2h1.1M211.7 193.8h1.1M193.4 188.7h1.1M188.7 196.5h1.1M192 200.4h1.1M212.3 194.4h1.1M197.8 187.6h1.1M191.2 199.3h1.1M218.7 189.6h1.1M206.3 198.7h1.1M197.4 202.3h1.1M191.6 191.2h1.1M193.9 203h1.1M209.6 187.8h1.1M188.1 197.7h1.1M203.6 187.7h1.1M190.1 192.5h1.1M210.1 188.1h1.1M216.6 188.3h1.1M193.7 200.6h1.1M202.6 198.9h1.1M190 199.3h1.1M213.2 194h1.1M214 188.8h1.1M207.4 198.5h1.1M209.3 198.2h1.1M208.8 197.3h1.1M199.8 188.8h1.1M190.7 198.9h1.1M192.2 201h1.1M203.5 199.8h1.1M193.6 189h1.1M199.4 186.9h1.1M190.4 199.7h1.1M192.4 199.6h1.1M217.7 188.2h1.1M193.4 200.9h1.1M219.2 188.4h1.1M204.3 187.8h1.1M200.3 187.2h1.1M194.7 201.8h1.1M210.9 195h1.1M206 197.8h1.1M217.4 188.6h1.1M197.8 203.3h1.1M211.6 188.3h1.1M207.2 187.4h1.1M192.5 189.4h1.1M191.3 201.1h1.1M219.8 188.9h1.1M191.6 191h1.1M205.7 199.7h1.1M206.8 186.8h1.1M190.7 198.9h1.1M218.8 189.7h1.1M207.8 198.3h1.1M196.9 189.3h1.1M196.2 188.7h1.1M205.1 199.2h1.1M192.1 190.4h1.1M205.3 199.4h1.1M219.8 188.8h1.1M211.6 194.1h1.1M188.5 193.4h1.1M206.4 186.9h1.1M212.7 193.5h1.1M205 188.5h1.1M218.3 189.8h1.1M189.6 198.2h1.1M194.4 189.1h1.1M194.1 203.5h1.1M219.9 188.7h1.1M207 197.6h1.1M204.6 199.7h1.1M190.6 192.8h1.1M214.5 188.7h1.1M199.4 188.3h1.1M189 196.5h1.1M218 190.6h1.1M219 189.9h1.1M192.3 201.4h1.1M206.6 198h1.1M188.4 197.2h1.1M197.8 188.5h1.1M187.8 193h1.1M205.3 200.1h1.1M187.9 193.2h1.1M190.8 200.1h1.1M202.8 200.9h1.1M202.3 201.2h1.1M202.8 187.3h1.1M219.2 189.5h1.1M189.3 198.9h1.1M187.6 193.5h1.1M199 201.4h1.1M219.9 189h1.1M214.7 193.6h1.1M188.4 194.8h1.1M188.7 194.3h1.1M194.1 201.8h1.1M212.4 187.4h1.1M220.7 188.7h1.1M192 189.2h1.1M193.7 188.9h1.1M205 187.8h1.1M189.8 197.3h1.1M192.4 200.3h1.1M198.2 201.9h1.1M219.2 189.8h1.1M192.9 200.4h1.1M219 189.3h1.1M193.6 189h1.1M220.1 188.9h1.1M200.5 201.3h1.1M192.1 188.2h1.1M193.5 201.5h1.1M211.3 195.1h1.1M196.9 202.3h1.1M208.9 196.8h1.1M220.7 188.6h1.1M192.2 200.7h1.1M189.7 199.4h1.1M189.7 194.8h1.1M188.8 191.9h1.1M203.2 186.5h1.1M212.4 193.5h1.1M190.4 199.5h1.1M199.8 201h1.1M200.3 201.5h1.1M219.4 189.7h1.1M210 187.2h1.1M189 196.8h1.1M217.1 188.9h1.1M212 188.5h1.1M200.4 201.9h1.1M204.2 187h1.1M214.2 195.1h1.1M200.8 186.3h1.1M188.8 199.2h1.1M188.6 198h1.1M191.4 201.4h1.1M205.8 199.1h1.1M220.6 189.5h1.1M218.7 190.3h1.1M194.7 188.7h1.1M207.8 198h1.1M190.4 197.9h1.1M196.2 201.7h1.1M187.5 193.1h1.1M195.4 201.7h1.1M191.2 200.3h1.1M217.5 191.5h1.1M214.6 187.1h1.1M218.8 190.2h1.1M211.1 194.8h1.1M195.5 202.9h1.1M207.1 198.3h1.1M214.7 193.1h1.1M187.8 197.2h1.1M208.3 186.1h1.1M206.5 197.5h1.1M206.8 199.2h1.1M209.7 187.1h1.1M189.1 196.8h1.1M194.3 201h1.1M199.6 201.5h1.1M202.5 186.8h1.1M189.8 197.5h1.1M194.7 203.6h1.1M190 196.4h1.1M190.4 191.7h1.1M214.1 194.2h1.1M193.3 202h1.1M221 189.3h1.1M192.1 188.2h1.1M190 200.7h1.1M219.6 188.8h1.1M202.2 187.2h1.1M200.3 188.3h1.1M192.5 190.6h1.1M207.8 186.6h1.1M205.3 187.5h1.1M212.9 188.1h1.1M188.3 197.1h1.1M207.4 186.5h1.1M205.7 187.1h1.1M194.7 202.3h1.1M203.8 187.2h1.1M192.9 199.7h1.1M195.8 202.7h1.1M192.3 201.2h1.1M187.6 195.3h1.1M191 199.3h1.1M197.7 189h1.1M189.2 193.6h1.1M191.9 189.9h1.1M202.8 187.1h1.1M212.8 193.9h1.1M195.2 202.8h1.1M189.8 191.7h1.1M188.2 189.7h1.1M189.4 200.3h1.1M219 190.9h1.1M185.8 194.3h1.1M199.1 185.6h1.1M213 195.8h1.1M186.3 196.2h1.1M203 202.9h1.1M204.7 199.6h1.1M188.7 192.7h1.1M221.3 187.8h1.1M186.1 197.1h1.1M211 185.7h1.1M193.3 204.5h1.1M202.4 184.5h1.1M204.7 200.3h1.1M189.4 192.1h1.1M211.8 187.2h1.1M191.4 202.4h1.1M186.5 195.8h1.1M200 204h1.1M202.3 185.8h1.1M194.8 203.3h1.1M220.3 191.8h1.1M199.6 203h1.1M203.4 203h1.1M189.1 191.3h1.1M204.6 185.3h1.1M189.6 201.4h1.1M186.4 194.6h1.1M211.4 184.1h1.1M201.4 202.4h1.1M216.9 193.8h1.1M211.7 185.8h1.1M194.5 186h1.1M187.9 192.7h1.1M213.1 186.4h1.1M185.9 197.8h1.1M201.1 184.8h1.1M187 192.9h1.1M196.9 203.4h1.1M187.9 193.1h1.1M188 193.9h1.1M205.5 201.2h1.1M209.2 198.2h1.1M191 189.7h1.1M189 189.7h1.1M206.5 203.9h1.1M187 196.8h1.1M210.5 198.1h1.1M188.7 199.8h1.1M214.2 195h1.1M212.8 184.6h1.1M215.3 196.3h1.1M195.8 186.3h1.1M213.3 184.7h1.1M187.7 198.4h1.1M185.1 196.9h1.1M186.5 190.4h1.1M209.1 201.4h1.1M218.6 186.8h1.1M215.9 193.9h1.1M220.5 184.9h1.1M206.6 200.7h1.1M206.4 200.6h1.1M197.5 202.8h1.1M200 203.5h1.1M207.6 200.3h1.1M214.4 186.2h1.1M204.3 203.1h1.1M185.7 198.6h1.1M205.8 184.9h1.1M188.1 196.9h1.1M187.6 193.4h1.1M220.8 192h1.1M187.2 196.1h1.1M217.2 187.8h1.1M205.7 185.3h1.1M202.7 184.9h1.1M197.1 185.7h1.1M210.2 199.9h1.1M195.1 203h1.1M212.9 199.3h1.1M186.6 198.1h1.1M209.7 184.6h1.1M187.3 194.7h1.1M212.6 196.2h1.1M216.8 185.7h1.1M211 196.9h1.1M210.9 198h1.1M215.1 195.6h1.1M221.9 191.9h1.1M200.3 186.2h1.1M218.5 187.8h1.1M193.1 205h1.1M208.4 200.8h1.1M189.5 200.1h1.1M203 202.2h1.1M196.1 186.5h1.1M188 197.3h1.1M188.8 197.8h1.1M221.1 188.3h1.1M201.6 185.8h1.1M189.7 189.2h1.1M214.8 185.8h1.1M195.2 186.9h1.1M220.4 189h1.1M216.2 185.6h1.1M191.3 202.1h1.1M204.3 201.5h1.1M189 201h1.1M204.9 185.6h1.1M185.8 198.5h1.1M212.1 185.6h1.1M215.9 194.6h1.1M187.9 198.6h1.1M202.6 202.5h1.1M187.9 193h1.1M187 198.9h1.1M191 201.2h1.1M207.4 200.2h1.1M189.3 190.8h1.1M188.1 192.6h1.1M185.3 195.6h1.1M185.5 194.2h1.1M208.6 200.4h1.1M192.3 203.3h1.1M207.3 200.4h1.1M190.1 202.6h1.1M216.2 186.3h1.1M211.5 185.8h1.1M220.4 187.3h1.1M221.5 193.6h1.1M192.5 203.5h1.1M187.6 194.5h1.1M191 202.8h1.1M192.8 188.2h1.1M187.5 198h1.1M197.1 186h1.1M191.2 188.6h1.1M194.9 186.6h1.1M213.2 197.6h1.1M189.9 203h1.1M190 201.6h1.1M204.5 202.6h1.1M189 201h1.1M188.9 203.8h1.1M195.8 203.4h1.1M207.5 185.4h1.1M194.8 203.5h1.1M193.5 203.5h1.1M187.6 193.9h1.1M187.4 201.8h1.1M188.4 190.3h1.1M191.5 188.2h1.1M208.5 198.6h1.1M218.9 186.3h1.1M208.9 184.5h1.1M213.4 186.3h1.1M187.6 192.6h1.1M207.9 201.8h1.1M223.5 189.8h1.1M186.7 193.4h1.1M203.5 186.5h1.1M216.5 186.7h1.1M194.1 185h1.1M213.3 196.5h1.1M205.4 204h1.1M222.3 188.8h1.1M204.5 201h1.1M195.7 203.5h1.1M215.4 185.4h1.1M188.5 197.8h1.1M187.7 197.5h1.1M203.5 201.3h1.1M196 185.7h1.1M219.1 186.4h1.1M188.9 201h1.1M191.4 187.8h1.1M187.5 195h1.1M187.7 193h1.1M211.5 196.8h1.1M188 188.8h1.1M195.5 186h1.1M189 199.9h1.1M186.1 197.5h1.1M187.2 193.1h1.1M194.7 204.4h1.1M185.2 195.7h1.1M186.3 194.8h1.1M218.5 193.4h1.1M215 187.2h1.1M187.5 193.3h1.1M187.2 198.8h1.1M189.4 189.2h1.1M186 195h1.1M218 193.5h1.1M220.6 188.4h1.1" stroke="#000" stroke-width="1.1" fill="none" opacity="1"/>
<path d="M177.5 160.5H266.5V250.5" stroke="#444" stroke-width="1" fill="none"/>
<path d="M177.5 160V250.5H267" stroke="#000" stroke-width="1.4" fill="none"/>
<path d="M189.5 160.5V250.5M177.5 205.5H266.5" stroke="#111" stroke-width="1" fill="none"/>
<path d="M177.5 250.5v2.7M177.5 250.5h-2.7M184.2 250.5v1.8M177.5 243.7h-1.8M188.1 250.5v1.8M177.5 239.8h-1.8M190.9 250.5v1.8M177.5 237h-1.8M193.1 250.5v1.8M177.5 234.8h-1.8M194.8 250.5v1.8M177.5 233h-1.8M196.3 250.5v1.8M177.5 231.5h-1.8M197.6 250.5v1.8M177.5 230.2h-1.8M198.7 250.5v1.8M177.5 229h-1.8M199.8 250.5v2.7M177.5 228h-2.7M206.4 250.5v1.8M177.5 221.2h-1.8M210.4 250.5v1.8M177.5 217.3h-1.8M213.1 250.5v1.8M177.5 214.5h-1.8M215.3 250.5v1.8M177.5 212.3h-1.8M217.1 250.5v1.8M177.5 210.5h-1.8M218.6 250.5v1.8M177.5 209h-1.8M219.8 250.5v1.8M177.5 207.7h-1.8M221 250.5v1.8M177.5 206.5h-1.8M222 250.5v2.7M177.5 205.5h-2.7M228.7 250.5v1.8M177.5 198.7h-1.8M232.6 250.5v1.8M177.5 194.8h-1.8M235.4 250.5v1.8M177.5 192h-1.8M237.6 250.5v1.8M177.5 189.8h-1.8M239.3 250.5v1.8M177.5 188h-1.8M240.8 250.5v1.8M177.5 186.5h-1.8M242.1 250.5v1.8M177.5 185.2h-1.8M243.2 250.5v1.8M177.5 184h-1.8M244.2 250.5v2.7M177.5 183h-2.7M250.9 250.5v1.8M177.5 176.2h-1.8M254.9 250.5v1.8M177.5 172.3h-1.8M257.6 250.5v1.8M177.5 169.5h-1.8M259.8 250.5v1.8M177.5 167.3h-1.8M261.6 250.5v1.8M177.5 165.5h-1.8M263.1 250.5v1.8M177.5 164h-1.8M264.3 250.5v1.8M177.5 162.7h-1.8M265.5 250.5v1.8M177.5 161.5h-1.8M266.5 250.5v2.4M177.5 160.5h-2.4" stroke="#000" stroke-width="0.85" fill="none"/>
<text x="172.3" y="261" font-size="8.1" textLength="10.2" lengthAdjust="spacingAndGlyphs" fill="#000" stroke="#000" stroke-width=".12">10<tspan dy="-2.3" font-size="6.9">0</tspan></text>
<text transform="translate(172.4 255.7) rotate(-90)" font-size="8.1" textLength="11" lengthAdjust="spacingAndGlyphs" fill="#000" stroke="#000" stroke-width=".12">10<tspan dy="-2.3" font-size="6.9">0</tspan></text>
<text x="194.6" y="261" font-size="8.1" textLength="10.2" lengthAdjust="spacingAndGlyphs" fill="#000" stroke="#000" stroke-width=".12">10<tspan dy="-2.3" font-size="6.9">1</tspan></text>
<text transform="translate(172.4 233.2) rotate(-90)" font-size="8.1" textLength="11" lengthAdjust="spacingAndGlyphs" fill="#000" stroke="#000" stroke-width=".12">10<tspan dy="-2.3" font-size="6.9">1</tspan></text>
<text x="216.8" y="261" font-size="8.1" textLength="10.2" lengthAdjust="spacingAndGlyphs" fill="#000" stroke="#000" stroke-width=".12">10<tspan dy="-2.3" font-size="6.9">2</tspan></text>
<text transform="translate(172.4 210.7) rotate(-90)" font-size="8.1" textLength="11" lengthAdjust="spacingAndGlyphs" fill="#000" stroke="#000" stroke-width=".12">10<tspan dy="-2.3" font-size="6.9">2</tspan></text>
<text x="239.1" y="261" font-size="8.1" textLength="10.2" lengthAdjust="spacingAndGlyphs" fill="#000" stroke="#000" stroke-width=".12">10<tspan dy="-2.3" font-size="6.9">3</tspan></text>
<text transform="translate(172.4 188.2) rotate(-90)" font-size="8.1" textLength="11" lengthAdjust="spacingAndGlyphs" fill="#000" stroke="#000" stroke-width=".12">10<tspan dy="-2.3" font-size="6.9">3</tspan></text>
<text x="261.3" y="261" font-size="8.1" textLength="10.2" lengthAdjust="spacingAndGlyphs" fill="#000" stroke="#000" stroke-width=".12">10<tspan dy="-2.3" font-size="6.9">4</tspan></text>
<text transform="translate(172.4 168.7) rotate(-90)" font-size="8.1" textLength="11" lengthAdjust="spacingAndGlyphs" fill="#000" stroke="#000" stroke-width=".12">10<tspan dy="-2.3" font-size="6.9">4</tspan></text>
<text x="196.5" y="271.4" font-size="9.8" textLength="53.2" lengthAdjust="spacingAndGlyphs" fill="#000" stroke="#000" stroke-width=".2">CD66b FITC</text>
<text transform="translate(160.6 228.3) rotate(-90)" font-size="9.8" textLength="57.1" lengthAdjust="spacingAndGlyphs" fill="#000" stroke="#000" stroke-width=".2">CD16 PECy5</text>
<text x="198.8" y="157.4" font-size="12.1" font-weight="bold" textLength="48.4" lengthAdjust="spacingAndGlyphs" fill="#000" stroke="#000" stroke-width=".3">Day +43</text>
<ellipse cx="185.1" cy="226.2" rx="11.3" ry="15.5" fill="none" stroke="#000" stroke-width="1"/>
<path d="M197.4 227.5H206" stroke="#222" stroke-width="1"/>
<text x="222.8" y="231.1" font-size="11" font-weight="bold" textLength="23.7" lengthAdjust="spacingAndGlyphs" fill="#000" stroke="#000" stroke-width=".3">1.4%</text>
<polygon points="316.7,191.8 316.4,190.9 317.3,190.2 316.1,188.7 317.1,188 317.7,187.2 318.3,186.4 319.5,186.5 320.1,185.5 321.4,185.3 322.6,184.6 324,183.9 325.6,184.3 327.1,184.4 328.5,183.9 329.8,184 331.2,184.2 332.6,184.5 334.1,184.4 335.3,185.3 336.5,185.8 337.2,186.8 337.9,187.5 339,187.9 339.5,188.9 339.3,190.1 340.8,190.6 340.8,191.7 341.4,192.6 341.4,193.6 341.2,194.8 340.6,195.9 340.9,197.2 340.4,198.3 340.3,199.5 340,200.5 339.3,201.3 338.1,201.8 337.3,202.4 337.1,203.8 335.7,203.3 335.3,204.7 334.3,204.8 333.2,204 331.9,203.9 330.3,203.4 328.7,202.7 327,202.2 325.7,200.8 323.9,200.9 322.9,199.9 321.7,199.2 320.3,199.1 319.3,198.3 319,196.8 317.9,196.6 317.4,196 316.3,195.9 316.5,195 316.1,194.4 315.8,193.8 315.4,193.2 316.1,192.5" fill="#000"/>
<path d="M325.6 206h.9M342.8 209.1h.9M331.3 211.2h.9M344.4 205.7h.9M342.5 213.9h.9M344 212.1h.9M336.5 211.9h.9M343.8 206.2h.9M334.4 205.6h.9M341.5 213.8h.9M334.6 209.3h.9M338.7 208.1h.9M340.2 209.4h.9M333.8 210.2h.9M329.6 213.7h.9M337.7 208.9h.9M337 211.1h.9M336.5 205.1h.9M339.7 215.3h.9M332.9 210.5h.9M327.5 209.2h.9M329.4 207.7h.9M333.4 208.1h.9M328.7 211.3h.9M335.2 203.3h.9M335.7 215.9h.9M328.7 208.8h.9M338.1 215h.9M332.1 205.5h.9M327.1 203.2h.9M338.7 205h.9M334.3 209.2h.9M338.1 210.7h.9M339.7 210.4h.9M329.5 216.2h.9M336.8 207.6h.9M345.4 203.9h.9M342.3 207.1h.9M335.1 205.1h.9M338.4 209.1h.9M339.3 208.5h.9M339.6 207.1h.9M332.8 208.3h.9M336.6 210.1h.9M328.7 205.7h.9M340.7 212.7h.9M334.4 205.2h.9M336.7 210.5h.9M343 202h.9M337.6 209.7h.9M334.2 234.6h.9M331.9 226.3h.9M344.9 231h.9M333.3 222.7h.9M342.9 227h.9M340.2 230.5h.9M339.6 228.1h.9M330.2 240h.9M340.1 234h.9M345.2 225.1h.9M340.5 219.6h.9M348.5 238.3h.9M329 214.5h.9M323 222h.9M338 229.6h.9M331.7 208.1h.9M338.8 205.2h.9M348.6 210.3h.9M345.6 216.7h.9M337.6 201.8h.9M341.9 210.3h.9M342.1 211h.9M348.6 205.9h.9M336.4 220h.9M334.4 214.7h.9M340.4 203h.9M340.9 217.1h.9M324.9 212.6h.9M325 220.5h.9" stroke="#3a3a3a" stroke-width=".9" fill="none" opacity="1"/>
<path d="M324.6 202.2h1.1M336.4 203.3h1.1M336.9 203h1.1M316.8 189.5h1.1M324.9 184.1h1.1M317 197h1.1M319.1 199.1h1.1M329.8 184.3h1.1M330.2 204.4h1.1M314.6 194.2h1.1M335 204.9h1.1M316.5 188.7h1.1M318.8 198.5h1.1M327.8 185.1h1.1M340.4 189.4h1.1M338.7 189.2h1.1M315.6 187.5h1.1M328.2 182.7h1.1M340.4 198.8h1.1M320.3 184.5h1.1M338.5 201.4h1.1M335.3 205.2h1.1M326.8 183.4h1.1M332.2 184.4h1.1M322 200.4h1.1M333 185.1h1.1M317.5 185.8h1.1M337.1 204.7h1.1M331.9 184.9h1.1M315.5 189.4h1.1M315.1 191.3h1.1M339.8 201.7h1.1M319.4 198.5h1.1M316.8 189.1h1.1M334.2 185.4h1.1M318.5 198.4h1.1M319.5 199.1h1.1M339.9 188.2h1.1M334.4 185.3h1.1M339.8 199.4h1.1M340.6 194.4h1.1M333.5 185.7h1.1M331.5 184.4h1.1M340.4 195.4h1.1M340 192.9h1.1M337.1 185.7h1.1M340.5 196.5h1.1M335.3 186.1h1.1M318.5 198.6h1.1M321.9 184.5h1.1M339.3 190.2h1.1M323.1 185.1h1.1M337.7 201.1h1.1M329.6 203.8h1.1M339.9 190.9h1.1M329.3 204.4h1.1M332.4 185.1h1.1M324.7 202.9h1.1M315.7 189.9h1.1M339.3 195.5h1.1M329.9 184.4h1.1M315.2 191.4h1.1M341.6 196.2h1.1M329.8 204.9h1.1M330.6 205h1.1M340.9 196.1h1.1M318.1 200.3h1.1M334 184.9h1.1M328 184h1.1M340.4 194.7h1.1M330.9 183.7h1.1M320.3 184.6h1.1M340.2 196.1h1.1M323.1 200.9h1.1M332.8 184.5h1.1M339.6 192.8h1.1M323.4 184.7h1.1M333.8 204.5h1.1M340.2 198.1h1.1M319.6 185.5h1.1M329.3 184.2h1.1M317.5 198.1h1.1M339.8 188.4h1.1M339 200h1.1M338.7 202.6h1.1M336 203.4h1.1M323 199.4h1.1M340.9 191.4h1.1M317.7 195.7h1.1M341.3 198.6h1.1M314.4 193.5h1.1M335.5 204.4h1.1M338 201.4h1.1M323.6 201.6h1.1M315.1 193.2h1.1M321.4 198.7h1.1M321.7 200.3h1.1M340.5 200h1.1M320.5 186.2h1.1M340.3 198.8h1.1M318.8 197.8h1.1M315.7 196.6h1.1M333.5 204h1.1M319.6 184.9h1.1M316.8 187.7h1.1M339.3 190h1.1M316.7 191.8h1.1M332.7 185.1h1.1M330.9 203.6h1.1M319.2 186h1.1M341.2 192.9h1.1M328.4 182.6h1.1M318.8 186.1h1.1M339.9 199.2h1.1M315.9 191.7h1.1M319.3 185.8h1.1M338 205.1h1.1M319.5 198.7h1.1M319.5 198.9h1.1M335.2 184.9h1.1M333.9 203.2h1.1M324.1 201.6h1.1M338.1 188.8h1.1M317.1 189.1h1.1M339.4 187.4h1.1M341.3 192h1.1M336.7 186.9h1.1M315.6 186.7h1.1M341.3 193.8h1.1M314.9 190.1h1.1M318 186.3h1.1M322.1 184.5h1.1M329.2 182.7h1.1M340.5 190.5h1.1M336.6 187.1h1.1M329.6 183.9h1.1M337.4 186.8h1.1M326.5 200.5h1.1M328.2 202.8h1.1M317 188.2h1.1M340.3 191.7h1.1M316.3 196.4h1.1M330.6 183h1.1M335.1 184.7h1.1M320.6 199.8h1.1M326.2 183.7h1.1M338.6 200.3h1.1M337.6 186.5h1.1M338.8 200.3h1.1M320.7 185.9h1.1M340.1 199.4h1.1M339.9 200.9h1.1M340.8 198.2h1.1M337.7 201.8h1.1M321.2 185.3h1.1M339 199h1.1M337.5 203.4h1.1M324.2 183.5h1.1M341.3 192.1h1.1M316.8 195.9h1.1M315.1 193.8h1.1M316 195.8h1.1M318.2 186h1.1M316.3 193h1.1M322.5 185.2h1.1M339.3 189.5h1.1M333.1 183.2h1.1M326.8 182.1h1.1M332.5 205.3h1.1M340.5 198.3h1.1M318.7 186.1h1.1M318.2 197h1.1M341 200.3h1.1M316.1 195.2h1.1M317.1 186.7h1.1M316.2 195.9h1.1M317.2 187.3h1.1M334.2 185.1h1.1M339.4 190.2h1.1M341.2 197h1.1M341.1 192.8h1.1M323.9 184.8h1.1M316.4 195.9h1.1M315.6 196.5h1.1M316.3 197.2h1.1M337.4 185.7h1.1M316.7 195.9h1.1M333.6 184.4h1.1M322.8 199.9h1.1M316.7 190.8h1.1M324.1 185.5h1.1M317.5 195.3h1.1M339.3 201.5h1.1M332.3 203.6h1.1M318.1 198.4h1.1M320 198.7h1.1M340 197.7h1.1M325.1 184.6h1.1M317.1 197.8h1.1M318.6 186.6h1.1M315 194h1.1M316.6 196.6h1.1M335.6 205.3h1.1M316.6 189.1h1.1M330.1 203.4h1.1M335.4 186.9h1.1M315 190.8h1.1M339.5 196.8h1.1M332.9 203.7h1.1M332.5 204.2h1.1M317.7 184.5h1.1M336.9 187.8h1.1M327.6 184.4h1.1M336.4 203.5h1.1M340.9 192.3h1.1M318.8 185.3h1.1M335.1 205.2h1.1M338.9 186.2h1.1M335 185h1.1M330.5 184.3h1.1M319.5 198.9h1.1M338.4 201.6h1.1M315 194.2h1.1M330.9 184.3h1.1M325.5 184.6h1.1M331 205.3h1.1M340.8 189.8h1.1M337.7 203.6h1.1M333.9 185.7h1.1M326.5 184.5h1.1M339.3 199.5h1.1M316 195.7h1.1M316.9 188.4h1.1M340.5 195.6h1.1M341.2 197.4h1.1M331.8 183.4h1.1M324.5 202.6h1.1M315.8 195.2h1.1M337.5 201.2h1.1M332.2 183.6h1.1M326.9 201.6h1.1M328.3 203.2h1.1M340.4 197.5h1.1M326.2 203h1.1M323.5 184.8h1.1M338.9 202h1.1M341.4 191.6h1.1M315.9 193.7h1.1M317.1 195.8h1.1M315.6 194.3h1.1M316.5 197.9h1.1M339.7 193.4h1.1M317.7 196.7h1.1M319.8 184.7h1.1M317.7 187.6h1.1M317 196.3h1.1M332.3 206.2h1.1M315.4 191.5h1.1M315.2 192.4h1.1M320.4 198.2h1.1M336.2 202.8h1.1M339.3 201.3h1.1M333.9 204.5h1.1M314.8 189.3h1.1M321 200h1.1M324.1 200.9h1.1M335.3 204.5h1.1M340.9 193.3h1.1M315.5 192h1.1M338.3 188h1.1M340.9 195.9h1.1M337 203.2h1.1M316.3 196.8h1.1M339.8 198.8h1.1M320.6 199.3h1.1M340.7 194.1h1.1M321.7 183.2h1.1M322 200.5h1.1M315.9 196.1h1.1M335.5 185.8h1.1M339.6 191.1h1.1M332.1 185.2h1.1M315.3 188.5h1.1M320.9 200h1.1M322.6 200.3h1.1M314.8 192.5h1.1M320.7 198.4h1.1M317.9 187.2h1.1M325.7 185.5h1.1M333.9 205.3h1.1M324.2 200.9h1.1M319.2 184.3h1.1M335.1 205.1h1.1M315.6 191.8h1.1M319.8 199.8h1.1M329.1 204h1.1M320.7 199.2h1.1M316.8 196.2h1.1M319.7 198.9h1.1M323.9 199.8h1.1M336.1 186.6h1.1M339.9 190.4h1.1M340.6 192.3h1.1M340.3 199h1.1M334.1 185.5h1.1M329.3 183.8h1.1M316.6 196.5h1.1M332.4 185h1.1M330.7 184.8h1.1M326.7 202h1.1M333.9 184.5h1.1M339.5 190.2h1.1M340.9 193.9h1.1M314.6 190.9h1.1M339 200.2h1.1M315.3 191.5h1.1M316.9 190.4h1.1M315.9 197.8h1.1M340.9 194.8h1.1M330.9 204.6h1.1M316.5 191.2h1.1M314.5 195.4h1.1M338.7 203.8h1.1M320.4 184h1.1M314.9 189.9h1.1M342.3 190.7h1.1M316 197.9h1.1M312 194.6h1.1M315.4 189.6h1.1M338.3 184.1h1.1M342.4 198.9h1.1M331.1 205.3h1.1M320.3 183.4h1.1M341 200.9h1.1M318.2 199h1.1M320.7 182.4h1.1M323.2 183.1h1.1M341.4 197.6h1.1M335.3 184.4h1.1M316.3 198h1.1M343.4 196.4h1.1M341.4 201.6h1.1M329 206h1.1M315.8 198.1h1.1M313.2 194.4h1.1M315.5 183.9h1.1M314 193.9h1.1M342.6 192.6h1.1M328.7 182.1h1.1M341.7 191h1.1M313.7 195.3h1.1M321.1 180.8h1.1M340.9 188.8h1.1M329.4 204.4h1.1M342.1 199.7h1.1M322.2 183.4h1.1M314.4 195h1.1M315.9 186h1.1M315.1 197.1h1.1M333.6 184.4h1.1M318.7 200.2h1.1M341.4 192.4h1.1M314.1 193.3h1.1M336.7 205.8h1.1M316.5 183.1h1.1M329.7 204.4h1.1M342.3 193.3h1.1M329.1 181.3h1.1M337.9 205.9h1.1M342.4 192.2h1.1M342.5 191h1.1M340.4 202.7h1.1M341.7 187.5h1.1M327.5 206.2h1.1M325.6 203.7h1.1M313.6 195.1h1.1M323.2 203.6h1.1M320 201.4h1.1M342 205.1h1.1M315.9 198.7h1.1M330.8 207.3h1.1M332 207.1h1.1M343.5 192.5h1.1M336.9 208.8h1.1M320.3 201.3h1.1M313.1 193.4h1.1M311.5 199.2h1.1M313.9 195.3h1.1M314 193.7h1.1M326.3 205.1h1.1M341.7 190.9h1.1M325.8 181.8h1.1M315.6 188.1h1.1M315.9 196.9h1.1M339.9 201.8h1.1M338.8 186.4h1.1M316.5 197.7h1.1M315.8 188.3h1.1M315.8 186.7h1.1M313.7 190.6h1.1M318.1 198.9h1.1M317.3 185.7h1.1M342.4 190.2h1.1M312.9 191.8h1.1M341 203h1.1M342.5 199.4h1.1M316.8 185.4h1.1M320.9 183h1.1M326.5 206.2h1.1M335.4 182.4h1.1M315.8 186.9h1.1M316.5 197.8h1.1M333.1 207h1.1M342.2 190.4h1.1M343 192.9h1.1M337.7 204.3h1.1M330.5 182.9h1.1M333.1 182.4h1.1M315 188.9h1.1M341.6 187.7h1.1M339.8 186.8h1.1M342.7 193.3h1.1M315.6 184.9h1.1M321.6 183.3h1.1M339.2 203h1.1M313.7 194.4h1.1M328.8 183.2h1.1M330.7 205.8h1.1M343.6 193.7h1.1M341.2 204.7h1.1M314.9 185.7h1.1M343.7 190.2h1.1M341.9 198.6h1.1M314.9 189.6h1.1M315.9 198.6h1.1M318.2 201.3h1.1M342.6 193.2h1.1M325.2 183.8h1.1M313.3 194h1.1M314.4 190.1h1.1M342.6 200.2h1.1M324 181.6h1.1M343.7 191.4h1.1M317.4 184.7h1.1M330.7 182.9h1.1M314.3 195.9h1.1M341.4 201.6h1.1M313.4 191.5h1.1M341 190.6h1.1M313.7 193.5h1.1M328.5 182.7h1.1M313.2 194.5h1.1M342.3 188.9h1.1M317.7 199.8h1.1M316.8 186.1h1.1M315.8 201.4h1.1M315.4 197.8h1.1M325.8 203.1h1.1M340.4 189.2h1.1M342.6 188.5h1.1M314.2 195h1.1M314.8 192.7h1.1M342.1 200.8h1.1M341.8 200.1h1.1M330.3 182.1h1.1M313.9 188.2h1.1M337.1 185.7h1.1M320.2 202.8h1.1M314.5 198.7h1.1M321.5 203h1.1M343.6 199.4h1.1M314 190.7h1.1M335.4 184.4h1.1M313.9 188.2h1.1M328.2 183h1.1M339.6 201.2h1.1M314 189.1h1.1M323.1 182.8h1.1M323.3 182.3h1.1M318.6 200.1h1.1M332.1 205.2h1.1M320.4 201.3h1.1M315.4 186.4h1.1M342.4 188.3h1.1M340 202.5h1.1M313.2 190h1.1M316.6 184.8h1.1M330.9 205.4h1.1M312.9 190.1h1.1M312.7 193.5h1.1M313.8 197h1.1M313.4 194.1h1.1M331.2 205.8h1.1M313.5 189.1h1.1M313.5 196.5h1.1M332.2 182.5h1.1M319.5 182.2h1.1M318.4 183h1.1M322 202.9h1.1M326.6 204.5h1.1M336.9 204.3h1.1M338.5 203.9h1.1M334 184.5h1.1M317.7 201.8h1.1M312.6 192.7h1.1M315.3 188.7h1.1M342.2 195.2h1.1M315.4 186.4h1.1M336.7 205.3h1.1M321.3 200.4h1.1M315.9 186.8h1.1M320.6 183.5h1.1M315.3 188.2h1.1M311.5 192.4h1.1M314.9 187.8h1.1M341.7 198.1h1.1M314.3 197.7h1.1M334.7 183h1.1M351.6 168.2h1.1M352.5 167.8h1.1M351.1 171h1.1M351.6 169.8h1.1M351 170.2h1.1M352.6 167.5h1.1M351.4 169.8h1.1M351.7 169.4h1.1M351.6 169.7h1.1M351 170.2h1.1M352.7 167.8h1.1M352.1 169.7h1.1M351.2 169.8h1.1M352.9 168h1.1M350.2 169h1.1M351.9 169.3h1.1" stroke="#000" stroke-width="1.1" fill="none" opacity="1"/>
<path d="M297.5 160.5H386.5V251.5" stroke="#444" stroke-width="1" fill="none"/>
<path d="M297.5 160V251.5H387" stroke="#000" stroke-width="1.4" fill="none"/>
<path d="M318.5 160.5V251.5M297.5 207.5H386.5" stroke="#111" stroke-width="1" fill="none"/>
<path d="M297.5 251.5v2.7M297.5 251.5h-2.7M304.2 251.5v1.8M297.5 244.7h-1.8M308.1 251.5v1.8M297.5 240.6h-1.8M310.9 251.5v1.8M297.5 237.8h-1.8M313.1 251.5v1.8M297.5 235.6h-1.8M314.8 251.5v1.8M297.5 233.8h-1.8M316.3 251.5v1.8M297.5 232.3h-1.8M317.6 251.5v1.8M297.5 231h-1.8M318.7 251.5v1.8M297.5 229.8h-1.8M319.8 251.5v2.7M297.5 228.8h-2.7M326.4 251.5v1.8M297.5 221.9h-1.8M330.4 251.5v1.8M297.5 217.9h-1.8M333.1 251.5v1.8M297.5 215.1h-1.8M335.3 251.5v1.8M297.5 212.8h-1.8M337.1 251.5v1.8M297.5 211h-1.8M338.6 251.5v1.8M297.5 209.5h-1.8M339.8 251.5v1.8M297.5 208.2h-1.8M341 251.5v1.8M297.5 207h-1.8M342 251.5v2.7M297.5 206h-2.7M348.7 251.5v1.8M297.5 199.2h-1.8M352.6 251.5v1.8M297.5 195.1h-1.8M355.4 251.5v1.8M297.5 192.3h-1.8M357.6 251.5v1.8M297.5 190.1h-1.8M359.3 251.5v1.8M297.5 188.3h-1.8M360.8 251.5v1.8M297.5 186.8h-1.8M362.1 251.5v1.8M297.5 185.5h-1.8M363.2 251.5v1.8M297.5 184.3h-1.8M364.2 251.5v2.7M297.5 183.2h-2.7M370.9 251.5v1.8M297.5 176.4h-1.8M374.9 251.5v1.8M297.5 172.4h-1.8M377.6 251.5v1.8M297.5 169.6h-1.8M379.8 251.5v1.8M297.5 167.3h-1.8M381.6 251.5v1.8M297.5 165.5h-1.8M383.1 251.5v1.8M297.5 164h-1.8M384.3 251.5v1.8M297.5 162.7h-1.8M385.5 251.5v1.8M297.5 161.5h-1.8M386.5 251.5v2.4M297.5 160.5h-2.4" stroke="#000" stroke-width="0.85" fill="none"/>
<text x="292.3" y="261.8" font-size="8.1" textLength="10.2" lengthAdjust="spacingAndGlyphs" fill="#000" stroke="#000" stroke-width=".12">10<tspan dy="-2.3" font-size="6.9">0</tspan></text>
<text transform="translate(292.3 256.7) rotate(-90)" font-size="8.1" textLength="11" lengthAdjust="spacingAndGlyphs" fill="#000" stroke="#000" stroke-width=".12">10<tspan dy="-2.3" font-size="6.9">0</tspan></text>
<text x="314.6" y="261.8" font-size="8.1" textLength="10.2" lengthAdjust="spacingAndGlyphs" fill="#000" stroke="#000" stroke-width=".12">10<tspan dy="-2.3" font-size="6.9">1</tspan></text>
<text transform="translate(292.3 234) rotate(-90)" font-size="8.1" textLength="11" lengthAdjust="spacingAndGlyphs" fill="#000" stroke="#000" stroke-width=".12">10<tspan dy="-2.3" font-size="6.9">1</tspan></text>
<text x="336.8" y="261.8" font-size="8.1" textLength="10.2" lengthAdjust="spacingAndGlyphs" fill="#000" stroke="#000" stroke-width=".12">10<tspan dy="-2.3" font-size="6.9">2</tspan></text>
<text transform="translate(292.3 211.2) rotate(-90)" font-size="8.1" textLength="11" lengthAdjust="spacingAndGlyphs" fill="#000" stroke="#000" stroke-width=".12">10<tspan dy="-2.3" font-size="6.9">2</tspan></text>
<text x="359.1" y="261.8" font-size="8.1" textLength="10.2" lengthAdjust="spacingAndGlyphs" fill="#000" stroke="#000" stroke-width=".12">10<tspan dy="-2.3" font-size="6.9">3</tspan></text>
<text transform="translate(292.3 188.5) rotate(-90)" font-size="8.1" textLength="11" lengthAdjust="spacingAndGlyphs" fill="#000" stroke="#000" stroke-width=".12">10<tspan dy="-2.3" font-size="6.9">3</tspan></text>
<text x="381.3" y="261.8" font-size="8.1" textLength="10.2" lengthAdjust="spacingAndGlyphs" fill="#000" stroke="#000" stroke-width=".12">10<tspan dy="-2.3" font-size="6.9">4</tspan></text>
<text transform="translate(292.3 168.7) rotate(-90)" font-size="8.1" textLength="11" lengthAdjust="spacingAndGlyphs" fill="#000" stroke="#000" stroke-width=".12">10<tspan dy="-2.3" font-size="6.9">4</tspan></text>
<text x="317.6" y="271.4" font-size="9.8" textLength="53.7" lengthAdjust="spacingAndGlyphs" fill="#000" stroke="#000" stroke-width=".2">CD66b FITC</text>
<text transform="translate(279.8 228.3) rotate(-90)" font-size="9.8" textLength="57.5" lengthAdjust="spacingAndGlyphs" fill="#000" stroke="#000" stroke-width=".2">CD16 PECy5</text>
<text x="325.9" y="157.4" font-size="12.1" font-weight="bold" textLength="48.4" lengthAdjust="spacingAndGlyphs" fill="#000" stroke="#000" stroke-width=".3">Day +85</text>
<ellipse cx="310.2" cy="228" rx="13.6" ry="17.6" fill="none" stroke="#000" stroke-width="1"/>
<path d="M323.8 228.5H336.2" stroke="#222" stroke-width="1"/>
<text x="347.2" y="231.6" font-size="11" font-weight="bold" textLength="30.4" lengthAdjust="spacingAndGlyphs" fill="#000" stroke="#000" stroke-width=".3">0.03%</text>
</svg></body></html>
